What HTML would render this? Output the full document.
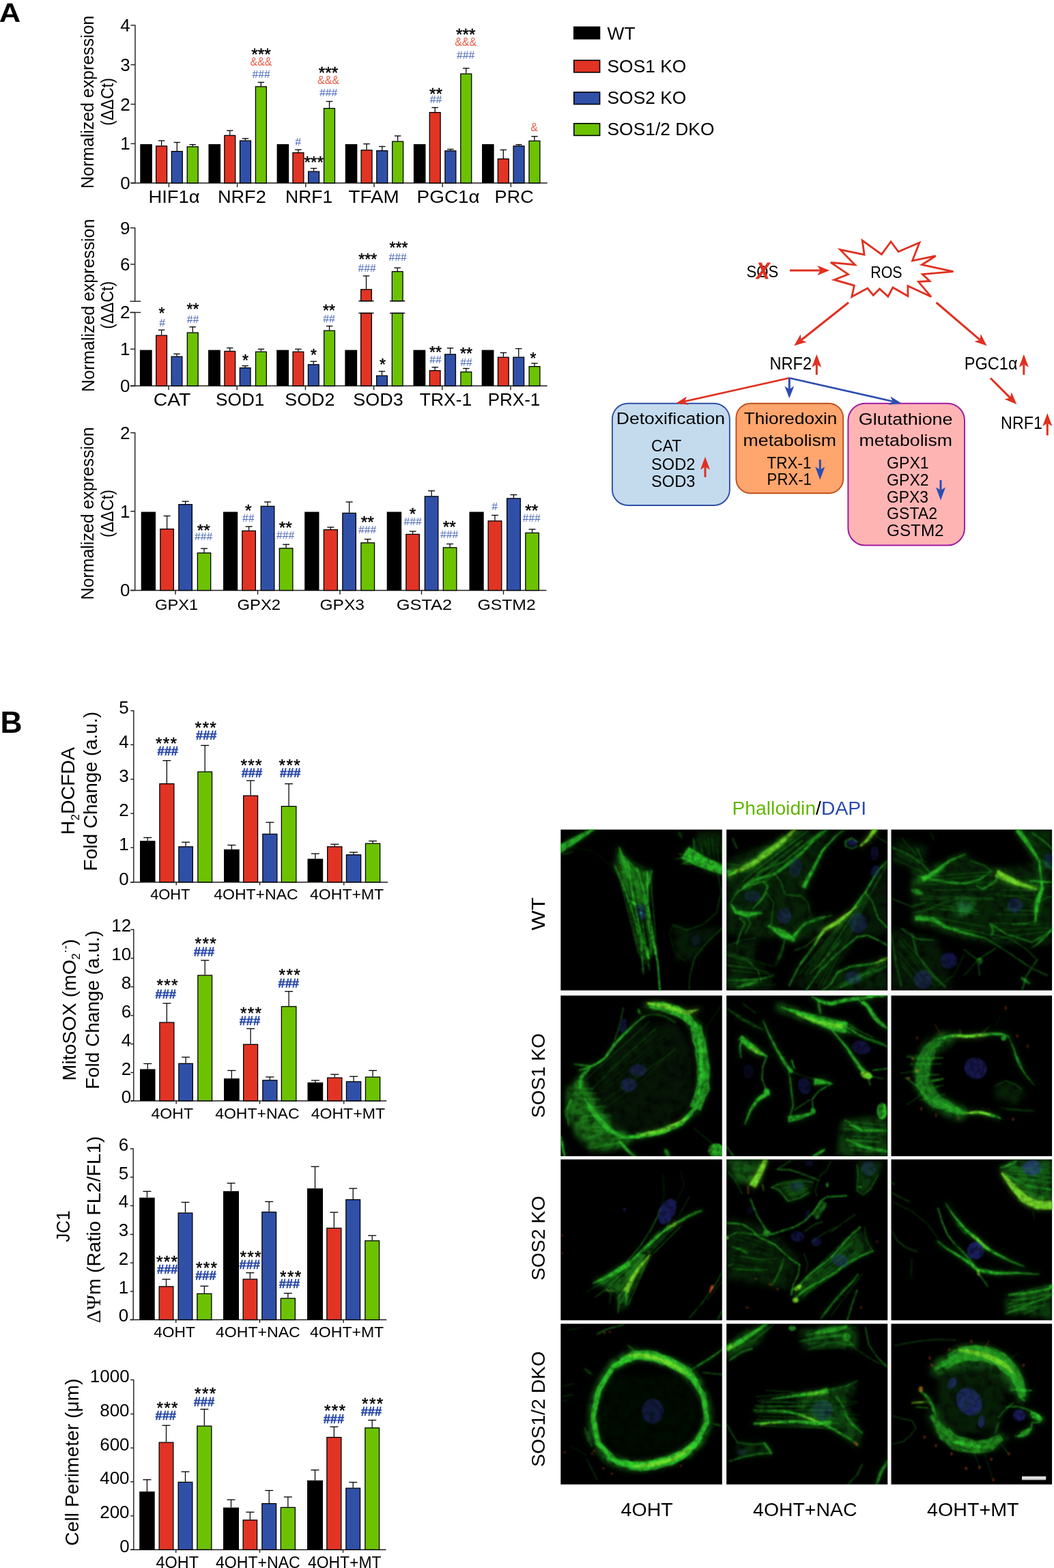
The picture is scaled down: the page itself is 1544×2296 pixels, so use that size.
<!DOCTYPE html>
<html lang="en"><head><meta charset="utf-8"><title>Figure</title>
<style>
html,body{margin:0;padding:0;background:#fff}
svg{display:block;font-family:"Liberation Sans",sans-serif}
</style></head>
<body>
<svg width="1544" height="2296" viewBox="0 0 1544 2296">
<rect width="1544" height="2296" fill="#fff"/>
<text x="-1.2" y="32.4" font-size="38.8" font-weight="bold" textLength="31.5" lengthAdjust="spacingAndGlyphs">A</text>
<text x="0.4" y="1073.2" font-size="44.3" font-weight="bold">B</text>
<line x1="198" y1="36.4" x2="198" y2="268.6" stroke="#1c1c1c" stroke-width="1.4" />
<line x1="191.5" y1="37" x2="198" y2="37" stroke="#1c1c1c" stroke-width="1.4" />
<text x="190.7" y="45.94" font-size="26" text-anchor="end">4</text>
<line x1="191.5" y1="94.8" x2="198" y2="94.8" stroke="#1c1c1c" stroke-width="1.4" />
<text x="190.7" y="103.74" font-size="26" text-anchor="end">3</text>
<line x1="191.5" y1="152.6" x2="198" y2="152.6" stroke="#1c1c1c" stroke-width="1.4" />
<text x="190.7" y="161.54" font-size="26" text-anchor="end">2</text>
<line x1="191.5" y1="210.4" x2="198" y2="210.4" stroke="#1c1c1c" stroke-width="1.4" />
<text x="190.7" y="219.34" font-size="26" text-anchor="end">1</text>
<line x1="191.5" y1="268" x2="198" y2="268" stroke="#1c1c1c" stroke-width="1.4" />
<text x="190.7" y="276.94" font-size="26" text-anchor="end">0</text>
<line x1="191.5" y1="268" x2="801.7" y2="268" stroke="#1c1c1c" stroke-width="1.4" />
<line x1="247.4" y1="268" x2="247.4" y2="274" stroke="#1c1c1c" stroke-width="1.4" />
<line x1="347.6" y1="268" x2="347.6" y2="274" stroke="#1c1c1c" stroke-width="1.4" />
<line x1="447.8" y1="268" x2="447.8" y2="274" stroke="#1c1c1c" stroke-width="1.4" />
<line x1="548" y1="268" x2="548" y2="274" stroke="#1c1c1c" stroke-width="1.4" />
<line x1="648.2" y1="268" x2="648.2" y2="274" stroke="#1c1c1c" stroke-width="1.4" />
<line x1="748.4" y1="268" x2="748.4" y2="274" stroke="#1c1c1c" stroke-width="1.4" />
<rect x="205.3" y="211.1" width="17.6" height="56.9" fill="#000" />
<line x1="236.6" y1="213.2" x2="236.6" y2="206" stroke="#000" stroke-width="1.25" />
<line x1="231.85" y1="206" x2="241.35" y2="206" stroke="#000" stroke-width="1.3" />
<rect x="228.65" y="213.85" width="15.9" height="54.15" fill="#e23424" stroke="#000" stroke-width="1.3" />
<line x1="259.3" y1="221" x2="259.3" y2="208.5" stroke="#000" stroke-width="1.25" />
<line x1="254.55" y1="208.5" x2="264.05" y2="208.5" stroke="#000" stroke-width="1.3" />
<rect x="251.35" y="221.65" width="15.9" height="46.35" fill="#3050a8" stroke="#000" stroke-width="1.3" />
<line x1="282.2" y1="214.2" x2="282.2" y2="211.7" stroke="#000" stroke-width="1.25" />
<line x1="277.45" y1="211.7" x2="286.95" y2="211.7" stroke="#000" stroke-width="1.3" />
<rect x="274.25" y="214.85" width="15.9" height="53.15" fill="#6cc200" stroke="#000" stroke-width="1.3" />
<rect x="305.45" y="211.1" width="17.6" height="56.9" fill="#000" />
<line x1="336.75" y1="197.7" x2="336.75" y2="191.2" stroke="#000" stroke-width="1.25" />
<line x1="332" y1="191.2" x2="341.5" y2="191.2" stroke="#000" stroke-width="1.3" />
<rect x="328.8" y="198.35" width="15.9" height="69.65" fill="#e23424" stroke="#000" stroke-width="1.3" />
<line x1="359.45" y1="205.4" x2="359.45" y2="202.8" stroke="#000" stroke-width="1.25" />
<line x1="354.7" y1="202.8" x2="364.2" y2="202.8" stroke="#000" stroke-width="1.3" />
<rect x="351.5" y="206.05" width="15.9" height="61.95" fill="#3050a8" stroke="#000" stroke-width="1.3" />
<line x1="382.35" y1="126.2" x2="382.35" y2="120.5" stroke="#000" stroke-width="1.25" />
<line x1="377.6" y1="120.5" x2="387.1" y2="120.5" stroke="#000" stroke-width="1.3" />
<rect x="374.4" y="126.85" width="15.9" height="141.15" fill="#6cc200" stroke="#000" stroke-width="1.3" />
<rect x="405.6" y="211.1" width="17.6" height="56.9" fill="#000" />
<line x1="436.9" y1="223" x2="436.9" y2="219.2" stroke="#000" stroke-width="1.25" />
<line x1="432.15" y1="219.2" x2="441.65" y2="219.2" stroke="#000" stroke-width="1.3" />
<rect x="428.95" y="223.65" width="15.9" height="44.35" fill="#e23424" stroke="#000" stroke-width="1.3" />
<line x1="459.6" y1="250.5" x2="459.6" y2="246.5" stroke="#000" stroke-width="1.25" />
<line x1="454.85" y1="246.5" x2="464.35" y2="246.5" stroke="#000" stroke-width="1.3" />
<rect x="451.65" y="251.15" width="15.9" height="16.85" fill="#3050a8" stroke="#000" stroke-width="1.3" />
<line x1="482.5" y1="158" x2="482.5" y2="148.5" stroke="#000" stroke-width="1.25" />
<line x1="477.75" y1="148.5" x2="487.25" y2="148.5" stroke="#000" stroke-width="1.3" />
<rect x="474.55" y="158.65" width="15.9" height="109.35" fill="#6cc200" stroke="#000" stroke-width="1.3" />
<rect x="505.75" y="211.1" width="17.6" height="56.9" fill="#000" />
<line x1="537.05" y1="219.2" x2="537.05" y2="210.7" stroke="#000" stroke-width="1.25" />
<line x1="532.3" y1="210.7" x2="541.8" y2="210.7" stroke="#000" stroke-width="1.3" />
<rect x="529.1" y="219.85" width="15.9" height="48.15" fill="#e23424" stroke="#000" stroke-width="1.3" />
<line x1="559.75" y1="220" x2="559.75" y2="214.5" stroke="#000" stroke-width="1.25" />
<line x1="555" y1="214.5" x2="564.5" y2="214.5" stroke="#000" stroke-width="1.3" />
<rect x="551.8" y="220.65" width="15.9" height="47.35" fill="#3050a8" stroke="#000" stroke-width="1.3" />
<line x1="582.65" y1="206.5" x2="582.65" y2="199" stroke="#000" stroke-width="1.25" />
<line x1="577.9" y1="199" x2="587.4" y2="199" stroke="#000" stroke-width="1.3" />
<rect x="574.7" y="207.15" width="15.9" height="60.85" fill="#6cc200" stroke="#000" stroke-width="1.3" />
<rect x="605.9" y="211.1" width="17.6" height="56.9" fill="#000" />
<line x1="637.2" y1="164" x2="637.2" y2="157.5" stroke="#000" stroke-width="1.25" />
<line x1="632.45" y1="157.5" x2="641.95" y2="157.5" stroke="#000" stroke-width="1.3" />
<rect x="629.25" y="164.65" width="15.9" height="103.35" fill="#e23424" stroke="#000" stroke-width="1.3" />
<line x1="659.9" y1="220.2" x2="659.9" y2="218.5" stroke="#000" stroke-width="1.25" />
<line x1="655.15" y1="218.5" x2="664.65" y2="218.5" stroke="#000" stroke-width="1.3" />
<rect x="651.95" y="220.85" width="15.9" height="47.15" fill="#3050a8" stroke="#000" stroke-width="1.3" />
<line x1="682.8" y1="107.5" x2="682.8" y2="100" stroke="#000" stroke-width="1.25" />
<line x1="678.05" y1="100" x2="687.55" y2="100" stroke="#000" stroke-width="1.3" />
<rect x="674.85" y="108.15" width="15.9" height="159.85" fill="#6cc200" stroke="#000" stroke-width="1.3" />
<rect x="706.05" y="211.1" width="17.6" height="56.9" fill="#000" />
<line x1="737.35" y1="232" x2="737.35" y2="219.5" stroke="#000" stroke-width="1.25" />
<line x1="732.6" y1="219.5" x2="742.1" y2="219.5" stroke="#000" stroke-width="1.3" />
<rect x="729.4" y="232.65" width="15.9" height="35.35" fill="#e23424" stroke="#000" stroke-width="1.3" />
<line x1="760.05" y1="213.2" x2="760.05" y2="211.7" stroke="#000" stroke-width="1.25" />
<line x1="755.3" y1="211.7" x2="764.8" y2="211.7" stroke="#000" stroke-width="1.3" />
<rect x="752.1" y="213.85" width="15.9" height="54.15" fill="#3050a8" stroke="#000" stroke-width="1.3" />
<line x1="782.95" y1="205.7" x2="782.95" y2="199.7" stroke="#000" stroke-width="1.25" />
<line x1="778.2" y1="199.7" x2="787.7" y2="199.7" stroke="#000" stroke-width="1.3" />
<rect x="775" y="206.35" width="15.9" height="61.65" fill="#6cc200" stroke="#000" stroke-width="1.3" />
<text x="217.4" y="296.6" font-size="26" textLength="75.3" lengthAdjust="spacingAndGlyphs">HIF1α</text>
<text x="318.9" y="296.6" font-size="26" textLength="70.9" lengthAdjust="spacingAndGlyphs">NRF2</text>
<text x="418.1" y="296.6" font-size="26" textLength="69.1" lengthAdjust="spacingAndGlyphs">NRF1</text>
<text x="510.6" y="296.6" font-size="26" textLength="74.1" lengthAdjust="spacingAndGlyphs">TFAM</text>
<text x="610.6" y="296.6" font-size="26" textLength="92.1" lengthAdjust="spacingAndGlyphs">PGC1α</text>
<text x="724.6" y="296.6" font-size="26" textLength="57.1" lengthAdjust="spacingAndGlyphs">PRC</text>
<text x="137" y="149.4" font-size="25" text-anchor="middle" textLength="253" lengthAdjust="spacingAndGlyphs" transform="rotate(-90 137 149.4)">Normalized expression</text>
<text x="166" y="149" font-size="25" text-anchor="middle" textLength="70" lengthAdjust="spacingAndGlyphs" transform="rotate(-90 166 149)">(ΔΔCt)</text>
<text x="382.5" y="87.72" font-size="24.5" text-anchor="middle" stroke="#000" stroke-width="0.45">***</text>
<text x="382.5" y="96.14" font-size="16" text-anchor="middle" fill="#e8604c">&amp;&amp;&amp;</text>
<text x="382.5" y="113.69" font-size="17.5" font-family='"Liberation Serif", serif' text-anchor="middle" fill="#4a68b8">###</text>
<text x="436.7" y="213.19" font-size="17.5" font-family='"Liberation Serif", serif' text-anchor="middle" fill="#4a68b8">#</text>
<text x="459.7" y="246.32" font-size="24.5" text-anchor="middle" stroke="#000" stroke-width="0.45">***</text>
<text x="481" y="114.62" font-size="24.5" text-anchor="middle" stroke="#000" stroke-width="0.45">***</text>
<text x="481" y="122.94" font-size="16" text-anchor="middle" fill="#e8604c">&amp;&amp;&amp;</text>
<text x="481" y="140.69" font-size="17.5" font-family='"Liberation Serif", serif' text-anchor="middle" fill="#4a68b8">###</text>
<text x="638.5" y="146.32" font-size="24.5" text-anchor="middle" stroke="#000" stroke-width="0.45">**</text>
<text x="638.5" y="150.69" font-size="17.5" font-family='"Liberation Serif", serif' text-anchor="middle" fill="#4a68b8">##</text>
<text x="682.2" y="59.32" font-size="24.5" text-anchor="middle" stroke="#000" stroke-width="0.45">***</text>
<text x="682.2" y="66.64" font-size="16" text-anchor="middle" fill="#e8604c">&amp;&amp;&amp;</text>
<text x="682.2" y="85.69" font-size="17.5" font-family='"Liberation Serif", serif' text-anchor="middle" fill="#4a68b8">###</text>
<text x="782.5" y="191.64" font-size="16" text-anchor="middle" fill="#e8604c">&amp;</text>
<rect x="840" y="38.7" width="39.3" height="19" fill="#000" />
<text x="889.5" y="57.5" font-size="26.4">WT</text>
<rect x="840.8" y="88.3" width="37.8" height="17.6" fill="#e23424" stroke="#000" stroke-width="1.6" />
<text x="889.5" y="105.5" font-size="26.4">SOS1 KO</text>
<rect x="840.8" y="135" width="37.8" height="17.6" fill="#3050a8" stroke="#000" stroke-width="1.6" />
<text x="889.5" y="152" font-size="26.4">SOS2 KO</text>
<rect x="840.8" y="180.8" width="37.8" height="17.6" fill="#6cc200" stroke="#000" stroke-width="1.6" />
<text x="889.5" y="198" font-size="26.4">SOS1/2 DKO</text>
<line x1="197.7" y1="333.2" x2="197.7" y2="441.2" stroke="#1c1c1c" stroke-width="1.4" />
<line x1="197.7" y1="457.5" x2="197.7" y2="565.6" stroke="#1c1c1c" stroke-width="1.4" />
<line x1="191" y1="333.7" x2="197.7" y2="333.7" stroke="#1c1c1c" stroke-width="1.4" />
<text x="190.4" y="342.64" font-size="26" text-anchor="end">9</text>
<line x1="191" y1="387" x2="197.7" y2="387" stroke="#1c1c1c" stroke-width="1.4" />
<text x="190.4" y="395.94" font-size="26" text-anchor="end">6</text>
<line x1="191" y1="457.5" x2="197.7" y2="457.5" stroke="#1c1c1c" stroke-width="1.4" />
<text x="190.4" y="466.44" font-size="26" text-anchor="end">2</text>
<line x1="191" y1="511.2" x2="197.7" y2="511.2" stroke="#1c1c1c" stroke-width="1.4" />
<text x="190.4" y="520.14" font-size="26" text-anchor="end">1</text>
<line x1="191" y1="565" x2="197.7" y2="565" stroke="#1c1c1c" stroke-width="1.4" />
<text x="190.4" y="573.94" font-size="26" text-anchor="end">0</text>
<line x1="190.5" y1="441.2" x2="206.2" y2="441.2" stroke="#1c1c1c" stroke-width="1.4" />
<line x1="190.5" y1="457.5" x2="206.2" y2="457.5" stroke="#1c1c1c" stroke-width="1.4" />
<line x1="191" y1="565" x2="801.7" y2="565" stroke="#1c1c1c" stroke-width="1.4" />
<line x1="247" y1="565" x2="247" y2="571" stroke="#1c1c1c" stroke-width="1.4" />
<line x1="347.2" y1="565" x2="347.2" y2="571" stroke="#1c1c1c" stroke-width="1.4" />
<line x1="447.4" y1="565" x2="447.4" y2="571" stroke="#1c1c1c" stroke-width="1.4" />
<line x1="547.6" y1="565" x2="547.6" y2="571" stroke="#1c1c1c" stroke-width="1.4" />
<line x1="647.8" y1="565" x2="647.8" y2="571" stroke="#1c1c1c" stroke-width="1.4" />
<line x1="748" y1="565" x2="748" y2="571" stroke="#1c1c1c" stroke-width="1.4" />
<rect x="204.9" y="512.5" width="17.8" height="52.5" fill="#000" />
<line x1="236.6" y1="490.5" x2="236.6" y2="483.2" stroke="#000" stroke-width="1.25" />
<line x1="231.85" y1="483.2" x2="241.35" y2="483.2" stroke="#000" stroke-width="1.3" />
<rect x="228.75" y="491.15" width="15.7" height="73.85" fill="#e23424" stroke="#000" stroke-width="1.3" />
<line x1="259" y1="521.5" x2="259" y2="518.2" stroke="#000" stroke-width="1.25" />
<line x1="254.25" y1="518.2" x2="263.75" y2="518.2" stroke="#000" stroke-width="1.3" />
<rect x="251.15" y="522.15" width="15.7" height="42.85" fill="#3050a8" stroke="#000" stroke-width="1.3" />
<line x1="282.25" y1="486.5" x2="282.25" y2="478.7" stroke="#000" stroke-width="1.25" />
<line x1="277.5" y1="478.7" x2="287" y2="478.7" stroke="#000" stroke-width="1.3" />
<rect x="274.35" y="487.15" width="15.8" height="77.85" fill="#6cc200" stroke="#000" stroke-width="1.3" />
<rect x="305.05" y="512.5" width="17.8" height="52.5" fill="#000" />
<line x1="336.75" y1="513.7" x2="336.75" y2="509.5" stroke="#000" stroke-width="1.25" />
<line x1="332" y1="509.5" x2="341.5" y2="509.5" stroke="#000" stroke-width="1.3" />
<rect x="328.9" y="514.35" width="15.7" height="50.65" fill="#e23424" stroke="#000" stroke-width="1.3" />
<line x1="359.15" y1="538" x2="359.15" y2="535.7" stroke="#000" stroke-width="1.25" />
<line x1="354.4" y1="535.7" x2="363.9" y2="535.7" stroke="#000" stroke-width="1.3" />
<rect x="351.3" y="538.65" width="15.7" height="26.35" fill="#3050a8" stroke="#000" stroke-width="1.3" />
<line x1="382.4" y1="514.5" x2="382.4" y2="511.2" stroke="#000" stroke-width="1.25" />
<line x1="377.65" y1="511.2" x2="387.15" y2="511.2" stroke="#000" stroke-width="1.3" />
<rect x="374.5" y="515.15" width="15.8" height="49.85" fill="#6cc200" stroke="#000" stroke-width="1.3" />
<rect x="405.2" y="512.5" width="17.8" height="52.5" fill="#000" />
<line x1="436.9" y1="514.5" x2="436.9" y2="511.2" stroke="#000" stroke-width="1.25" />
<line x1="432.15" y1="511.2" x2="441.65" y2="511.2" stroke="#000" stroke-width="1.3" />
<rect x="429.05" y="515.15" width="15.7" height="49.85" fill="#e23424" stroke="#000" stroke-width="1.3" />
<line x1="459.3" y1="533.2" x2="459.3" y2="529.2" stroke="#000" stroke-width="1.25" />
<line x1="454.55" y1="529.2" x2="464.05" y2="529.2" stroke="#000" stroke-width="1.3" />
<rect x="451.45" y="533.85" width="15.7" height="31.15" fill="#3050a8" stroke="#000" stroke-width="1.3" />
<line x1="482.55" y1="483.5" x2="482.55" y2="477.5" stroke="#000" stroke-width="1.25" />
<line x1="477.8" y1="477.5" x2="487.3" y2="477.5" stroke="#000" stroke-width="1.3" />
<rect x="474.65" y="484.15" width="15.8" height="80.85" fill="#6cc200" stroke="#000" stroke-width="1.3" />
<rect x="505.35" y="512.5" width="17.8" height="52.5" fill="#000" />
<line x1="559.45" y1="549.5" x2="559.45" y2="543.7" stroke="#000" stroke-width="1.25" />
<line x1="554.7" y1="543.7" x2="564.2" y2="543.7" stroke="#000" stroke-width="1.3" />
<rect x="551.6" y="550.15" width="15.7" height="14.85" fill="#3050a8" stroke="#000" stroke-width="1.3" />
<rect x="605.5" y="512.5" width="17.8" height="52.5" fill="#000" />
<line x1="637.2" y1="542" x2="637.2" y2="537.7" stroke="#000" stroke-width="1.25" />
<line x1="632.45" y1="537.7" x2="641.95" y2="537.7" stroke="#000" stroke-width="1.3" />
<rect x="629.35" y="542.65" width="15.7" height="22.35" fill="#e23424" stroke="#000" stroke-width="1.3" />
<line x1="659.6" y1="518.2" x2="659.6" y2="509.7" stroke="#000" stroke-width="1.25" />
<line x1="654.85" y1="509.7" x2="664.35" y2="509.7" stroke="#000" stroke-width="1.3" />
<rect x="651.75" y="518.85" width="15.7" height="46.15" fill="#3050a8" stroke="#000" stroke-width="1.3" />
<line x1="682.85" y1="544" x2="682.85" y2="539.5" stroke="#000" stroke-width="1.25" />
<line x1="678.1" y1="539.5" x2="687.6" y2="539.5" stroke="#000" stroke-width="1.3" />
<rect x="674.95" y="544.65" width="15.8" height="20.35" fill="#6cc200" stroke="#000" stroke-width="1.3" />
<rect x="705.65" y="512.5" width="17.8" height="52.5" fill="#000" />
<line x1="737.35" y1="522.5" x2="737.35" y2="516.5" stroke="#000" stroke-width="1.25" />
<line x1="732.6" y1="516.5" x2="742.1" y2="516.5" stroke="#000" stroke-width="1.3" />
<rect x="729.5" y="523.15" width="15.7" height="41.85" fill="#e23424" stroke="#000" stroke-width="1.3" />
<line x1="759.75" y1="522.5" x2="759.75" y2="510.5" stroke="#000" stroke-width="1.25" />
<line x1="755" y1="510.5" x2="764.5" y2="510.5" stroke="#000" stroke-width="1.3" />
<rect x="751.9" y="523.15" width="15.7" height="41.85" fill="#3050a8" stroke="#000" stroke-width="1.3" />
<line x1="783" y1="536" x2="783" y2="532" stroke="#000" stroke-width="1.25" />
<line x1="778.25" y1="532" x2="787.75" y2="532" stroke="#000" stroke-width="1.3" />
<rect x="775.1" y="536.65" width="15.8" height="28.35" fill="#6cc200" stroke="#000" stroke-width="1.3" />
<line x1="536.5" y1="423.2" x2="536.5" y2="404" stroke="#000" stroke-width="1.25" />
<line x1="531.8" y1="404" x2="541.2" y2="404" stroke="#000" stroke-width="1.3" />
<rect x="528.65" y="458.5" width="15.7" height="106.5" fill="#e23424" stroke="#000" stroke-width="1.3" />
<rect x="528.65" y="423.85" width="15.7" height="16.85" fill="#e23424" stroke="#000" stroke-width="1.3" />
<line x1="525.4" y1="458.5" x2="547.6" y2="458.5" stroke="#000" stroke-width="1.4" />
<line x1="525.4" y1="440.7" x2="547.6" y2="440.7" stroke="#000" stroke-width="1.4" />
<line x1="582.2" y1="397" x2="582.2" y2="392.2" stroke="#000" stroke-width="1.25" />
<line x1="577.5" y1="392.2" x2="586.9" y2="392.2" stroke="#000" stroke-width="1.3" />
<rect x="574.35" y="458.5" width="15.7" height="106.5" fill="#6cc200" stroke="#000" stroke-width="1.3" />
<rect x="574.35" y="397.65" width="15.7" height="43.05" fill="#6cc200" stroke="#000" stroke-width="1.3" />
<line x1="571.1" y1="458.5" x2="593.3" y2="458.5" stroke="#000" stroke-width="1.4" />
<line x1="571.1" y1="440.7" x2="593.3" y2="440.7" stroke="#000" stroke-width="1.4" />
<text x="224.8" y="593.7" font-size="26" textLength="54.5" lengthAdjust="spacingAndGlyphs">CAT</text>
<text x="316.1" y="593.7" font-size="26" textLength="71.3" lengthAdjust="spacingAndGlyphs">SOD1</text>
<text x="417.3" y="593.7" font-size="26" textLength="73.1" lengthAdjust="spacingAndGlyphs">SOD2</text>
<text x="517.3" y="593.7" font-size="26" textLength="73.4" lengthAdjust="spacingAndGlyphs">SOD3</text>
<text x="614.8" y="593.7" font-size="26" textLength="76.4" lengthAdjust="spacingAndGlyphs">TRX-1</text>
<text x="714.8" y="593.7" font-size="26" textLength="76.4" lengthAdjust="spacingAndGlyphs">PRX-1</text>
<text x="138.2" y="447.2" font-size="25" text-anchor="middle" textLength="253" lengthAdjust="spacingAndGlyphs" transform="rotate(-90 138.2 447.2)">Normalized expression</text>
<text x="166" y="446.7" font-size="25" text-anchor="middle" textLength="70" lengthAdjust="spacingAndGlyphs" transform="rotate(-90 166 446.7)">(ΔΔCt)</text>
<text x="237" y="467.35" font-size="23" text-anchor="middle" stroke="#000" stroke-width="0.45">*</text>
<text x="237.5" y="477.69" font-size="17.5" font-family='"Liberation Serif", serif' text-anchor="middle" fill="#4a68b8">#</text>
<text x="282.5" y="460.85" font-size="23" text-anchor="middle" stroke="#000" stroke-width="0.45">**</text>
<text x="282.5" y="473.19" font-size="17.5" font-family='"Liberation Serif", serif' text-anchor="middle" fill="#4a68b8">##</text>
<text x="359.5" y="536.35" font-size="23" text-anchor="middle" stroke="#000" stroke-width="0.45">*</text>
<text x="459.5" y="527.85" font-size="23" text-anchor="middle" stroke="#000" stroke-width="0.45">*</text>
<text x="482" y="462.85" font-size="23" text-anchor="middle" stroke="#000" stroke-width="0.45">**</text>
<text x="482" y="472.19" font-size="17.5" font-family='"Liberation Serif", serif' text-anchor="middle" fill="#4a68b8">##</text>
<text x="538.7" y="387.85" font-size="23" text-anchor="middle" stroke="#000" stroke-width="0.45">***</text>
<text x="537.5" y="398.19" font-size="17.5" font-family='"Liberation Serif", serif' text-anchor="middle" fill="#4a68b8">###</text>
<text x="584" y="371.35" font-size="23" text-anchor="middle" stroke="#000" stroke-width="0.45">***</text>
<text x="582.5" y="381.69" font-size="17.5" font-family='"Liberation Serif", serif' text-anchor="middle" fill="#4a68b8">###</text>
<text x="560.5" y="542.35" font-size="23" text-anchor="middle" stroke="#000" stroke-width="0.45">*</text>
<text x="638" y="523.85" font-size="23" text-anchor="middle" stroke="#000" stroke-width="0.45">**</text>
<text x="638" y="531.69" font-size="17.5" font-family='"Liberation Serif", serif' text-anchor="middle" fill="#4a68b8">##</text>
<text x="683" y="525.55" font-size="23" text-anchor="middle" stroke="#000" stroke-width="0.45">**</text>
<text x="683" y="536.19" font-size="17.5" font-family='"Liberation Serif", serif' text-anchor="middle" fill="#4a68b8">##</text>
<text x="781" y="532.55" font-size="23" text-anchor="middle" stroke="#000" stroke-width="0.45">*</text>
<line x1="197.7" y1="633.1" x2="197.7" y2="865.1" stroke="#1c1c1c" stroke-width="1.4" />
<line x1="191.2" y1="633.7" x2="197.7" y2="633.7" stroke="#1c1c1c" stroke-width="1.4" />
<text x="190.4" y="642.64" font-size="26" text-anchor="end">2</text>
<line x1="191.2" y1="748.7" x2="197.7" y2="748.7" stroke="#1c1c1c" stroke-width="1.4" />
<text x="190.4" y="757.64" font-size="26" text-anchor="end">1</text>
<line x1="191.2" y1="864.5" x2="197.7" y2="864.5" stroke="#1c1c1c" stroke-width="1.4" />
<text x="190.4" y="873.44" font-size="26" text-anchor="end">0</text>
<line x1="191" y1="864.5" x2="800.5" y2="864.5" stroke="#1c1c1c" stroke-width="1.4" />
<line x1="257" y1="864.5" x2="257" y2="870.5" stroke="#1c1c1c" stroke-width="1.4" />
<line x1="377.5" y1="864.5" x2="377.5" y2="870.5" stroke="#1c1c1c" stroke-width="1.4" />
<line x1="498" y1="864.5" x2="498" y2="870.5" stroke="#1c1c1c" stroke-width="1.4" />
<line x1="617.5" y1="864.5" x2="617.5" y2="870.5" stroke="#1c1c1c" stroke-width="1.4" />
<line x1="737.5" y1="864.5" x2="737.5" y2="870.5" stroke="#1c1c1c" stroke-width="1.4" />
<rect x="206.7" y="749.5" width="21.3" height="115" fill="#000" />
<line x1="244.6" y1="774" x2="244.6" y2="755.5" stroke="#000" stroke-width="1.25" />
<line x1="239.6" y1="755.5" x2="249.6" y2="755.5" stroke="#000" stroke-width="1.3" />
<rect x="234.85" y="774.65" width="19.5" height="89.85" fill="#e23424" stroke="#000" stroke-width="1.3" />
<line x1="271.6" y1="738" x2="271.6" y2="734.2" stroke="#000" stroke-width="1.25" />
<line x1="266.6" y1="734.2" x2="276.6" y2="734.2" stroke="#000" stroke-width="1.3" />
<rect x="261.85" y="738.65" width="19.5" height="125.85" fill="#3050a8" stroke="#000" stroke-width="1.3" />
<line x1="299" y1="809" x2="299" y2="803.2" stroke="#000" stroke-width="1.25" />
<line x1="294" y1="803.2" x2="304" y2="803.2" stroke="#000" stroke-width="1.3" />
<rect x="289.35" y="809.65" width="19.3" height="54.85" fill="#6cc200" stroke="#000" stroke-width="1.3" />
<rect x="327" y="749.5" width="21.2" height="115" fill="#000" />
<line x1="364.6" y1="776.7" x2="364.6" y2="771" stroke="#000" stroke-width="1.25" />
<line x1="359.6" y1="771" x2="369.6" y2="771" stroke="#000" stroke-width="1.3" />
<rect x="354.85" y="777.35" width="19.5" height="87.15" fill="#e23424" stroke="#000" stroke-width="1.3" />
<line x1="392.05" y1="740.7" x2="392.05" y2="735" stroke="#000" stroke-width="1.25" />
<line x1="387.05" y1="735" x2="397.05" y2="735" stroke="#000" stroke-width="1.3" />
<rect x="382.25" y="741.35" width="19.6" height="123.15" fill="#3050a8" stroke="#000" stroke-width="1.3" />
<line x1="419.1" y1="802.2" x2="419.1" y2="797.2" stroke="#000" stroke-width="1.25" />
<line x1="414.1" y1="797.2" x2="424.1" y2="797.2" stroke="#000" stroke-width="1.3" />
<rect x="409.35" y="802.85" width="19.5" height="61.65" fill="#6cc200" stroke="#000" stroke-width="1.3" />
<rect x="446.2" y="749.5" width="21.3" height="115" fill="#000" />
<line x1="484.35" y1="775" x2="484.35" y2="772" stroke="#000" stroke-width="1.25" />
<line x1="479.35" y1="772" x2="489.35" y2="772" stroke="#000" stroke-width="1.3" />
<rect x="474.35" y="775.65" width="20" height="88.85" fill="#e23424" stroke="#000" stroke-width="1.3" />
<line x1="511.6" y1="750.7" x2="511.6" y2="735" stroke="#000" stroke-width="1.25" />
<line x1="506.6" y1="735" x2="516.6" y2="735" stroke="#000" stroke-width="1.3" />
<rect x="501.85" y="751.35" width="19.5" height="113.15" fill="#3050a8" stroke="#000" stroke-width="1.3" />
<line x1="538.7" y1="794.2" x2="538.7" y2="789.5" stroke="#000" stroke-width="1.25" />
<line x1="533.7" y1="789.5" x2="543.7" y2="789.5" stroke="#000" stroke-width="1.3" />
<rect x="528.85" y="794.85" width="19.7" height="69.65" fill="#6cc200" stroke="#000" stroke-width="1.3" />
<rect x="566.7" y="749.5" width="21.5" height="115" fill="#000" />
<line x1="604.6" y1="781.7" x2="604.6" y2="778" stroke="#000" stroke-width="1.25" />
<line x1="599.6" y1="778" x2="609.6" y2="778" stroke="#000" stroke-width="1.3" />
<rect x="594.85" y="782.35" width="19.5" height="82.15" fill="#e23424" stroke="#000" stroke-width="1.3" />
<line x1="632.1" y1="726.2" x2="632.1" y2="718.7" stroke="#000" stroke-width="1.25" />
<line x1="627.1" y1="718.7" x2="637.1" y2="718.7" stroke="#000" stroke-width="1.3" />
<rect x="622.35" y="726.85" width="19.5" height="137.65" fill="#3050a8" stroke="#000" stroke-width="1.3" />
<line x1="659.1" y1="801.2" x2="659.1" y2="796.5" stroke="#000" stroke-width="1.25" />
<line x1="654.1" y1="796.5" x2="664.1" y2="796.5" stroke="#000" stroke-width="1.3" />
<rect x="649.35" y="801.85" width="19.5" height="62.65" fill="#6cc200" stroke="#000" stroke-width="1.3" />
<rect x="687.5" y="749.5" width="21.2" height="115" fill="#000" />
<line x1="725" y1="762.2" x2="725" y2="754.5" stroke="#000" stroke-width="1.25" />
<line x1="720" y1="754.5" x2="730" y2="754.5" stroke="#000" stroke-width="1.3" />
<rect x="715.15" y="762.85" width="19.7" height="101.65" fill="#e23424" stroke="#000" stroke-width="1.3" />
<line x1="752.5" y1="729.2" x2="752.5" y2="724.5" stroke="#000" stroke-width="1.25" />
<line x1="747.5" y1="724.5" x2="757.5" y2="724.5" stroke="#000" stroke-width="1.3" />
<rect x="742.65" y="729.85" width="19.7" height="134.65" fill="#3050a8" stroke="#000" stroke-width="1.3" />
<line x1="779.6" y1="779.7" x2="779.6" y2="775" stroke="#000" stroke-width="1.25" />
<line x1="774.6" y1="775" x2="784.6" y2="775" stroke="#000" stroke-width="1.3" />
<rect x="769.85" y="780.35" width="19.5" height="84.15" fill="#6cc200" stroke="#000" stroke-width="1.3" />
<text x="227" y="892.5" font-size="22.5" textLength="63.2" lengthAdjust="spacingAndGlyphs">GPX1</text>
<text x="347.5" y="892.5" font-size="22.5" textLength="63.5" lengthAdjust="spacingAndGlyphs">GPX2</text>
<text x="468.5" y="892.5" font-size="22.5" textLength="65.5" lengthAdjust="spacingAndGlyphs">GPX3</text>
<text x="580.7" y="892.5" font-size="22.5" textLength="81.5" lengthAdjust="spacingAndGlyphs">GSTA2</text>
<text x="699.5" y="892.5" font-size="22.5" textLength="85.2" lengthAdjust="spacingAndGlyphs">GSTM2</text>
<text x="137.5" y="751.8" font-size="25" text-anchor="middle" textLength="253" lengthAdjust="spacingAndGlyphs" transform="rotate(-90 137.5 751.8)">Normalized expression</text>
<text x="166" y="752" font-size="25" text-anchor="middle" textLength="70" lengthAdjust="spacingAndGlyphs" transform="rotate(-90 166 752)">(ΔΔCt)</text>
<text x="298.2" y="784.62" font-size="24.5" text-anchor="middle" stroke="#000" stroke-width="0.45">**</text>
<text x="298.2" y="791.39" font-size="17.5" font-family='"Liberation Serif", serif' text-anchor="middle" fill="#4a68b8">###</text>
<text x="363.7" y="755.82" font-size="24.5" text-anchor="middle" stroke="#000" stroke-width="0.45">*</text>
<text x="363.7" y="763.69" font-size="17.5" font-family='"Liberation Serif", serif' text-anchor="middle" fill="#4a68b8">##</text>
<text x="418.2" y="780.62" font-size="24.5" text-anchor="middle" stroke="#000" stroke-width="0.45">**</text>
<text x="418.2" y="788.69" font-size="17.5" font-family='"Liberation Serif", serif' text-anchor="middle" fill="#4a68b8">###</text>
<text x="538.2" y="772.62" font-size="24.5" text-anchor="middle" stroke="#000" stroke-width="0.45">**</text>
<text x="538.2" y="780.69" font-size="17.5" font-family='"Liberation Serif", serif' text-anchor="middle" fill="#4a68b8">###</text>
<text x="604.5" y="761.32" font-size="24.5" text-anchor="middle" stroke="#000" stroke-width="0.45">*</text>
<text x="604.5" y="768.69" font-size="17.5" font-family='"Liberation Serif", serif' text-anchor="middle" fill="#4a68b8">###</text>
<text x="658.2" y="780.12" font-size="24.5" text-anchor="middle" stroke="#000" stroke-width="0.45">**</text>
<text x="658.2" y="787.69" font-size="17.5" font-family='"Liberation Serif", serif' text-anchor="middle" fill="#4a68b8">###</text>
<text x="724.5" y="746.89" font-size="17.5" font-family='"Liberation Serif", serif' text-anchor="middle" fill="#4a68b8">#</text>
<text x="778.7" y="755.62" font-size="24.5" text-anchor="middle" stroke="#000" stroke-width="0.45">**</text>
<text x="778.7" y="764.39" font-size="17.5" font-family='"Liberation Serif", serif' text-anchor="middle" fill="#4a68b8">###</text>
<line x1="195.8" y1="1040.1" x2="195.8" y2="1292.3" stroke="#1c1c1c" stroke-width="1.4" />
<line x1="191.3" y1="1040.7" x2="195.8" y2="1040.7" stroke="#1c1c1c" stroke-width="1.4" />
<text x="188.8" y="1044.84" font-size="26" text-anchor="end">5</text>
<line x1="191.3" y1="1090.5" x2="195.8" y2="1090.5" stroke="#1c1c1c" stroke-width="1.4" />
<text x="188.8" y="1094.64" font-size="26" text-anchor="end">4</text>
<line x1="191.3" y1="1141" x2="195.8" y2="1141" stroke="#1c1c1c" stroke-width="1.4" />
<text x="188.8" y="1145.14" font-size="26" text-anchor="end">3</text>
<line x1="191.3" y1="1191.2" x2="195.8" y2="1191.2" stroke="#1c1c1c" stroke-width="1.4" />
<text x="188.8" y="1195.34" font-size="26" text-anchor="end">2</text>
<line x1="191.3" y1="1241.2" x2="195.8" y2="1241.2" stroke="#1c1c1c" stroke-width="1.4" />
<text x="188.8" y="1245.34" font-size="26" text-anchor="end">1</text>
<line x1="191.3" y1="1291.7" x2="195.8" y2="1291.7" stroke="#1c1c1c" stroke-width="1.4" />
<text x="188.8" y="1295.84" font-size="26" text-anchor="end">0</text>
<line x1="191.3" y1="1291.7" x2="568" y2="1291.7" stroke="#1c1c1c" stroke-width="1.4" />
<line x1="258.2" y1="1291.7" x2="258.2" y2="1296.2" stroke="#1c1c1c" stroke-width="1.4" />
<line x1="380.5" y1="1291.7" x2="380.5" y2="1296.2" stroke="#1c1c1c" stroke-width="1.4" />
<line x1="503.7" y1="1291.7" x2="503.7" y2="1296.2" stroke="#1c1c1c" stroke-width="1.4" />
<line x1="216.25" y1="1231.2" x2="216.25" y2="1226.5" stroke="#000" stroke-width="1.25" />
<line x1="210.25" y1="1226.5" x2="222.25" y2="1226.5" stroke="#000" stroke-width="1.3" />
<rect x="205" y="1231.2" width="22.5" height="60.5" fill="#000" />
<line x1="244.35" y1="1147" x2="244.35" y2="1113.7" stroke="#000" stroke-width="1.25" />
<line x1="238.35" y1="1113.7" x2="250.35" y2="1113.7" stroke="#000" stroke-width="1.3" />
<rect x="233.85" y="1147.65" width="21" height="144.05" fill="#e23424" stroke="#000" stroke-width="1.3" />
<line x1="272.1" y1="1239.2" x2="272.1" y2="1233.2" stroke="#000" stroke-width="1.25" />
<line x1="266.1" y1="1233.2" x2="278.1" y2="1233.2" stroke="#000" stroke-width="1.3" />
<rect x="261.85" y="1239.85" width="20.5" height="51.85" fill="#3050a8" stroke="#000" stroke-width="1.3" />
<line x1="300.2" y1="1129.5" x2="300.2" y2="1091.5" stroke="#000" stroke-width="1.25" />
<line x1="294.2" y1="1091.5" x2="306.2" y2="1091.5" stroke="#000" stroke-width="1.3" />
<rect x="289.85" y="1130.15" width="20.7" height="161.55" fill="#6cc200" stroke="#000" stroke-width="1.3" />
<line x1="339.35" y1="1243.7" x2="339.35" y2="1237.5" stroke="#000" stroke-width="1.25" />
<line x1="333.35" y1="1237.5" x2="345.35" y2="1237.5" stroke="#000" stroke-width="1.3" />
<rect x="328" y="1243.7" width="22.7" height="48" fill="#000" />
<line x1="367.1" y1="1164.5" x2="367.1" y2="1143" stroke="#000" stroke-width="1.25" />
<line x1="361.1" y1="1143" x2="373.1" y2="1143" stroke="#000" stroke-width="1.3" />
<rect x="356.65" y="1165.15" width="20.9" height="126.55" fill="#e23424" stroke="#000" stroke-width="1.3" />
<line x1="395.35" y1="1220.7" x2="395.35" y2="1204.2" stroke="#000" stroke-width="1.25" />
<line x1="389.35" y1="1204.2" x2="401.35" y2="1204.2" stroke="#000" stroke-width="1.3" />
<rect x="384.85" y="1221.35" width="21" height="70.35" fill="#3050a8" stroke="#000" stroke-width="1.3" />
<line x1="423.1" y1="1180" x2="423.1" y2="1147.7" stroke="#000" stroke-width="1.25" />
<line x1="417.1" y1="1147.7" x2="429.1" y2="1147.7" stroke="#000" stroke-width="1.3" />
<rect x="412.35" y="1180.65" width="21.5" height="111.05" fill="#6cc200" stroke="#000" stroke-width="1.3" />
<line x1="461.85" y1="1257.5" x2="461.85" y2="1250" stroke="#000" stroke-width="1.25" />
<line x1="455.85" y1="1250" x2="467.85" y2="1250" stroke="#000" stroke-width="1.3" />
<rect x="450.5" y="1257.5" width="22.7" height="34.2" fill="#000" />
<line x1="490.25" y1="1239.2" x2="490.25" y2="1236.2" stroke="#000" stroke-width="1.25" />
<line x1="484.25" y1="1236.2" x2="496.25" y2="1236.2" stroke="#000" stroke-width="1.3" />
<rect x="479.65" y="1239.85" width="21.2" height="51.85" fill="#e23424" stroke="#000" stroke-width="1.3" />
<line x1="518.05" y1="1251" x2="518.05" y2="1248" stroke="#000" stroke-width="1.25" />
<line x1="512.05" y1="1248" x2="524.05" y2="1248" stroke="#000" stroke-width="1.3" />
<rect x="507.45" y="1251.65" width="21.2" height="40.05" fill="#3050a8" stroke="#000" stroke-width="1.3" />
<line x1="546.05" y1="1234.5" x2="546.05" y2="1231.5" stroke="#000" stroke-width="1.25" />
<line x1="540.05" y1="1231.5" x2="552.05" y2="1231.5" stroke="#000" stroke-width="1.3" />
<rect x="535.45" y="1235.15" width="21.2" height="56.55" fill="#6cc200" stroke="#000" stroke-width="1.3" />
<text x="220.2" y="1317" font-size="22" textLength="58.3" lengthAdjust="spacingAndGlyphs">4OHT</text>
<text x="313.2" y="1317" font-size="22" textLength="123.5" lengthAdjust="spacingAndGlyphs">4OHT+NAC</text>
<text x="454" y="1317" font-size="22" textLength="108.2" lengthAdjust="spacingAndGlyphs">4OHT+MT</text>
<text x="244.15" y="1097.12" font-size="24.5" text-anchor="middle" stroke="#000" stroke-width="0.45" letter-spacing="1.3">***</text>
<text x="245.5" y="1106.45" font-size="17.5" text-anchor="middle" fill="#2848a8" font-weight="bold" font-style="italic" textLength="30.6" lengthAdjust="spacingAndGlyphs" stroke="#2848a8" stroke-width="0.5">###</text>
<text x="301.85" y="1074.32" font-size="24.5" text-anchor="middle" stroke="#000" stroke-width="0.45" letter-spacing="1.3">***</text>
<text x="302" y="1083.45" font-size="17.5" text-anchor="middle" fill="#2848a8" font-weight="bold" font-style="italic" textLength="30.6" lengthAdjust="spacingAndGlyphs" stroke="#2848a8" stroke-width="0.5">###</text>
<text x="368.65" y="1128.82" font-size="24.5" text-anchor="middle" stroke="#000" stroke-width="0.45" letter-spacing="1.3">***</text>
<text x="368.7" y="1137.95" font-size="17.5" text-anchor="middle" fill="#2848a8" font-weight="bold" font-style="italic" textLength="30.6" lengthAdjust="spacingAndGlyphs" stroke="#2848a8" stroke-width="0.5">###</text>
<text x="424.85" y="1128.82" font-size="24.5" text-anchor="middle" stroke="#000" stroke-width="0.45" letter-spacing="1.3">***</text>
<text x="425" y="1137.95" font-size="17.5" text-anchor="middle" fill="#2848a8" font-weight="bold" font-style="italic" textLength="30.6" lengthAdjust="spacingAndGlyphs" stroke="#2848a8" stroke-width="0.5">###</text>
<text x="108.6" y="1158" font-size="28.5" text-anchor="middle" transform="rotate(-90 108.6 1158)">H<tspan font-size="17" dy="7">2</tspan><tspan dy="-7">DCFDA</tspan></text>
<text x="142.4" y="1158.7" font-size="28" text-anchor="middle" textLength="233.5" lengthAdjust="spacingAndGlyphs" transform="rotate(-90 142.4 1158.7)">Fold Change (a.u.)</text>
<line x1="195.8" y1="1360.6" x2="195.8" y2="1612.6" stroke="#1c1c1c" stroke-width="1.4" />
<line x1="191.3" y1="1361.2" x2="195.8" y2="1361.2" stroke="#1c1c1c" stroke-width="1.4" />
<text x="192.2" y="1364.34" font-size="26" text-anchor="end">12</text>
<line x1="191.3" y1="1403.2" x2="195.8" y2="1403.2" stroke="#1c1c1c" stroke-width="1.4" />
<text x="192.2" y="1406.34" font-size="26" text-anchor="end">10</text>
<line x1="191.3" y1="1445" x2="195.8" y2="1445" stroke="#1c1c1c" stroke-width="1.4" />
<text x="192.2" y="1448.14" font-size="26" text-anchor="end">8</text>
<line x1="191.3" y1="1487" x2="195.8" y2="1487" stroke="#1c1c1c" stroke-width="1.4" />
<text x="192.2" y="1490.14" font-size="26" text-anchor="end">6</text>
<line x1="191.3" y1="1528.7" x2="195.8" y2="1528.7" stroke="#1c1c1c" stroke-width="1.4" />
<text x="192.2" y="1531.84" font-size="26" text-anchor="end">4</text>
<line x1="191.3" y1="1570.5" x2="195.8" y2="1570.5" stroke="#1c1c1c" stroke-width="1.4" />
<text x="192.2" y="1573.64" font-size="26" text-anchor="end">2</text>
<line x1="191.3" y1="1612" x2="195.8" y2="1612" stroke="#1c1c1c" stroke-width="1.4" />
<text x="192.2" y="1615.14" font-size="26" text-anchor="end">0</text>
<line x1="191.3" y1="1612" x2="566.2" y2="1612" stroke="#1c1c1c" stroke-width="1.4" />
<line x1="258.2" y1="1612" x2="258.2" y2="1616.5" stroke="#1c1c1c" stroke-width="1.4" />
<line x1="380.5" y1="1612" x2="380.5" y2="1616.5" stroke="#1c1c1c" stroke-width="1.4" />
<line x1="503.7" y1="1612" x2="503.7" y2="1616.5" stroke="#1c1c1c" stroke-width="1.4" />
<line x1="216.25" y1="1565.5" x2="216.25" y2="1557.5" stroke="#000" stroke-width="1.25" />
<line x1="210.25" y1="1557.5" x2="222.25" y2="1557.5" stroke="#000" stroke-width="1.3" />
<rect x="205" y="1565.5" width="22.5" height="46.5" fill="#000" />
<line x1="244.35" y1="1496.5" x2="244.35" y2="1469.2" stroke="#000" stroke-width="1.25" />
<line x1="238.35" y1="1469.2" x2="250.35" y2="1469.2" stroke="#000" stroke-width="1.3" />
<rect x="233.85" y="1497.15" width="21" height="114.85" fill="#e23424" stroke="#000" stroke-width="1.3" />
<line x1="272.1" y1="1556.7" x2="272.1" y2="1548" stroke="#000" stroke-width="1.25" />
<line x1="266.1" y1="1548" x2="278.1" y2="1548" stroke="#000" stroke-width="1.3" />
<rect x="261.85" y="1557.35" width="20.5" height="54.65" fill="#3050a8" stroke="#000" stroke-width="1.3" />
<line x1="300.2" y1="1427.5" x2="300.2" y2="1406.2" stroke="#000" stroke-width="1.25" />
<line x1="294.2" y1="1406.2" x2="306.2" y2="1406.2" stroke="#000" stroke-width="1.3" />
<rect x="289.85" y="1428.15" width="20.7" height="183.85" fill="#6cc200" stroke="#000" stroke-width="1.3" />
<line x1="339.35" y1="1579.2" x2="339.35" y2="1567.5" stroke="#000" stroke-width="1.25" />
<line x1="333.35" y1="1567.5" x2="345.35" y2="1567.5" stroke="#000" stroke-width="1.3" />
<rect x="328" y="1579.2" width="22.7" height="32.8" fill="#000" />
<line x1="367.1" y1="1528.7" x2="367.1" y2="1506.2" stroke="#000" stroke-width="1.25" />
<line x1="361.1" y1="1506.2" x2="373.1" y2="1506.2" stroke="#000" stroke-width="1.3" />
<rect x="356.65" y="1529.35" width="20.9" height="82.65" fill="#e23424" stroke="#000" stroke-width="1.3" />
<line x1="395.35" y1="1581.2" x2="395.35" y2="1577" stroke="#000" stroke-width="1.25" />
<line x1="389.35" y1="1577" x2="401.35" y2="1577" stroke="#000" stroke-width="1.3" />
<rect x="384.85" y="1581.85" width="21" height="30.15" fill="#3050a8" stroke="#000" stroke-width="1.3" />
<line x1="423.1" y1="1473.2" x2="423.1" y2="1451.7" stroke="#000" stroke-width="1.25" />
<line x1="417.1" y1="1451.7" x2="429.1" y2="1451.7" stroke="#000" stroke-width="1.3" />
<rect x="412.35" y="1473.85" width="21.5" height="138.15" fill="#6cc200" stroke="#000" stroke-width="1.3" />
<line x1="461.85" y1="1585" x2="461.85" y2="1582" stroke="#000" stroke-width="1.25" />
<line x1="455.85" y1="1582" x2="467.85" y2="1582" stroke="#000" stroke-width="1.3" />
<rect x="450.5" y="1585" width="22.7" height="27" fill="#000" />
<line x1="490.25" y1="1577.5" x2="490.25" y2="1573.2" stroke="#000" stroke-width="1.25" />
<line x1="484.25" y1="1573.2" x2="496.25" y2="1573.2" stroke="#000" stroke-width="1.3" />
<rect x="479.65" y="1578.15" width="21.2" height="33.85" fill="#e23424" stroke="#000" stroke-width="1.3" />
<line x1="518.05" y1="1583.2" x2="518.05" y2="1576.2" stroke="#000" stroke-width="1.25" />
<line x1="512.05" y1="1576.2" x2="524.05" y2="1576.2" stroke="#000" stroke-width="1.3" />
<rect x="507.45" y="1583.85" width="21.2" height="28.15" fill="#3050a8" stroke="#000" stroke-width="1.3" />
<line x1="546.05" y1="1576.5" x2="546.05" y2="1567.5" stroke="#000" stroke-width="1.25" />
<line x1="540.05" y1="1567.5" x2="552.05" y2="1567.5" stroke="#000" stroke-width="1.3" />
<rect x="535.45" y="1577.15" width="21.2" height="34.85" fill="#6cc200" stroke="#000" stroke-width="1.3" />
<text x="221.5" y="1637.5" font-size="22.5" textLength="61.5" lengthAdjust="spacingAndGlyphs">4OHT</text>
<text x="315.2" y="1637.5" font-size="22.5" textLength="123.3" lengthAdjust="spacingAndGlyphs">4OHT+NAC</text>
<text x="455.7" y="1637.5" font-size="22.5" textLength="108.3" lengthAdjust="spacingAndGlyphs">4OHT+MT</text>
<text x="245.65" y="1450.62" font-size="24.5" text-anchor="middle" stroke="#000" stroke-width="0.45" letter-spacing="1.3">***</text>
<text x="242.5" y="1462.15" font-size="17.5" text-anchor="middle" fill="#2848a8" font-weight="bold" font-style="italic" textLength="30.6" lengthAdjust="spacingAndGlyphs" stroke="#2848a8" stroke-width="0.5">###</text>
<text x="301.85" y="1390.12" font-size="24.5" text-anchor="middle" stroke="#000" stroke-width="0.45" letter-spacing="1.3">***</text>
<text x="298.7" y="1400.45" font-size="17.5" text-anchor="middle" fill="#2848a8" font-weight="bold" font-style="italic" textLength="30.6" lengthAdjust="spacingAndGlyphs" stroke="#2848a8" stroke-width="0.5">###</text>
<text x="368.15" y="1491.82" font-size="24.5" text-anchor="middle" stroke="#000" stroke-width="0.45" letter-spacing="1.3">***</text>
<text x="365.7" y="1501.45" font-size="17.5" text-anchor="middle" fill="#2848a8" font-weight="bold" font-style="italic" textLength="30.6" lengthAdjust="spacingAndGlyphs" stroke="#2848a8" stroke-width="0.5">###</text>
<text x="424.85" y="1436.32" font-size="24.5" text-anchor="middle" stroke="#000" stroke-width="0.45" letter-spacing="1.3">***</text>
<text x="422.5" y="1445.95" font-size="17.5" text-anchor="middle" fill="#2848a8" font-weight="bold" font-style="italic" textLength="30.6" lengthAdjust="spacingAndGlyphs" stroke="#2848a8" stroke-width="0.5">###</text>
<text x="111.2" y="1478.7" font-size="28.5" text-anchor="middle" transform="rotate(-90 111.2 1478.7)">MitoSOX (mO<tspan font-size="17" dy="6">2</tspan><tspan font-size="17" dy="-16">·-</tspan><tspan dy="10">)</tspan></text>
<text x="145" y="1478.7" font-size="28" text-anchor="middle" textLength="232.5" lengthAdjust="spacingAndGlyphs" transform="rotate(-90 145 1478.7)">Fold Change (a.u.)</text>
<line x1="195.2" y1="1681.4" x2="195.2" y2="1933.1" stroke="#1c1c1c" stroke-width="1.4" />
<line x1="190.7" y1="1682" x2="195.2" y2="1682" stroke="#1c1c1c" stroke-width="1.4" />
<text x="188.2" y="1684.94" font-size="26" text-anchor="end">6</text>
<line x1="190.7" y1="1723.7" x2="195.2" y2="1723.7" stroke="#1c1c1c" stroke-width="1.4" />
<text x="188.2" y="1726.64" font-size="26" text-anchor="end">5</text>
<line x1="190.7" y1="1765.5" x2="195.2" y2="1765.5" stroke="#1c1c1c" stroke-width="1.4" />
<text x="188.2" y="1768.44" font-size="26" text-anchor="end">4</text>
<line x1="190.7" y1="1807.5" x2="195.2" y2="1807.5" stroke="#1c1c1c" stroke-width="1.4" />
<text x="188.2" y="1810.44" font-size="26" text-anchor="end">3</text>
<line x1="190.7" y1="1849.2" x2="195.2" y2="1849.2" stroke="#1c1c1c" stroke-width="1.4" />
<text x="188.2" y="1852.14" font-size="26" text-anchor="end">2</text>
<line x1="190.7" y1="1891" x2="195.2" y2="1891" stroke="#1c1c1c" stroke-width="1.4" />
<text x="188.2" y="1893.94" font-size="26" text-anchor="end">1</text>
<line x1="190.7" y1="1932.5" x2="195.2" y2="1932.5" stroke="#1c1c1c" stroke-width="1.4" />
<text x="188.2" y="1935.44" font-size="26" text-anchor="end">0</text>
<line x1="190.7" y1="1932.5" x2="566.2" y2="1932.5" stroke="#1c1c1c" stroke-width="1.4" />
<line x1="257.7" y1="1932.5" x2="257.7" y2="1937" stroke="#1c1c1c" stroke-width="1.4" />
<line x1="380.5" y1="1932.5" x2="380.5" y2="1937" stroke="#1c1c1c" stroke-width="1.4" />
<line x1="503" y1="1932.5" x2="503" y2="1937" stroke="#1c1c1c" stroke-width="1.4" />
<line x1="215.45" y1="1753.7" x2="215.45" y2="1744.5" stroke="#000" stroke-width="1.25" />
<line x1="209.45" y1="1744.5" x2="221.45" y2="1744.5" stroke="#000" stroke-width="1.3" />
<rect x="204.2" y="1753.7" width="22.5" height="178.8" fill="#000" />
<line x1="243.5" y1="1883.2" x2="243.5" y2="1873.2" stroke="#000" stroke-width="1.25" />
<line x1="237.5" y1="1873.2" x2="249.5" y2="1873.2" stroke="#000" stroke-width="1.3" />
<rect x="233.15" y="1883.85" width="20.7" height="48.65" fill="#e23424" stroke="#000" stroke-width="1.3" />
<line x1="271.5" y1="1775.5" x2="271.5" y2="1760.5" stroke="#000" stroke-width="1.25" />
<line x1="265.5" y1="1760.5" x2="277.5" y2="1760.5" stroke="#000" stroke-width="1.3" />
<rect x="261.15" y="1776.15" width="20.7" height="156.35" fill="#3050a8" stroke="#000" stroke-width="1.3" />
<line x1="299.35" y1="1893.7" x2="299.35" y2="1883.2" stroke="#000" stroke-width="1.25" />
<line x1="293.35" y1="1883.2" x2="305.35" y2="1883.2" stroke="#000" stroke-width="1.3" />
<rect x="288.85" y="1894.35" width="21" height="38.15" fill="#6cc200" stroke="#000" stroke-width="1.3" />
<line x1="338.5" y1="1744.2" x2="338.5" y2="1732.5" stroke="#000" stroke-width="1.25" />
<line x1="332.5" y1="1732.5" x2="344.5" y2="1732.5" stroke="#000" stroke-width="1.3" />
<rect x="327" y="1744.2" width="23" height="188.3" fill="#000" />
<line x1="366.35" y1="1872.5" x2="366.35" y2="1863.7" stroke="#000" stroke-width="1.25" />
<line x1="360.35" y1="1863.7" x2="372.35" y2="1863.7" stroke="#000" stroke-width="1.3" />
<rect x="356.15" y="1873.15" width="20.4" height="59.35" fill="#e23424" stroke="#000" stroke-width="1.3" />
<line x1="394.2" y1="1774.2" x2="394.2" y2="1759.5" stroke="#000" stroke-width="1.25" />
<line x1="388.2" y1="1759.5" x2="400.2" y2="1759.5" stroke="#000" stroke-width="1.3" />
<rect x="383.85" y="1774.85" width="20.7" height="157.65" fill="#3050a8" stroke="#000" stroke-width="1.3" />
<line x1="421.85" y1="1900.5" x2="421.85" y2="1893.7" stroke="#000" stroke-width="1.25" />
<line x1="415.85" y1="1893.7" x2="427.85" y2="1893.7" stroke="#000" stroke-width="1.3" />
<rect x="411.35" y="1901.15" width="21" height="31.35" fill="#6cc200" stroke="#000" stroke-width="1.3" />
<line x1="461.5" y1="1740.2" x2="461.5" y2="1708.2" stroke="#000" stroke-width="1.25" />
<line x1="455.5" y1="1708.2" x2="467.5" y2="1708.2" stroke="#000" stroke-width="1.3" />
<rect x="450" y="1740.2" width="23" height="192.3" fill="#000" />
<line x1="489.35" y1="1797.7" x2="489.35" y2="1775.2" stroke="#000" stroke-width="1.25" />
<line x1="483.35" y1="1775.2" x2="495.35" y2="1775.2" stroke="#000" stroke-width="1.3" />
<rect x="478.85" y="1798.35" width="21" height="134.15" fill="#e23424" stroke="#000" stroke-width="1.3" />
<line x1="517.2" y1="1756" x2="517.2" y2="1740.2" stroke="#000" stroke-width="1.25" />
<line x1="511.2" y1="1740.2" x2="523.2" y2="1740.2" stroke="#000" stroke-width="1.3" />
<rect x="506.85" y="1756.65" width="20.7" height="175.85" fill="#3050a8" stroke="#000" stroke-width="1.3" />
<line x1="545.2" y1="1816.2" x2="545.2" y2="1809.2" stroke="#000" stroke-width="1.25" />
<line x1="539.2" y1="1809.2" x2="551.2" y2="1809.2" stroke="#000" stroke-width="1.3" />
<rect x="534.85" y="1816.85" width="20.7" height="115.65" fill="#6cc200" stroke="#000" stroke-width="1.3" />
<text x="225.2" y="1958" font-size="22.5" textLength="60.8" lengthAdjust="spacingAndGlyphs">4OHT</text>
<text x="316" y="1958" font-size="22.5" textLength="123.7" lengthAdjust="spacingAndGlyphs">4OHT+NAC</text>
<text x="454" y="1958" font-size="22.5" textLength="108.2" lengthAdjust="spacingAndGlyphs">4OHT+MT</text>
<text x="245.15" y="1856.32" font-size="24.5" text-anchor="middle" stroke="#000" stroke-width="0.45" letter-spacing="1.3">***</text>
<text x="245" y="1865.45" font-size="17.5" text-anchor="middle" fill="#2848a8" font-weight="bold" font-style="italic" textLength="30.6" lengthAdjust="spacingAndGlyphs" stroke="#2848a8" stroke-width="0.5">###</text>
<text x="303.15" y="1864.62" font-size="24.5" text-anchor="middle" stroke="#000" stroke-width="0.45" letter-spacing="1.3">***</text>
<text x="301.2" y="1874.15" font-size="17.5" text-anchor="middle" fill="#2848a8" font-weight="bold" font-style="italic" textLength="30.6" lengthAdjust="spacingAndGlyphs" stroke="#2848a8" stroke-width="0.5">###</text>
<text x="367.65" y="1848.82" font-size="24.5" text-anchor="middle" stroke="#000" stroke-width="0.45" letter-spacing="1.3">***</text>
<text x="365.5" y="1857.95" font-size="17.5" text-anchor="middle" fill="#2848a8" font-weight="bold" font-style="italic" textLength="30.6" lengthAdjust="spacingAndGlyphs" stroke="#2848a8" stroke-width="0.5">###</text>
<text x="426.35" y="1877.62" font-size="24.5" text-anchor="middle" stroke="#000" stroke-width="0.45" letter-spacing="1.3">***</text>
<text x="423.7" y="1886.45" font-size="17.5" text-anchor="middle" fill="#2848a8" font-weight="bold" font-style="italic" textLength="30.6" lengthAdjust="spacingAndGlyphs" stroke="#2848a8" stroke-width="0.5">###</text>
<text x="102.5" y="1795.6" font-size="28.5" text-anchor="middle" textLength="46.2" lengthAdjust="spacingAndGlyphs" transform="rotate(-90 102.5 1795.6)">JC1</text>
<text x="147.5" y="1800.6" font-size="28.5" text-anchor="middle" textLength="273.8" lengthAdjust="spacingAndGlyphs" transform="rotate(-90 147.5 1800.6)"><tspan font-family="Liberation Serif, serif" font-size="30">ΔΨ</tspan>m (Ratio FL2/FL1)</text>
<line x1="195.8" y1="2019.9" x2="195.8" y2="2269.8" stroke="#1c1c1c" stroke-width="1.4" />
<line x1="191.3" y1="2020.5" x2="195.8" y2="2020.5" stroke="#1c1c1c" stroke-width="1.4" />
<text x="189.6" y="2024.24" font-size="26" text-anchor="end">1000</text>
<line x1="191.3" y1="2070.5" x2="195.8" y2="2070.5" stroke="#1c1c1c" stroke-width="1.4" />
<text x="189.6" y="2074.24" font-size="26" text-anchor="end">800</text>
<line x1="191.3" y1="2120.2" x2="195.8" y2="2120.2" stroke="#1c1c1c" stroke-width="1.4" />
<text x="189.6" y="2123.94" font-size="26" text-anchor="end">600</text>
<line x1="191.3" y1="2169.7" x2="195.8" y2="2169.7" stroke="#1c1c1c" stroke-width="1.4" />
<text x="189.6" y="2173.44" font-size="26" text-anchor="end">400</text>
<line x1="191.3" y1="2219.7" x2="195.8" y2="2219.7" stroke="#1c1c1c" stroke-width="1.4" />
<text x="189.6" y="2223.44" font-size="26" text-anchor="end">200</text>
<line x1="191.3" y1="2269.2" x2="195.8" y2="2269.2" stroke="#1c1c1c" stroke-width="1.4" />
<text x="189.6" y="2272.94" font-size="26" text-anchor="end">0</text>
<line x1="191.3" y1="2269.2" x2="565.5" y2="2269.2" stroke="#1c1c1c" stroke-width="1.4" />
<line x1="257.7" y1="2269.2" x2="257.7" y2="2273.7" stroke="#1c1c1c" stroke-width="1.4" />
<line x1="380.5" y1="2269.2" x2="380.5" y2="2273.7" stroke="#1c1c1c" stroke-width="1.4" />
<line x1="502.5" y1="2269.2" x2="502.5" y2="2273.7" stroke="#1c1c1c" stroke-width="1.4" />
<line x1="215.45" y1="2184" x2="215.45" y2="2166.7" stroke="#000" stroke-width="1.25" />
<line x1="209.45" y1="2166.7" x2="221.45" y2="2166.7" stroke="#000" stroke-width="1.3" />
<rect x="204.2" y="2184" width="22.5" height="85.2" fill="#000" />
<line x1="243.5" y1="2111.5" x2="243.5" y2="2087.2" stroke="#000" stroke-width="1.25" />
<line x1="237.5" y1="2087.2" x2="249.5" y2="2087.2" stroke="#000" stroke-width="1.3" />
<rect x="233.15" y="2112.15" width="20.7" height="157.05" fill="#e23424" stroke="#000" stroke-width="1.3" />
<line x1="271.5" y1="2169.7" x2="271.5" y2="2155" stroke="#000" stroke-width="1.25" />
<line x1="265.5" y1="2155" x2="277.5" y2="2155" stroke="#000" stroke-width="1.3" />
<rect x="261.15" y="2170.35" width="20.7" height="98.85" fill="#3050a8" stroke="#000" stroke-width="1.3" />
<line x1="299.35" y1="2087.5" x2="299.35" y2="2063.5" stroke="#000" stroke-width="1.25" />
<line x1="293.35" y1="2063.5" x2="305.35" y2="2063.5" stroke="#000" stroke-width="1.3" />
<rect x="288.85" y="2088.15" width="21" height="181.05" fill="#6cc200" stroke="#000" stroke-width="1.3" />
<line x1="338.5" y1="2207.5" x2="338.5" y2="2196" stroke="#000" stroke-width="1.25" />
<line x1="332.5" y1="2196" x2="344.5" y2="2196" stroke="#000" stroke-width="1.3" />
<rect x="327" y="2207.5" width="23" height="61.7" fill="#000" />
<line x1="366.35" y1="2225.2" x2="366.35" y2="2214.2" stroke="#000" stroke-width="1.25" />
<line x1="360.35" y1="2214.2" x2="372.35" y2="2214.2" stroke="#000" stroke-width="1.3" />
<rect x="356.15" y="2225.85" width="20.4" height="43.35" fill="#e23424" stroke="#000" stroke-width="1.3" />
<line x1="394.2" y1="2201" x2="394.2" y2="2182.5" stroke="#000" stroke-width="1.25" />
<line x1="388.2" y1="2182.5" x2="400.2" y2="2182.5" stroke="#000" stroke-width="1.3" />
<rect x="383.85" y="2201.65" width="20.7" height="67.55" fill="#3050a8" stroke="#000" stroke-width="1.3" />
<line x1="421.85" y1="2206.7" x2="421.85" y2="2192" stroke="#000" stroke-width="1.25" />
<line x1="415.85" y1="2192" x2="427.85" y2="2192" stroke="#000" stroke-width="1.3" />
<rect x="411.35" y="2207.35" width="21" height="61.85" fill="#6cc200" stroke="#000" stroke-width="1.3" />
<line x1="461.5" y1="2167.7" x2="461.5" y2="2152.5" stroke="#000" stroke-width="1.25" />
<line x1="455.5" y1="2152.5" x2="467.5" y2="2152.5" stroke="#000" stroke-width="1.3" />
<rect x="450" y="2167.7" width="23" height="101.5" fill="#000" />
<line x1="489.35" y1="2104" x2="489.35" y2="2089.2" stroke="#000" stroke-width="1.25" />
<line x1="483.35" y1="2089.2" x2="495.35" y2="2089.2" stroke="#000" stroke-width="1.3" />
<rect x="478.85" y="2104.65" width="21" height="164.55" fill="#e23424" stroke="#000" stroke-width="1.3" />
<line x1="517.2" y1="2178.5" x2="517.2" y2="2170.5" stroke="#000" stroke-width="1.25" />
<line x1="511.2" y1="2170.5" x2="523.2" y2="2170.5" stroke="#000" stroke-width="1.3" />
<rect x="506.85" y="2179.15" width="20.7" height="90.05" fill="#3050a8" stroke="#000" stroke-width="1.3" />
<line x1="545.2" y1="2090.2" x2="545.2" y2="2079.5" stroke="#000" stroke-width="1.25" />
<line x1="539.2" y1="2079.5" x2="551.2" y2="2079.5" stroke="#000" stroke-width="1.3" />
<rect x="534.85" y="2090.85" width="20.7" height="178.35" fill="#6cc200" stroke="#000" stroke-width="1.3" />
<text x="228.5" y="2295.6" font-size="23" textLength="62.5" lengthAdjust="spacingAndGlyphs">4OHT</text>
<text x="316" y="2295.6" font-size="23" textLength="123.7" lengthAdjust="spacingAndGlyphs">4OHT+NAC</text>
<text x="451" y="2295.6" font-size="23" textLength="107.5" lengthAdjust="spacingAndGlyphs">4OHT+MT</text>
<text x="245.65" y="2069.82" font-size="24.5" text-anchor="middle" stroke="#000" stroke-width="0.45" letter-spacing="1.3">***</text>
<text x="242.5" y="2078.95" font-size="17.5" text-anchor="middle" fill="#2848a8" font-weight="bold" font-style="italic" textLength="30.6" lengthAdjust="spacingAndGlyphs" stroke="#2848a8" stroke-width="0.5">###</text>
<text x="301.35" y="2049.32" font-size="24.5" text-anchor="middle" stroke="#000" stroke-width="0.45" letter-spacing="1.3">***</text>
<text x="298.7" y="2058.65" font-size="17.5" text-anchor="middle" fill="#2848a8" font-weight="bold" font-style="italic" textLength="30.6" lengthAdjust="spacingAndGlyphs" stroke="#2848a8" stroke-width="0.5">###</text>
<text x="491.15" y="2074.32" font-size="24.5" text-anchor="middle" stroke="#000" stroke-width="0.45" letter-spacing="1.3">***</text>
<text x="488.7" y="2083.95" font-size="17.5" text-anchor="middle" fill="#2848a8" font-weight="bold" font-style="italic" textLength="30.6" lengthAdjust="spacingAndGlyphs" stroke="#2848a8" stroke-width="0.5">###</text>
<text x="546.35" y="2063.62" font-size="24.5" text-anchor="middle" stroke="#000" stroke-width="0.45" letter-spacing="1.3">***</text>
<text x="543.7" y="2073.15" font-size="17.5" text-anchor="middle" fill="#2848a8" font-weight="bold" font-style="italic" textLength="30.6" lengthAdjust="spacingAndGlyphs" stroke="#2848a8" stroke-width="0.5">###</text>
<text x="115" y="2141" font-size="28.5" text-anchor="middle" textLength="245" lengthAdjust="spacingAndGlyphs" transform="rotate(-90 115 2141)">Cell Perimeter (μm)</text>
<rect x="896.9" y="590.7" width="172" height="149.3" rx="23" ry="23" fill="#c4dbee" stroke="#2f4fa6" stroke-width="1.9"/>
<rect x="1078.4" y="590.7" width="156.8" height="131.6" rx="21" ry="21" fill="#ffa56e" stroke="#bf4f1c" stroke-width="1.9"/>
<rect x="1242.4" y="590.7" width="170.6" height="207.8" rx="25" ry="25" fill="#ffb4b4" stroke="#a01ca0" stroke-width="2"/>
<polygon points="1216.97,384.39 1252.43,387.7 1230.85,365.67 1266.08,372.94 1263.22,352.02 1291.41,372.5 1305.06,353.78 1316.07,368.54 1346.9,355.32 1336.55,381.75 1370.68,374.7 1350.43,387.7 1396.45,397.61 1351.31,401.57 1361.88,411.48 1345.36,412.58 1364.08,434.6 1329.94,418.75 1329.94,433.5 1307.92,420.95 1300.88,434.16 1288.54,422.93 1279.3,432.4 1270.93,422.05 1247.8,434.6 1251.33,418.09 1222.04,409.72 1242.52,401.57" fill="#fff" stroke="#e03020" stroke-width="2.8" stroke-linejoin="miter"/>
<text x="1275.2" y="406.8" font-size="24.8" textLength="46.5" lengthAdjust="spacingAndGlyphs">ROS</text>
<text x="1093.6" y="405.6" font-size="24.8" textLength="46.8" lengthAdjust="spacingAndGlyphs">SOS</text>
<text x="1117.7" y="408" font-size="33.5" text-anchor="middle" fill="#e03020" font-weight="bold" font-style="italic" textLength="18.5" lengthAdjust="spacingAndGlyphs" stroke="#e03020" stroke-width="0.9">X</text>
<line x1="1157" y1="396.1" x2="1201.88" y2="396.1" stroke="#e03020" stroke-width="3" />
<polygon points="1215.2,396.1 1197.2,403.35 1201.88,396.1 1197.2,388.85" fill="#e03020"/>
<line x1="1243" y1="443" x2="1173.64" y2="498.02" stroke="#e03020" stroke-width="3" />
<polygon points="1163.2,506.3 1172.8,489.43 1173.64,498.02 1181.81,500.79" fill="#e03020"/>
<line x1="1371.6" y1="443" x2="1435.48" y2="497.64" stroke="#e03020" stroke-width="3" />
<polygon points="1445.6,506.3 1427.21,500.11 1435.48,497.64 1436.63,489.09" fill="#e03020"/>
<line x1="1451" y1="553.7" x2="1479.88" y2="582.58" stroke="#e03020" stroke-width="3" />
<polygon points="1489.3,592 1471.45,584.4 1479.88,582.58 1481.7,574.15" fill="#e03020"/>
<text x="1127.4" y="541.3" font-size="25" textLength="61.7" lengthAdjust="spacingAndGlyphs">NRF2</text>
<text x="1412.8" y="541.2" font-size="25" textLength="77.8" lengthAdjust="spacingAndGlyphs">PGC1α</text>
<text x="1466.1" y="627.5" font-size="25" textLength="60.8" lengthAdjust="spacingAndGlyphs">NRF1</text>
<line x1="1196.3" y1="548.8" x2="1196.3" y2="533.52" stroke="#e03020" stroke-width="3" />
<polygon points="1196.3,518.7 1203.3,537.7 1196.3,533.52 1189.3,537.7" fill="#e03020"/>
<line x1="1499.8" y1="548.8" x2="1499.8" y2="533.52" stroke="#e03020" stroke-width="3" />
<polygon points="1499.8,518.7 1506.8,537.7 1499.8,533.52 1492.8,537.7" fill="#e03020"/>
<line x1="1534.3" y1="637.5" x2="1534.3" y2="619.82" stroke="#e03020" stroke-width="3" />
<polygon points="1534.3,605 1541.3,624 1534.3,619.82 1527.3,624" fill="#e03020"/>
<line x1="1033" y1="698.7" x2="1033" y2="683.52" stroke="#e03020" stroke-width="3" />
<polygon points="1033,668.7 1040,687.7 1033,683.52 1026,687.7" fill="#e03020"/>
<line x1="1201.3" y1="673" x2="1201.3" y2="687.78" stroke="#2c4cb0" stroke-width="3" />
<polygon points="1201.3,702.6 1194.3,683.6 1201.3,687.78 1208.3,683.6" fill="#2c4cb0"/>
<line x1="1378" y1="703" x2="1378" y2="717.78" stroke="#2c4cb0" stroke-width="3" />
<polygon points="1378,732.6 1371,713.6 1378,717.78 1385,713.6" fill="#2c4cb0"/>
<line x1="1156.3" y1="553.6" x2="1003" y2="587.71" stroke="#e03020" stroke-width="2.6" />
<polygon points="990,590.6 1006.21,580.59 1003,587.71 1008.93,592.79" fill="#e03020"/>
<line x1="1156.3" y1="553.6" x2="1307.61" y2="587.67" stroke="#2c4cb0" stroke-width="2.6" />
<polygon points="1320.6,590.6 1301.67,592.74 1307.61,587.67 1304.41,580.55" fill="#2c4cb0"/>
<line x1="1156.3" y1="553.6" x2="1156.3" y2="569.98" stroke="#2c4cb0" stroke-width="3" />
<polygon points="1156.3,583.3 1149.3,565.3 1156.3,569.98 1163.3,565.3" fill="#2c4cb0"/>
<text x="902.8" y="621.2" font-size="24.3" textLength="159.2" lengthAdjust="spacingAndGlyphs">Detoxification</text>
<text x="954.1" y="660.5" font-size="24.3" textLength="44.3" lengthAdjust="spacingAndGlyphs">CAT</text>
<text x="954.1" y="688.2" font-size="24.3" textLength="64.3" lengthAdjust="spacingAndGlyphs">SOD2</text>
<text x="954.1" y="713" font-size="24.3" textLength="64.3" lengthAdjust="spacingAndGlyphs">SOD3</text>
<text x="1089.8" y="621.2" font-size="24.3" textLength="136.6" lengthAdjust="spacingAndGlyphs">Thioredoxin</text>
<text x="1088.6" y="652.5" font-size="24.3" textLength="136.5" lengthAdjust="spacingAndGlyphs">metabolism</text>
<text x="1123.6" y="685.5" font-size="24.3" textLength="64.8" lengthAdjust="spacingAndGlyphs">TRX-1</text>
<text x="1123.6" y="710" font-size="24.3" textLength="65.3" lengthAdjust="spacingAndGlyphs">PRX-1</text>
<text x="1257.8" y="621.7" font-size="24.3" textLength="137.8" lengthAdjust="spacingAndGlyphs">Glutathione</text>
<text x="1258.6" y="653.2" font-size="24.3" textLength="136.5" lengthAdjust="spacingAndGlyphs">metabolism</text>
<text x="1299.1" y="686.2" font-size="24.3" textLength="61.5" lengthAdjust="spacingAndGlyphs">GPX1</text>
<text x="1299.1" y="710.5" font-size="24.3" textLength="61.5" lengthAdjust="spacingAndGlyphs">GPX2</text>
<text x="1299.1" y="735.5" font-size="24.3" textLength="60.8" lengthAdjust="spacingAndGlyphs">GPX3</text>
<text x="1299.1" y="760" font-size="24.3" textLength="74" lengthAdjust="spacingAndGlyphs">GSTA2</text>
<text x="1299.1" y="784.5" font-size="24.3" textLength="83.5" lengthAdjust="spacingAndGlyphs">GSTM2</text>
<defs><filter id="b1" filterUnits="userSpaceOnUse" x="-10" y="-10" width="257" height="257"><feGaussianBlur in="SourceGraphic" stdDeviation="0.85" result="b"/><feTurbulence type="fractalNoise" baseFrequency="0.13" numOctaves="2" seed="7" result="n"/><feColorMatrix in="n" type="matrix" values="0 0 0 0 1 0 0 0 0 1 0 0 0 0 1 0 0 0 1.1 0.3" result="na"/><feComposite in="b" in2="na" operator="in"/></filter><filter id="b3" filterUnits="userSpaceOnUse" x="-10" y="-10" width="257" height="257"><feGaussianBlur in="SourceGraphic" stdDeviation="4.5" result="b"/><feTurbulence type="fractalNoise" baseFrequency="0.08" numOctaves="2" seed="11" result="n"/><feColorMatrix in="n" type="matrix" values="0 0 0 0 1 0 0 0 0 1 0 0 0 0 1 0 0 0 1.4 0.15" result="na"/><feComposite in="b" in2="na" operator="in"/></filter><clipPath id="cc"><rect x="0" y="0" width="237" height="237"/></clipPath></defs>
<text x="1072.5" y="1193.1" font-size="28" fill="#62b800" textLength="196.5" lengthAdjust="spacingAndGlyphs">Phalloidin<tspan fill="#000">/</tspan><tspan fill="#2a4ab0">DAPI</tspan></text>
<rect x="820.6" y="1213.8" width="721.4" height="960.8" fill="#f8f8f8" />
<text x="797.7" y="1338.2" font-size="28" text-anchor="middle" textLength="48.5" lengthAdjust="spacingAndGlyphs" transform="rotate(-90 797.7 1338.2)">WT</text>
<text x="797.7" y="1575" font-size="28" text-anchor="middle" textLength="124" lengthAdjust="spacingAndGlyphs" transform="rotate(-90 797.7 1575)">SOS1 KO</text>
<text x="797.7" y="1813" font-size="28" text-anchor="middle" textLength="124" lengthAdjust="spacingAndGlyphs" transform="rotate(-90 797.7 1813)">SOS2 KO</text>
<text x="797.7" y="2063.2" font-size="28" text-anchor="middle" textLength="169.5" lengthAdjust="spacingAndGlyphs" transform="rotate(-90 797.7 2063.2)">SOS1/2 DKO</text>
<text x="909.6" y="2219.7" font-size="27.6" textLength="76.1" lengthAdjust="spacingAndGlyphs">4OHT</text>
<text x="1103.1" y="2219.7" font-size="27.6" textLength="152.3" lengthAdjust="spacingAndGlyphs">4OHT+NAC</text>
<text x="1358.1" y="2219.7" font-size="27.6" textLength="134.4" lengthAdjust="spacingAndGlyphs">4OHT+MT</text>
<g transform="translate(821.2 1214.5) scale(0.9987 0.9958)" clip-path="url(#cc)">
<rect width="237" height="237" fill="#000"/>
<g filter="url(#b3)" fill="none" stroke-linecap="round" stroke-linejoin="round"><path d="M0 35.2L25.2 18.2L50.3 0.4L47.9 -3.5L20.8 11L-6.2 24.6Z" fill="#2fd22c" stroke="#2fd22c" stroke-width="2" opacity="0.3"/><path d="M78.3 53L86 24.6L92.1 38.4L99.8 44.5L116.7 56.8L133.5 60.6L129.7 79.8L128.2 110.5L107.4 110.5L92.1 79.8Z" fill="#2fd22c" stroke="none" opacity="0.5"/><path d="M86 26.1L93.6 50.7L98.2 69.1" stroke="#2fd22c" stroke-width="2.49" opacity="0.32"/><path d="M98.2 46L107.4 107.4L118.2 153.5L127.4 188.8" stroke="#2fd22c" stroke-width="2.76" opacity="0.27"/><path d="M126.6 173.5L129.7 190.3" stroke="#2fd22c" stroke-width="3.59" opacity="0.36"/><path d="M104.4 105.9L110.5 110.5" stroke="#2fd22c" stroke-width="3.59" opacity="0.41"/><path d="M177.7 42.4L200.2 53.9L219.7 61L237.1 66.4L241.8 53.4L225.4 46.5L208.1 38.2L187.6 25.1Z" fill="#2fd22c" stroke="#2fd22c" stroke-width="2" opacity="0.32"/><path d="M199.5 4.6L237 4.6L237 38.4L199.5 30.7Z" fill="#2fd22c" stroke="none" opacity="0.18"/><path d="M173.5 4.6L178.1 12.3" stroke="#2fd22c" stroke-width="4.14" opacity="0.11"/><path d="M165 140.5L199.5 147.4L237 144.3L214.9 165.8L194.9 191.9L168.8 191.9Z" fill="#2fd22c" stroke="none" opacity="0.13"/></g>
<g filter="url(#b1)" fill="none" stroke-linecap="round" stroke-linejoin="round"><path d="M0 35.2L25.2 18.2L50.3 0.4L47.9 -3.5L20.8 11L-6.2 24.6Z" fill="#2fd22c" stroke="none" opacity="0.75"/><path d="M3.1 36.8L18.4 33" stroke="#2fd22c" stroke-width="1.53" opacity="0.4"/><path d="M18.4 26.1L46 30.7L61.4 41.4L72.1 53.7" stroke="#2fd22c" stroke-width="0.77" opacity="0.25"/><path d="M89.2 81.3L114.1 181.5M91.6 73.4L117.5 188.5M95.6 74.4L120.8 191.7M105.3 90.5L125.1 198.5M109.5 75.7L129.1 201.1M112.3 70.3L130.6 206.6M119.5 96.2L132.5 185.1M122 92.9L134.4 185.7M125.1 75.8L134.1 180.3M132 70.4L142.6 201.4" stroke="#2fd22c" stroke-width="1.23" opacity="0.6"/><path d="M85.4 34.6L93.4 63.7M88.3 36.6L97.1 62.8M89 36.3L101.3 61.6M91.9 39.1L104.6 62.1M94.2 39.8L114.2 64.1" stroke="#2fd22c" stroke-width="1.38" opacity="0.7"/><path d="M86.3 26L89.4 34.4L91.9 43L94.5 51.6L96.6 60.3L98.5 69M85.9 26.1L88.6 34.6L91.4 43.1L93.9 51.7L96.1 60.4L98.2 69.1M85.7 26.2L87.9 34.9L90.5 43.4L93.2 51.9L95.6 60.5" stroke="#2fd22c" stroke-width="1.15" opacity="0.7"/><path d="M79.8 53.7L95.2 92.1L107.4 125.9L118.2 165.8L121.3 211.8" stroke="#2fd22c" stroke-width="1.84" opacity="0.75"/><path d="M127.4 61.4L127.7 107.4L135.1 153.5L142.8 199.5L145.8 239.5" stroke="#2fd22c" stroke-width="2.15" opacity="0.95"/><path d="M98.8 46L100.6 57L102.3 68.1L104 79.2L105.7 90.3L107.6 101.4L109.6 112.3L112 123.3L114.7 134.2L117 145.1L119.5 156.1L122.6 166.9M98.1 46.1L99.7 57.2L101.6 68.2L103.3 79.3L104.8 90.5L106.7 101.5L108.7 112.5L111.2 123.5L113.9 134.4L116.2 145.3L118.9 156.2L121.8 167.1L124.6 177.9L127.3 188.8M99.3 57.2L101 68.3L102.4 79.5L104.2 90.5L105.9 101.6L107.7 112.7L110.4 123.6L113 134.6L115.5 145.5L118.1 156.4L121 167.3L123.9 178.1L127.1 188.9" stroke="#2fd22c" stroke-width="1.28" opacity="0.6"/><path d="M112.1 56.8L122.8 92.1L128.9 138.1L138.9 184.2" stroke="#2fd22c" stroke-width="2.15" opacity="0.7"/><path d="M133.5 60.6L128.9 79.8" stroke="#2fd22c" stroke-width="1.84" opacity="0.8"/><path d="M127.3 173.3L128.5 177.5L129.4 181.7L130.3 185.9L130.4 190.2M126.7 173.4L127.7 177.6L128.6 181.8L129.4 186L130 190.3M126.5 173.5L127.2 177.7L127.8 182L128.4 186.2L129.4 190.4M126.5 177.8L126.8 182.1L127.9 186.3" stroke="#2fd22c" stroke-width="1.25" opacity="0.8"/><path d="M104.8 105.3L106.5 106.3L108.2 107.3L109.6 108.6L111 109.8M104.6 105.6L106.2 106.6L107.8 107.7L109.1 109.2L110.7 110.2M104.4 105.9L105.7 107.4L107.1 108.7L108.8 109.6L110.4 110.6M104.1 106.3L105.3 107.9L106.6 109.3L108.3 110.3L110 111.2" stroke="#2fd22c" stroke-width="1.25" opacity="0.9"/><ellipse cx="118.19" cy="121.26" rx="5.37" ry="12.28" fill="#3236b4" stroke="none" opacity="0.37" transform="rotate(-15 118.19 121.26)"/><ellipse cx="118.19" cy="122.8" rx="1.84" ry="2.15" fill="#30b0c0" stroke="none" opacity="0.6"/><path d="M177.7 42.4L200.2 53.9L219.7 61L237.1 66.4L241.8 53.4L225.4 46.5L208.1 38.2L187.6 25.1Z" fill="#2fd22c" stroke="none" opacity="0.8"/><path d="M174.1 36.3L202.6 41M176.5 40.7L202.6 43.4M178.3 44.7L202.5 45.1M179.2 48L204.1 47.3M180.1 51L202.1 50.7" stroke="#2fd22c" stroke-width="1.23" opacity="0.6"/><path d="M197.8 16L204.1 45.7M200.9 12.9L210 43.6M205.9 20.2L209.9 47.4M211.4 14.2L219.6 49.8M215.8 11.3L220.7 50M222.1 12.1L226.4 48.1M228.8 21.5L231.7 46M236.6 20.7L236.9 50.5" stroke="#2fd22c" stroke-width="1.07" opacity="0.3"/><path d="M168.8 43.7L184.2 40.7" stroke="#2fd22c" stroke-width="1.23" opacity="0.5"/><path d="M176.5 50.7L191.9 46" stroke="#2fd22c" stroke-width="1.23" opacity="0.5"/><path d="M194.9 13.8L196.5 35.3" stroke="#2fd22c" stroke-width="1.53" opacity="0.7"/><path d="M174 4.3L176.1 5.6L177.3 7.5L178.1 9.7M174 4.3L175.4 6.1L176.6 7.9L177.3 10.1L178.5 12M173.4 4.7L174.6 6.5L175.7 8.5L176.7 10.5L177.9 12.4M172.9 4.9L173.8 7L175.1 8.8L176.3 10.7L177.6 12.5M172.9 5L173.4 7.2L174.3 9.3L175.8 11L177.2 12.8" stroke="#2fd22c" stroke-width="1.15" opacity="0.25"/><path d="M230.2 61.4L235.6 92.1L228.7 122.8L208.8 139.7L185.7 148.1L165 140.5" stroke="#2fd22c" stroke-width="1.07" opacity="0.45"/><path d="M165 140.5L159.6 153.5L167.3 181.1L184.2 194.9" stroke="#2fd22c" stroke-width="0.92" opacity="0.3"/><path d="M239.5 142.8L214.9 165.8L196.5 188.8L189.6 214.9L188 239.5" stroke="#2fd22c" stroke-width="1.23" opacity="0.5"/><ellipse cx="198.01" cy="162.71" rx="6.91" ry="8.44" fill="#3236b4" stroke="none" opacity="0.15"/></g>
</g>
<g transform="translate(1064.1 1214.5) scale(0.9975 0.9958)" clip-path="url(#cc)">
<rect width="237" height="237" fill="#000"/>
<g filter="url(#b3)" fill="none" stroke-linecap="round" stroke-linejoin="round"><path d="M0 46L107.4 0L153.5 0L122.8 53.7L115.1 92.1L130.5 135.1L153.5 127.4L138.1 153.5L92.1 168.8L76.7 153.5L61.4 161.2L0 153.5Z" fill="#2fd22c" stroke="none" opacity="0.16"/><path d="M0 168.8L46 161.2L38.4 214.9L76.7 237L0 237Z" fill="#2fd22c" stroke="none" opacity="0.15"/><path d="M237 46L207.2 92.1L153.5 145.8L99.8 230.2L138.1 237L191.9 161.2L237 153.5Z" fill="#2fd22c" stroke="none" opacity="0.13"/><path d="M161.2 207.2L237 188.8L237 237L138.1 237Z" fill="#2fd22c" stroke="none" opacity="0.16"/><path d="M3.1 67.5L38.4 50.7L69.1 27.6L86 15.3L101.3 0" stroke="#7be02a" stroke-width="6.91" opacity="0.38"/><path d="M4.6 66L38.4 50.7L69.1 27.6L86 15.3" stroke="#2fd22c" stroke-width="12.28" opacity="0.35"/><path d="M15.3 90.6L46 72.1L73.7 64.5L107.4 38.4L133.5 9.2L147.4 0" stroke="#2fd22c" stroke-width="3.59" opacity="0.27"/><path d="M116.4 87.2L122.2 73.4L129.5 59.4L142.6 31.6L161.8 9.9L173.8 0.5L173.1 -0.5L160.5 8.5L139.9 29.8L125.3 57.2L117.3 70.9L110.8 84.7Z" fill="#2fd22c" stroke="#2fd22c" stroke-width="2" opacity="0.32"/><path d="M237 46L222.6 61.4L204.2 92.1L184.2 119.7L161.2 138.1L141.2 148.9L130.5 168.8L107.4 199.5L92.1 230.2" stroke="#2fd22c" stroke-width="2.49" opacity="0.36"/><path d="M191.5 113.1L160.9 134L142.6 145.6L128.4 168.5L129.4 169.2L146 149.1L164.5 139.2L192.3 114.1Z" fill="#7be02a" stroke="#7be02a" stroke-width="2" opacity="0.36"/><path d="M239.5 190.3L214.9 198L184.2 201.1L162.7 210.3L153.5 227.2L138.1 239.5" stroke="#2fd22c" stroke-width="2.21" opacity="0.32"/><path d="M237 188.8L218 196.5" stroke="#7be02a" stroke-width="3.04" opacity="0.32"/><path d="M197.3 25.5L210.6 15.4L222.6 0.7L216.4 -3.7L206.9 12.2L195.7 23.6Z" fill="#7be02a" stroke="#7be02a" stroke-width="2" opacity="0.34"/><path d="M6.1 107.4L15.3 92.1L38.4 79.8L58.3 76.7L61.4 86L50.7 104.4L38.4 116.7" stroke="#2fd22c" stroke-width="2.21" opacity="0.29"/><path d="M5.5 109.4L12.3 123.6L30.5 129L52.3 123.6L52.1 122L30.9 121.2L15.4 118.9L6.8 108.6Z" fill="#2fd22c" stroke="#2fd22c" stroke-width="2" opacity="0.32"/><path d="M61.4 141.2L76.7 153.5L95.2 159.6L115.1 138.1L138.1 130.5L155 125.9" stroke="#2fd22c" stroke-width="3.59" opacity="0.25"/><path d="M61 141.9L80 158.7L99.3 165.3L108.1 147.8L106.8 146.9L97.2 157L85.7 148.3L61.8 140.6Z" fill="#2fd22c" stroke="#2fd22c" stroke-width="2" opacity="0.26"/><path d="M86 161.2L79.8 184.2L72.1 199.5" stroke="#2fd22c" stroke-width="4.14" opacity="0.14"/><path d="M0 222.6L46 221L69.1 214.9" stroke="#2fd22c" stroke-width="2.49" opacity="0.23"/><path d="M15.3 231.8L46 224.1" stroke="#2fd22c" stroke-width="4.14" opacity="0.25"/><path d="M0 61.4L9.2 64.5" stroke="#2fd22c" stroke-width="5.53" opacity="0.27"/></g>
<g filter="url(#b1)" fill="none" stroke-linecap="round" stroke-linejoin="round"><path d="M21.4 55.7L92.4 5.2M17.5 62.3L98.6 2.9M19.9 64L104.1 3.2M34.2 59.4L111.7 1.8M26.4 71.5L117.1 3M23.8 76.6L121.4 0.5M44.8 64.4L111.4 15.9M43.6 68.1L113.1 16.8M32.4 80.7L107.5 19.9M31.5 88.1L129.4 12.2M52.4 77L144 5.6M54.3 79.5L133.3 13.8" stroke="#2fd22c" stroke-width="1.23" opacity="0.4"/><path d="M106 214.2L169.4 135.3M120.7 200.1L173.4 131.5M115.1 213.7L195.3 103.5M124.4 207.8L200.9 96.4M135.4 202.2L198.3 105.1M136 203.6L205.6 94M128.2 221.1L205.1 96.4M131.5 226.4L209.6 93.8M134.1 232.5L227.5 64.8M141.9 229.5L227.5 67.1" stroke="#2fd22c" stroke-width="1.07" opacity="0.35"/><path d="M0.1 180.6L69.6 201.7M10.6 190.2L56 200.3M7.2 193.9L57 204.6M4.4 206.9L56.8 212.5M7.2 207.7L69.4 213.6M4.6 219.6L66.8 221.2M1.3 227.1L66.6 224.5M3.8 230.8L73.6 228" stroke="#2fd22c" stroke-width="1.07" opacity="0.35"/><path d="M155.7 233.6L225.2 196.8M169.2 228.3L231.5 196.5M165.7 231.5L225.3 200.7M166.9 233.3L223.3 203.9M174.3 230.6L229.4 203.6M179.7 230.6L228.6 206.2" stroke="#2fd22c" stroke-width="1.07" opacity="0.4"/><path d="M11.1 61L20.2 56.9L29 52.2L37.6 47.6L45.5 41.9L53 35.2L61.3 29.7L69.2 23.5L77.5 17.9L85.2 12L92.5 5.4L100.5 -0.9M20.2 56.9L29.2 52.6L38.1 48.5L45.5 42L53.6 36.1L61.5 30L70 24.6L77.9 18.4L85.9 12.7M2.8 66.9L11.8 62.6L20.6 57.8L29.5 53.3L38.2 48.7L46.1 42.7L54.1 36.8L62.1 30.8L70.4 25.1L78.4 19.2L86.7 13.6L93.4 6.2L101.1 -0.2M3 67.4L12 63.1L20.9 58.5L30 54.2L39 50L46.6 43.5L54.9 37.8L62.9 31.8L71 26L78.8 19.7L86.9 13.8L93.7 6.5L101.3 -0.1M3.3 68L12.3 63.6L21.1 58.8L30.3 54.9L39.1 50.1L47.3 44.3L55.5 38.7L63.2 32.2L71.4 26.5L79.2 20.2L87.2 14.2L94.8 7.6L101.2 -0.1M3.3 68L12.4 63.9L21.4 59.6L30.7 55.7L39.6 50.9L47.7 45L55.8 39L64 33.4L71.7 26.9L80 21.3L87.7 14.8L95.2 8.1M22.1 60.9L31.1 56.5L40.4 52.3L48.5 46L56.3 39.7L64.6 34.1L72.6 28.1L80.2 21.5L88.2 15.3M31.4 57.2L40.5 52.4L48.8 46.4L56.8 40.4L65.2 35L72.8 28.4L80.9 22.4" stroke="#7be02a" stroke-width="1.2" opacity="0.85"/><path d="M36.3 76.8L47.4 70.7L59.6 67.3L71.5 64L81.3 56.7L91.1 49.1L101.3 41.8L110.5 33.5L118.6 24L127.1 14.7M25.8 83.7L36.6 77.3L47.6 71.2L59.7 67.9L71.7 64.4L82 57.7L91.9 50.1L101.7 42.2L110.9 33.9L119.3 24.6L127.8 15.4L136.8 6.8L147.2 -0.2M26.4 84.6L37.1 78.1L48 72.1L59.9 68.6L72.1 65.4L82.3 58.1L92.3 50.6L102.2 42.8L111.5 34.5L119.7 25L128 15.6L137.2 7.3L147.4 0.1M37.4 78.6L48.3 72.9L60.2 69.6L72.4 66L82.8 58.8L92.9 51.3L102.7 43.5L112 35L120.3 25.5L128.6 16.2L137.6 7.7L147.7 0.5" stroke="#2fd22c" stroke-width="1.25" opacity="0.6"/><path d="M23 86L50.7 61.4L86 46L116.7 20L138.1 4.6" stroke="#2fd22c" stroke-width="1.84" opacity="0.5"/><path d="M116.4 87.2L122.2 73.4L129.5 59.4L142.6 31.6L161.8 9.9L173.8 0.5L173.1 -0.5L160.5 8.5L139.9 29.8L125.3 57.2L117.3 70.9L110.8 84.7Z" fill="#2fd22c" stroke="none" opacity="0.8"/><path d="M215 75.1L205.7 90.9L194.9 105.8L184.1 120.7L169.7 132.3L154.6 142.5L139.9 152.5L131.3 168.6L120.3 183.3L109.5 198.1M236.9 46L224.4 59.3L214.6 74.8L205.1 90.6L194.5 105.5L183.6 120.2L169.4 131.8L154.2 142L139.5 152.1L130.7 168.2L119.9 183L108.8 197.6L100.2 213.8L92.2 230.3M236.7 45.7L223.9 59L214 74.5L204.6 90.2L193.9 105L183.1 119.7L168.9 131.2L153.8 141.4L138.9 151.6L130.2 167.9L119.4 182.6L108.4 197.3L99.9 213.6L91.7 230" stroke="#2fd22c" stroke-width="1.15" opacity="0.8"/><path d="M191.5 113.1L160.9 134L142.6 145.6L128.4 168.5L129.4 169.2L146 149.1L164.5 139.2L192.3 114.1Z" fill="#7be02a" stroke="none" opacity="0.9"/><path d="M191.9 158.1L161.2 184.2L138.1 207.2L115.1 239.5" stroke="#2fd22c" stroke-width="2.15" opacity="0.6"/><path d="M168.8 162.7L145.8 188.8L122.8 211.8" stroke="#2fd22c" stroke-width="1.53" opacity="0.5"/><path d="M191.9 158.1L207.2 155.8L222.6 162.7L239.5 171.9" stroke="#2fd22c" stroke-width="2.15" opacity="0.7"/><path d="M204.2 92.1L214.9 107.4L222.6 130.5L239.5 147.4" stroke="#2fd22c" stroke-width="1.84" opacity="0.65"/><path d="M230.1 193.7L220.7 196.7L211 198.9L201.2 200.2L191.3 201.1L181.8 203L172.7 206.7L163.9 210.6L158.7 218.6L154.1 227.5M239.4 190.2L230 193.3L220.5 196.1L210.9 198.5L201.1 199.5L191.2 200.5L181.6 202.3L172.5 206L163.3 210L158.2 218.3L153.5 227L146 233.4L138.2 239.6M220.4 195.7L210.8 197.8L201 198.7L191.1 199.7L181.3 201.4L172.2 205.4L163 209.6L157.8 218.1L153.2 226.8L145.6 233L137.9 239.2" stroke="#2fd22c" stroke-width="1.02" opacity="0.7"/><path d="M239.5 199.5L199.5 214.9L168.8 231.8L145.8 239.5" stroke="#2fd22c" stroke-width="1.53" opacity="0.45"/><path d="M232.7 191.8L227.9 193.6L223.1 195.4L218.2 197M237.1 189.1L232.3 190.9L227.6 192.8L222.9 195L218 196.5M237 188.7L232 190.2L227.3 192.2L222.7 194.4L218 196.5M236.9 188.5L231.8 189.6L227 191.5L222.3 193.6" stroke="#7be02a" stroke-width="1.06" opacity="0.7"/><path d="M197.3 25.5L210.6 15.4L222.6 0.7L216.4 -3.7L206.9 12.2L195.7 23.6Z" fill="#7be02a" stroke="none" opacity="0.85"/><path d="M191.9 18.4L184.2 12.3L175 16.9L175 24.6L184.2 28.4L191.9 24.6" stroke="#2fd22c" stroke-width="1.84" opacity="0.7"/><path d="M218 9.2L237 20" stroke="#2fd22c" stroke-width="1.23" opacity="0.4"/><path d="M11.1 98.4L17.3 90.5L26.3 85.4L35.5 80.7L45.3 78L55.8 76.6L61.4 83.7L58 93.2L52.8 102.1L46 109.8L38.7 117M6.2 107.5L11.4 98.7L17.5 90.8L26.6 85.9L35.6 81.2L45.5 78.8L55.6 77.1L60.6 83.8L57.4 92.8L52.2 101.7L45.5 109.3L38.4 116.7M18 91.3L26.9 86.6L35.9 81.8L45.6 79.3L55.3 77.9L60 83.9L56.9 92.6L51.7 101.3L45.3 109.1" stroke="#2fd22c" stroke-width="1.02" opacity="0.65"/><path d="M5.5 109.4L12.3 123.6L30.5 129L52.3 123.6L52.1 122L30.9 121.2L15.4 118.9L6.8 108.6Z" fill="#2fd22c" stroke="none" opacity="0.8"/><path d="M20 130.5L27.6 138.1L20 153.5L15.3 168.8" stroke="#2fd22c" stroke-width="2.15" opacity="0.5"/><path d="M30.7 125.9L35.3 138.1L27.6 153.5" stroke="#2fd22c" stroke-width="1.53" opacity="0.5"/><path d="M58.3 92.1L69.1 107.4L66 138.1L61.4 144.3" stroke="#2fd22c" stroke-width="1.53" opacity="0.4"/><path d="M77.6 152.8L86.9 155.6L95.5 157.9L101.8 150.8L108.5 143.3L116 136.4L125.8 133.2L135.4 130L145.1 127.6M69.4 147.3L77.3 153.3L86.7 156.3L95.8 158.6L102.4 151.3L109.2 144L116.5 137.3L126.2 134.2L135.7 131L145.3 128.1M61.3 141.3L68.9 147.9L76.9 154L86.5 157.2L96 159.3L103 151.9L109.6 144.4L117 138L126.4 134.9L135.8 131.6L145.5 128.8L155.2 126.3M76.5 154.8L86.2 158.1L96.3 160.3L103.7 152.6L110.3 145.1L117.3 138.6L126.6 135.7L136.1 132.5L145.6 129.2L155.1 126.3" stroke="#2fd22c" stroke-width="1.25" opacity="0.55"/><path d="M61 141.9L80 158.7L99.3 165.3L108.1 147.8L106.8 146.9L97.2 157L85.7 148.3L61.8 140.6Z" fill="#2fd22c" stroke="none" opacity="0.65"/><path d="M84.9 171.5L82.1 181.5L78.2 191.1M86.3 161.3L84.2 171.3L81.4 181.2L77.6 190.8L72.4 199.7M86.2 161.2L83.4 171.1L80.9 181L76.8 190.4L72.2 199.6M85.5 161.1L82.4 170.8L79.9 180.7L76.2 190.1L71.7 199.3M85.2 161L82.1 170.8L79.2 180.5L75.1 189.6" stroke="#2fd22c" stroke-width="1.15" opacity="0.3"/><path d="M107.4 95.2L119.7 107.4L122.8 122.8" stroke="#2fd22c" stroke-width="1.53" opacity="0.35"/><path d="M72.1 66L79.8 76.7L86 95.2L107.4 98.2" stroke="#2fd22c" stroke-width="1.84" opacity="0.4"/><path d="M0 184.2L30.7 191.9L46 207.2L50.7 222.6" stroke="#2fd22c" stroke-width="1.53" opacity="0.45"/><path d="M0 199.5L38.4 204.2L61.4 210.3" stroke="#2fd22c" stroke-width="1.53" opacity="0.45"/><path d="M0 171.9L23 162.7L43 159.6" stroke="#2fd22c" stroke-width="1.23" opacity="0.35"/><path d="M10 221.6L19.9 221.2L29.9 220.7L39.9 220.4L49.6 219.2L59.3 216.8M0 222.6L10 222.2L20 221.8L29.9 221.4L39.9 221.1L49.8 220L59.5 217.6L69 214.8M10 222.9L20 222.6L30 222.3L40 222L49.9 220.7L59.6 218L69.1 215.2" stroke="#2fd22c" stroke-width="1.15" opacity="0.5"/><path d="M22.7 228.6L30.3 226.3L37.9 224.3M15.3 231.4L22.9 229.2L30.5 227.3L38.2 225.3L45.9 223.7M15.3 231.6L23 229.7L30.8 228.2L38.4 226.1L46 223.9M15.5 232.4L23.2 230.5L30.9 228.8L38.5 226.6L46.1 224.4M15.5 232.6L23.4 231.4L31.1 229.6L38.7 227.3" stroke="#2fd22c" stroke-width="1.15" opacity="0.55"/><path d="M99.8 178.1L116.7 171.9L138.1 153.5" stroke="#2fd22c" stroke-width="1.53" opacity="0.5"/><path d="M9.2 13.8L15.3 27.6" stroke="#2fd22c" stroke-width="2.15" opacity="0.45"/><path d="M0.3 60.4L3 60L5.3 60.9L7.5 61.8L9.6 63.4M0.3 60.5L2.9 60.5L5 61.6L7.4 62.3M0.1 61.1L2.6 61.4L4.8 62.3L7.2 62.8L9.4 64M-0.1 61.7L2.4 61.9L4.7 62.6L6.9 63.6L9.2 64.6M-0.2 62.1L2 63L4.3 63.8L6.8 64.2L9.1 64.9M-0.1 61.8L1.8 63.7L4 64.8L6.4 65.2L9 65M1.6 64.2L3.8 65.5L6.1 66L8.7 65.9" stroke="#2fd22c" stroke-width="1.1" opacity="0.6"/><path d="M0 50.7L30.7 53.7" stroke="#2fd22c" stroke-width="1.23" opacity="0.4"/><path d="M237 49.1L228.7 64.5" stroke="#2fd22c" stroke-width="1.23" opacity="0.4"/><ellipse cx="101.31" cy="56.79" rx="9.21" ry="14.58" fill="#3236b4" stroke="none" opacity="0.24" transform="rotate(15 101.31 56.79)"/><ellipse cx="38.37" cy="98.24" rx="11.51" ry="8.44" fill="#3236b4" stroke="none" opacity="0.27"/><ellipse cx="85.19" cy="127.4" rx="9.98" ry="11.51" fill="#3236b4" stroke="none" opacity="0.34"/><ellipse cx="193.41" cy="138.15" rx="13.05" ry="14.58" fill="#3236b4" stroke="none" opacity="0.31"/><ellipse cx="185.73" cy="217.97" rx="11.51" ry="9.21" fill="#3236b4" stroke="none" opacity="0.34"/><ellipse cx="184.2" cy="19.95" rx="6.91" ry="5.37" fill="#3236b4" stroke="none" opacity="0.41"/><ellipse cx="217.97" cy="35.3" rx="6.14" ry="10.74" fill="#3236b4" stroke="none" opacity="0.24"/><ellipse cx="217.97" cy="61.4" rx="6.14" ry="9.21" fill="#3236b4" stroke="none" opacity="0.31" transform="rotate(20 217.97 61.4)"/></g>
</g>
<g transform="translate(1305.3 1214.5) scale(0.9954 0.9958)" clip-path="url(#cc)">
<rect width="237" height="237" fill="#000"/>
<g filter="url(#b3)" fill="none" stroke-linecap="round" stroke-linejoin="round"><path d="M30.7 61.4L107.4 35.3L153.5 58.3L237 46L237 168.8L153.5 168.8L107.4 161.2L30.7 138.1Z" fill="#2fd22c" stroke="none" opacity="0.17"/><path d="M0 15.3L53.7 23L46 69.1L0 46Z" fill="#2fd22c" stroke="none" opacity="0.14"/><path d="M0 145.8L69.1 161.2L92.1 237L0 237Z" fill="#2fd22c" stroke="none" opacity="0.12"/><path d="M184.2 0L237 0L237 61.4L214.9 53.7Z" fill="#2fd22c" stroke="none" opacity="0.2"/><path d="M152.7 69.3L182.9 81.5L214.4 89.7L215.4 86.8L185.5 75.1L157.3 59.6Z" fill="#7be02a" stroke="#7be02a" stroke-width="2" opacity="0.36"/><path d="M153.5 64.5L184.2 78.3L214.9 89" stroke="#2fd22c" stroke-width="12.28" opacity="0.3"/><path d="M48 77L70.6 62L86.8 47.5L110.7 36.5L110.3 35.6L85.1 44.6L67.6 57.7L44.1 70.4Z" fill="#2fd22c" stroke="#2fd22c" stroke-width="2" opacity="0.32"/><path d="M35.3 76.7L50.7 72.1L70.6 61.4" stroke="#2fd22c" stroke-width="10.74" opacity="0.3"/><path d="M182.7 2.3L197.1 20.1L216.3 46.7L220.3 73.8L221.8 73.6L219.6 45.4L202 16.7L188.8 -2.3Z" fill="#2fd22c" stroke="#2fd22c" stroke-width="2" opacity="0.32"/><path d="M219.5 73.9L220.2 85.5L211.3 106.7L211.1 138.1L212.6 138.2L218.5 108.2L224.9 86.4L222.6 73.5Z" fill="#2fd22c" stroke="#2fd22c" stroke-width="2" opacity="0.32"/><path d="M204.2 75.2L222.6 76.7L239.5 78.3" stroke="#2fd22c" stroke-width="2.76" opacity="0.32"/><path d="M35.1 134.3L60.6 135L78.8 145L107 153.6L138 160.4L138.3 158.9L107.9 150.4L80.8 140.5L62.2 129L35.5 126.6Z" fill="#2fd22c" stroke="#2fd22c" stroke-width="2" opacity="0.28"/><path d="M30.7 89L46 95.2" stroke="#2fd22c" stroke-width="6.91" opacity="0.25"/><path d="M38.4 69.1L53.7 72.1L76.7 76.7L107.4 79.8L130.5 73.7L147.4 61.4" stroke="#2fd22c" stroke-width="2.76" opacity="0.27"/><path d="M125.9 82.9L135.1 87.5L153.5 76.7L158.1 67.5" stroke="#2fd22c" stroke-width="3.04" opacity="0.25"/><ellipse cx="107.45" cy="113.59" rx="16.88" ry="14.58" fill="#2fd22c" stroke="none" opacity="0.4"/><ellipse cx="107.45" cy="113.59" rx="10.74" ry="9.21" fill="#3236b4" stroke="none" opacity="0.2"/><path d="M191.9 218L204.2 227.2" stroke="#2fd22c" stroke-width="4.14" opacity="0.25"/><path d="M239.5 141.2L228.7 156.6L214.9 168.8L207.2 173.5" stroke="#2fd22c" stroke-width="2.49" opacity="0.27"/><path d="M145.8 138.1L150.4 147.4L147.4 156.6" stroke="#2fd22c" stroke-width="3.32" opacity="0.2"/></g>
<g filter="url(#b1)" fill="none" stroke-linecap="round" stroke-linejoin="round"><path d="M56.2 69.4L144.3 62.2M48.5 75.5L148.6 67.1M48.7 80.8L148.2 77.9M61.1 89.2L150.7 88.1M47.8 98.1L149 100.9M43.2 102.1L152.8 102.8M62.6 109.9L131.1 120.1M59.5 113.5L130.4 124.7M46.2 116.7L127 120.2M41.3 125.5L137.9 142.9M58.8 136L146.6 155.4M59 140.8L137.1 152.1" stroke="#2fd22c" stroke-width="1.07" opacity="0.4"/><path d="M162.4 71.9L206.4 77.4M170 78.9L208.5 79.4M161.7 88.9L222 89.1M164.3 98.9L224.6 95.4M165.7 116.3L215.3 120.3M164.9 118.9L221 120.4M155.6 124.9L219 125.2M152.2 137.6L217.9 140M148.6 149.1L231.6 144.6M149.5 160.4L229.7 150" stroke="#2fd22c" stroke-width="1.07" opacity="0.35"/><path d="M0 25.5L52.8 48.6M7.9 33.2L41.5 47.2M5.1 35L40.5 51.2M2.9 42.6L37.3 58.9M4.7 43.8L45.7 62.8" stroke="#2fd22c" stroke-width="1.07" opacity="0.35"/><path d="M17.7 161.6L72.3 223.4M12.1 163.3L65.9 223.9M12.6 168.2L64.5 230.6M9.1 177.9L49.3 226.2M12 189.1L44 232M7 188.4L37.9 228.3" stroke="#2fd22c" stroke-width="1.07" opacity="0.3"/><path d="M152.7 69.3L182.9 81.5L214.4 89.7L215.4 86.8L185.5 75.1L157.3 59.6Z" fill="#7be02a" stroke="none" opacity="0.9"/><path d="M48 77L70.6 62L86.8 47.5L110.7 36.5L110.3 35.6L85.1 44.6L67.6 57.7L44.1 70.4Z" fill="#2fd22c" stroke="none" opacity="0.8"/><path d="M182.7 2.3L197.1 20.1L216.3 46.7L220.3 73.8L221.8 73.6L219.6 45.4L202 16.7L188.8 -2.3Z" fill="#2fd22c" stroke="none" opacity="0.8"/><path d="M207.2 4.6L222.6 15.3L239.5 30.7" stroke="#2fd22c" stroke-width="2.15" opacity="0.55"/><path d="M191.9 6.1L214.9 38.4L237 58.3" stroke="#2fd22c" stroke-width="1.53" opacity="0.4"/><path d="M219.5 73.9L220.2 85.5L211.3 106.7L211.1 138.1L212.6 138.2L218.5 108.2L224.9 86.4L222.6 73.5Z" fill="#2fd22c" stroke="none" opacity="0.8"/><path d="M204.2 74.7L213 75.3L221.9 75.7L230.7 76.8L239.5 77.9M204.2 75.1L213 76L221.8 76.7L230.6 77.4L239.5 78.1M204.1 75.7L212.9 76.8L221.7 77.7L230.6 78.1" stroke="#2fd22c" stroke-width="1.28" opacity="0.7"/><path d="M214.9 107.4L230.2 99.8L239.5 98.2" stroke="#2fd22c" stroke-width="1.53" opacity="0.4"/><path d="M35.1 134.3L60.6 135L78.8 145L107 153.6L138 160.4L138.3 158.9L107.9 150.4L80.8 140.5L62.2 129L35.5 126.6Z" fill="#2fd22c" stroke="none" opacity="0.7"/><path d="M138.1 159.6L161.2 173.5L184.2 188.8L207.2 204.2L230.2 214.9" stroke="#2fd22c" stroke-width="1.84" opacity="0.5"/><path d="M145.8 138.1L168.8 153.5L207.2 165.8L230.2 153.5L239.5 145.8" stroke="#2fd22c" stroke-width="2.15" opacity="0.55"/><path d="M147.4 153.5L176.5 161.2L199.5 176.5L214.9 191.9" stroke="#2fd22c" stroke-width="1.53" opacity="0.4"/><path d="M35.6 87.8L39.7 88.9L43.3 90.9L46.5 94.1M35.4 88.3L39.3 89.8L42.9 92M31.1 88L34.9 89.7L39 90.6L42.7 92.4L46.5 94.1M30.7 89.1L34.7 90L38.6 91.5L42.5 92.9L46.3 94.6M30.6 89.3L34.4 90.8L38 92.9L42.1 93.8L45.8 95.7M30.4 89.7L34 91.8L37.9 93.3L41.7 94.8L45.7 96M30.3 90.1L33.7 92.7L37.7 93.9L41.5 95.5L45.8 95.8M33.5 93.1L37.1 95.3L41.1 96.4" stroke="#2fd22c" stroke-width="1.2" opacity="0.55"/><path d="M38.5 68.5L48.7 70.4L58.9 72.6L69.2 74.3L79.4 76.2L89.8 77L100.1 78.1L110.3 78.4L120.2 75.5L130.1 72.9L138.7 67.2M38.4 68.9L48.6 71.1L58.9 73L69.1 75.1L79.3 76.9L89.7 78.1L100.1 79L110.4 79.1L120.4 76.3L130.6 73.8L139 67.7L147.4 61.5M58.7 74L68.9 76L79.2 77.7L89.6 79L100 80.1L110.4 79.7L120.6 77L130.8 74.4L139.4 68.1" stroke="#2fd22c" stroke-width="1.28" opacity="0.6"/><path d="M135.2 86.3L143.7 81.1L152.8 76.3L157.5 67.2M125.9 82.8L135.2 87.1L144.1 81.9L153.2 76.7L158.1 67.5M125.7 83.2L135.3 87.9L144.4 82.4L153.6 77L158.3 67.7M125.7 83.3L135.3 88.3L144.9 83.1L154 77.4L158.7 67.8" stroke="#2fd22c" stroke-width="1.06" opacity="0.55"/><path d="M147.4 61.4L138.1 53.7L116.7 46" stroke="#2fd22c" stroke-width="1.84" opacity="0.45"/><path d="M3.1 27.6L23 35.3L46 50.7L58.3 64.5" stroke="#2fd22c" stroke-width="1.84" opacity="0.5"/><path d="M38.4 27.6L46 46" stroke="#2fd22c" stroke-width="1.53" opacity="0.5"/><path d="M15.3 12.3L38.4 38.4" stroke="#2fd22c" stroke-width="1.23" opacity="0.3"/><path d="M58.3 3.1L62.9 15.3" stroke="#2fd22c" stroke-width="0.92" opacity="0.4"/><path d="M0 101.3L30.7 113.6L50.7 107.4" stroke="#2fd22c" stroke-width="1.38" opacity="0.5"/><path d="M30.7 122.8L50.7 119.7L76.7 107.4L92.1 104.4" stroke="#2fd22c" stroke-width="1.23" opacity="0.4"/><path d="M15.3 145.8L38.4 161.2L61.4 162.7" stroke="#2fd22c" stroke-width="2.15" opacity="0.5"/><path d="M30.7 153.5L38.4 184.2L61.4 214.9L79.8 231.8" stroke="#2fd22c" stroke-width="2.15" opacity="0.5"/><path d="M0 153.5L7.7 199.5L15.3 230.2" stroke="#2fd22c" stroke-width="2.15" opacity="0.4"/><path d="M107.4 176.5L127.4 191.9L153.5 175" stroke="#2fd22c" stroke-width="1.53" opacity="0.5"/><path d="M127.4 191.9L130.5 214.9" stroke="#2fd22c" stroke-width="1.53" opacity="0.45"/><path d="M107.4 214.9L127.4 191.9" stroke="#2fd22c" stroke-width="1.23" opacity="0.35"/><ellipse cx="130.47" cy="193.41" rx="4.6" ry="4.6" fill="#2fd22c" stroke="none" opacity="0.6"/><path d="M195.8 219.1L199 221.3L201.9 223.8L204.6 226.6M192.3 217.4L195.2 219.9L198.4 222.1L201.5 224.4L204.5 226.7M191.9 217.9L195 220.1L198 222.6L201.2 224.8L204.3 227M191.6 218.3L194.7 220.7L197.5 223.3L200.5 225.6L203.8 227.6M191.3 218.7L194.1 221.4L197.1 223.8L200.3 225.9L203.7 227.8" stroke="#2fd22c" stroke-width="1.15" opacity="0.55"/><path d="M214.9 191.9L199.5 214.9L191.9 239.5" stroke="#2fd22c" stroke-width="2.15" opacity="0.45"/><path d="M178.1 139.7L199.5 138.1L214.9 133.5" stroke="#2fd22c" stroke-width="1.84" opacity="0.5"/><path d="M234.7 149.1L229.4 156.8L222.4 163L215.5 169.2L207.3 173.6M239.4 141.2L234 148.7L228.8 156.3L221.9 162.4L215.2 168.7L207.2 173.5M233.5 148.3L228.4 155.9L221.5 162L214.7 168.1" stroke="#2fd22c" stroke-width="1.15" opacity="0.6"/><path d="M146.4 137.9L149 142.2L151.4 147L150.1 152.2L147.9 156.7M146.2 138L148.5 142.4L150.6 147.1L149.1 151.9L147.6 156.6M145.7 138.2L147.9 142.7L150 147.1L148.5 151.7L147.2 156.5M145.4 138.3L147 143.2L149.1 147.2L147.8 151.5L146.8 156.4" stroke="#2fd22c" stroke-width="1.15" opacity="0.45"/><path d="M153.5 95.2L184.2 98.2L207.2 104.4" stroke="#2fd22c" stroke-width="1.23" opacity="0.35"/><path d="M69.1 230.2L92.1 214.9L107.4 184.2" stroke="#2fd22c" stroke-width="1.23" opacity="0.3"/><ellipse cx="182.66" cy="112.05" rx="11.51" ry="10.74" fill="#3236b4" stroke="none" opacity="0.34"/><ellipse cx="85.19" cy="192.64" rx="12.28" ry="12.28" fill="#3236b4" stroke="none" opacity="0.37"/><ellipse cx="46.82" cy="221.04" rx="13.05" ry="13.81" fill="#3236b4" stroke="none" opacity="0.34"/><ellipse cx="231.78" cy="46.05" rx="7.67" ry="10.74" fill="#3236b4" stroke="none" opacity="0.27"/></g>
</g>
<g transform="translate(821.2 1457.5) scale(0.9987 0.9941)" clip-path="url(#cc)">
<rect width="237" height="237" fill="#000"/>
<g filter="url(#b3)" fill="none" stroke-linecap="round" stroke-linejoin="round"><path d="M9.2 138.1L30.7 116.7L50.7 153.5L76.7 191.9L107.4 210.3L86 227.2L46 230.2L23 207.2L9.2 168.8Z" fill="#2fd22c" stroke="none" opacity="0.5"/><path d="M46 122.8L107.4 46L168.8 38.4L191.9 76.7L191.9 153.5L153.5 191.9L92.1 199.5L53.7 168.8Z" fill="#2fd22c" stroke="none" opacity="0.1"/><path d="M130.5 15.3L153.5 16.9L181.1 27.6L198 46" stroke="#2fd22c" stroke-width="13.81" opacity="0.36"/><path d="M127.4 12.3L153.5 15.3L184.2 26.1L202.6 21.5" stroke="#7be02a" stroke-width="5.53" opacity="0.38"/><path d="M198 46L205.7 76.7L210.3 107.4L208.8 138.1L198 165.8" stroke="#2fd22c" stroke-width="16.58" opacity="0.32"/><path d="M204.2 53.7L207.2 107.4L202.6 145.8" stroke="#2fd22c" stroke-width="5.53" opacity="0.34"/><path d="M198 165.8L176.5 188.8L145.8 201.1L115.1 207.2L92.1 209.5" stroke="#2fd22c" stroke-width="7.6" opacity="0.41"/><path d="M184.2 181.1L153.5 198L115.1 206.5" stroke="#7be02a" stroke-width="3.59" opacity="0.41"/><path d="M92.1 209.5L69.1 196.5L50.7 176.5L35.3 153.5" stroke="#2fd22c" stroke-width="6.91" opacity="0.32"/><path d="M27.6 138.1L30.7 119.7L43 107.4" stroke="#2fd22c" stroke-width="5.53" opacity="0.27"/><path d="M27.6 110.5L46 104.4L64.5 93.6L73.7 79.8L86 64.5L107.4 43L122.8 30.7" stroke="#2fd22c" stroke-width="3.32" opacity="0.36"/><path d="M20 101.3L46 104.4" stroke="#2fd22c" stroke-width="2.21" opacity="0.27"/><path d="M122.8 30.7L138.1 27.6L153.5 30.7L168.8 39.9" stroke="#2fd22c" stroke-width="2.76" opacity="0.14"/><path d="M113.6 20L116.7 26.9" stroke="#2fd22c" stroke-width="3.59" opacity="0.25"/><path d="M86 214.9L99.8 230.2L112.1 239.5" stroke="#2fd22c" stroke-width="4.14" opacity="0.36"/><path d="M153.5 227.2L159.6 239.5" stroke="#2fd22c" stroke-width="4.97" opacity="0.32"/><path d="M0 207.2L6.1 239.5" stroke="#2fd22c" stroke-width="3.59" opacity="0.36"/><path d="M15.3 153.5L7.7 168.8L12.3 191.9" stroke="#2fd22c" stroke-width="4.14" opacity="0.2"/></g>
<g filter="url(#b1)" fill="none" stroke-linecap="round" stroke-linejoin="round"><path d="M18.7 135.4L47.7 137.9M19 144.1L52.7 144M21.7 151.9L58.5 153.3M30.9 165.3L65.6 163.3M30.1 179.5L72.4 175.2M30.1 186.7L75.4 177.3M42.1 193.8L75.5 193.9M42.6 200L77.9 199M38.6 210.3L75 198.6M40.8 225.4L91.6 216.4" stroke="#2fd22c" stroke-width="1.23" opacity="0.45"/><path d="M61 107.4L141.9 45.9M61 115.7L139.9 49.4M58.7 120.4L140.1 56.7M63.2 122.9L142.1 57.1M59.2 134.8L154.4 57.5M61.3 142.1L159.4 61.1M63.3 154.3L165.6 81.8M62.9 157.2L169 79.4" stroke="#2fd22c" stroke-width="0.92" opacity="0.18"/><path d="M130.7 11.7L140.5 10.9L150.9 10.5L160.9 13.6L170.8 15.8L180.2 20.8L188.7 27.5M140.5 11.1L150.5 12.6L161 13.5L170.4 16.9L180 21.1L188.2 28.1L194.6 36L200.7 43.6M130.7 12.6L140.4 12.9L150.4 13.3L160.7 14.4L169.8 18.6L179.4 22.3L187.1 29.2L193.3 37.2M130.5 14.5L140.4 12.7L150.4 13.6L160.1 16.1L169.5 19.2L178.5 23.8L186.7 29.7L193.6 37L199.3 44.9M130.6 13.6L140.3 14.5L150.2 14.4L159.6 17.6L169.1 20.4L178.4 24L185.5 31L192.7 37.7L199 45.2M130.5 15.4L140.2 16.1L150 15.7L159.4 18.4L168.5 21.8L177.5 25.6L185.2 31.4L191.6 38.7L198.8 45.3M130.5 14.8L140.1 16.9L149.7 17.5L159 19.5L168 23.1L177.2 26.3L184.2 32.5L191.1 39.2L198.1 46M130.4 17L140 17.8L149.6 18.5L158.3 21.6L167.9 23.5L176.3 27.9L184.2 32.5L190.5 39.7L197.8 46.3M130.3 17.3L140 19L149.5 18.6L158.3 21.6L166.9 25.9L176.2 28L183.4 33.4L190.3 40M140 19.2L149.4 19.6L158.1 22.4L166.6 26.6L175 30.3L182.5 34.4L189.2 40.9L197.1 46.9M130.3 17.6L139.9 20.4L149.1 21.3L157.2 25L166.3 27.4L174.4 31.4L182 34.9L188.2 41.8L195.9 48M148.9 22.7L157 25.8L166 28.3L174.1 32L180.7 36.4L187.2 42.8" stroke="#2fd22c" stroke-width="1.6" opacity="0.8"/><path d="M127.6 10.7L137.3 11.6L147 12.6L156.9 13.9L166.1 17.4L175.3 20.6L183.9 23.4L192.7 22M127.5 11.7L137.2 11.9L146.9 13.1L156.7 14.5L166 17.7L175 21.5L183.9 24.2L192.8 22.4L202.5 21M127.5 11.6L137.1 12.8L146.9 13.5L156.5 15.3L165.7 18.6L174.8 22.2L183.8 25L193.1 23.3L202.5 20.9M127.4 12.6L137 13.7L146.7 14.6L156.1 16.6L165.4 19.6L174.7 22.5L183.8 26.1L193.2 24.1L202.5 21.1M127.3 12.9L137 14.1L146.6 15L156.1 16.9L165.2 20.1L174.2 23.8L183.7 26.5L193.3 24.4M136.9 14.7L146.5 16.1L155.8 18.1L164.8 21.3L174.2 24L183.7 27.1L193.5 25.4M146.4 16.7L155.6 18.7L164.6 21.8L173.9 24.7L183.6 28L193.6 25.6" stroke="#7be02a" stroke-width="1.1" opacity="0.85"/><path d="M205.4 44.2L207.3 54.3L211.1 63.9L213.2 74.3L214.8 84.8L215.9 95.1L217.9 105.8L217.9 116.9L216.9 127.2L217.8 138.8L212.1 149.1L208.4 158.8L205.2 168.6M205.4 44.2L207.1 54.3L210 64.2L211.8 74.6L214.2 84.9L216 95.1L216.1 105.9L217 116.8L215.8 127.1L216.4 138.5L211.5 148.9L207.3 158.4L203.6 167.9M202.8 44.9L205.9 54.6L208.4 64.6L211.1 74.7L212.4 85.2L213.3 95.5L215.5 106L214.7 116.7L214 127L213.2 137.9L210.1 148.4L205.5 157.7L202.8 167.6M200.6 45.4L203.6 55.2L205.7 65.3L209.8 75L210.9 85.4L211.8 95.7L213.3 106.1L212.8 116.7L213.5 127L212.8 137.8L209.1 148L205.4 157.6L202.3 167.4M199.6 45.6L203.2 55.3L204.9 65.5L207.1 75.6L210 85.6L211.8 95.7L213.1 106.1L211.6 116.6L210.6 126.8L211.2 137.5L207.9 147.6L203.5 156.9L200.4 166.7M198.5 45.9L201.3 55.8L204 65.7L206.4 75.7L208.6 85.8L208.7 96.1L211.1 106.2L210.2 116.6L209.9 126.8L208.7 137L205.5 146.7L203.2 156.8L198.8 166.1M197.9 46.1L198.8 56.4L202.9 66L204.7 76L206.4 86.1L207.2 96.4L209.2 106.4L208.3 116.5L209 126.8L209 137.1L205.4 146.6L202 156.3L196.9 165.3M195.3 46.7L199.2 56.3L201.8 66.3L203 76.4L206 86.2L206.8 96.4L207.7 106.5L207.3 116.4L206.9 126.7L205.7 136.4L202.4 145.5L200.1 155.6L196.3 165.1M194.6 46.9L196.6 57L200 66.7L202.7 76.5L203 86.6L204.6 96.8L206.4 106.5L207 116.4L206.3 126.6L205.7 136.4L201.3 145.1L197.4 154.5L195.5 164.8M192.4 47.5L196.1 57.1L197 67.4L199.8 77.1L202.8 86.7L204.5 96.8L205.3 106.6L204.5 116.3L205.2 126.6L202.8 135.8L200.3 144.7L196.9 154.3L193.2 163.9M191.1 47.8L195.1 57.3L195.9 67.7L199.3 77.2L199.6 87.2L202.4 97.1L204.1 106.7L203.9 116.3L203.1 126.5L203.2 135.9L199.9 144.6L195.6 153.8L191.7 163.3M191.2 47.8L193.4 57.8L194.3 68.1L198.3 77.4L198.7 87.3L200.5 97.4L201.8 106.8L200.8 116.2L201.8 126.4L200.4 135.4L197.8 143.8L194.5 153.4L190.7 162.9" stroke="#2fd22c" stroke-width="1.92" opacity="0.7"/><path d="M206.3 63.9L207.4 74.1L208.5 84.3L208.7 94.6L209.7 105L208.5 115.4L207.1 125.7L205.5 135.8L203.9 146M206.8 74.2L207.7 84.4L208.3 94.6L209 105L207.8 115.4L206.3 125.6L204.9 135.7M205.5 63.9L205.8 74.2L206.6 84.5L207.2 94.7L207.8 105L206.9 115.3L205.7 125.5L204.6 135.7L203.1 145.9M203.9 53.7L204.6 64L205.2 74.2L205.9 84.5L206.5 94.8L207.4 105L206.3 115.2L205 125.4L204 135.6L202.6 145.8M204.4 64L204.3 74.3L204.9 84.6L205.5 94.8L206 105L205.7 115.2L204.6 125.4L203.1 135.5M203.9 64L203.6 74.3L204 84.6L205.1 94.8L205.2 105L204.9 115.1L203.4 125.2L203 135.5L201.7 145.7M203.2 64.1L203.1 74.4L203.9 84.6L204.1 94.9L205 105L204 115L203.2 125.2" stroke="#2fd22c" stroke-width="1.1" opacity="0.75"/><path d="M193 174.7L186.5 182.2L179.6 190.1L170.2 194.6L161.1 198.9L151.8 202.9L141.9 205.3L132 207.5L122.1 208.7L112.2 210.6M198.6 166.4L192.7 174.4L185.9 181.6L179.2 189.6L169.9 194.1L160.9 198.4L151.5 202L141.8 205L131.9 206.6L122.1 208.5L112.1 209.7L102.1 210.3M199 166.7L192.5 174.2L185.6 181.4L178.4 188.5L169.8 193.7L160.4 197.2L151.3 201.3L141.5 203.6L131.7 205.7L121.9 207.7L112 209.1L102.1 210L92.2 210.5M198 165.8L191.4 173.2L185.1 180.9L178.5 188.6L169.2 192.4L160.1 196.4L150.8 200L141.2 202.7L131.4 204.5L121.7 206.7L111.9 208.3L102.1 209.5M198.3 166L190.9 172.7L184.4 180.2L178 187.9L169 192L159.8 195.6L150.4 198.9L141.1 202.1L131.3 203.9L121.6 206.2L111.9 207.7L102 209L92.1 209.2M197.6 165.4L191.1 172.9L184.1 179.9L177.3 187L168.5 190.8L159.5 194.9L150.1 197.9L140.8 200.9L131.1 203L121.5 205.1L111.7 206.6L101.9 208.1M197.4 165.2L190 171.8L183.2 179.1L176.7 186.2L168.3 190.4L159 193.7L150 197.8L140.7 200.5L131 202.5L121.3 204L111.6 205.6M197.1 165L189.7 171.6L182.9 178.8L176.1 185.4L167.7 189.1L158.7 192.9L149.6 196.5L140.5 199.8L130.8 201.4L121.1 203.4L111.6 205.7L101.8 207.1L91.9 208M167.7 189L158.3 191.9L149.4 196L140.2 198.8L130.6 200.3L121 202.5L111.4 204.2" stroke="#2fd22c" stroke-width="1.17" opacity="0.9"/><path d="M175.5 187.3L166.2 192.4L156.8 197.8L146.5 200.7L136.1 203L125.7 205.1L115.2 206.9M184.3 181.3L175.1 186.7L165.8 191.7L156.4 196.7L146.3 200L136 202.4L125.6 204.7M184 180.8L174.8 186L165.4 191L156 195.9L146.1 199.3L135.8 201.4L125.4 203.9L115.1 206.3M174.5 185.5L165 190.2L155.8 195.3L145.9 198.5L135.6 200.5L125.2 202.9" stroke="#7be02a" stroke-width="1.25" opacity="0.9"/><path d="M82.2 206.4L72.9 201.9L64.3 195.8L57.3 188L50.4 180.4L44.1 172.2L38.9 163.3M82.6 205.7L73.5 201L65 195L57.5 187.9L50.8 180.1L45.1 171.5L39.3 163.1M91.9 209.9L83 205L73.9 200.4L65.4 194.5L58.1 187.3L51.7 179.3L45.9 170.9L40.1 162.5M91.9 209.9L83.1 204.7L74.3 199.6L65.9 194L59.3 186.2L52.3 178.8L46.3 170.6L40.4 162.3L35.3 153.5M92.4 209L83.6 203.9L74.9 198.8L66.5 193.4L60.1 185.5L52.9 178.3L46.7 170.4L41.5 161.6L35.8 153.1M83.7 203.8L75.3 198.2L67.4 192.4L60.7 184.9L53.7 177.6L47.9 169.5L42 161.3L36.1 153M75.7 197.5L67.8 191.9L61.4 184.2L54.3 177.2L48.4 169.2L42 161.2M84.2 202.8L75.9 197.3L68.3 191.4L61.5 184.2L54.8 176.8L49.2 168.6L42.8 160.7" stroke="#2fd22c" stroke-width="1.2" opacity="0.7"/><path d="M26.6 128.8L28.5 119.4L34.8 112.1M27.1 138.1L27.9 129.1L28.9 119.5L35.7 112.9L42.2 106.7M27.5 138.1L28.1 129.1L29.9 120L36 113.3L42.8 107.3M27.9 138.2L29.4 129.3L30.4 120.3L36.4 113.6L42.8 107.3M28.3 138.3L30 129.4L31.4 120.8L37.2 114.4L43.3 107.8M28.7 138.3L30.8 129.5L32.2 121.2L37.8 114.9L43.3 107.8M28.7 138.3L31.1 129.6L32.7 121.4L38.4 115.5" stroke="#2fd22c" stroke-width="1.1" opacity="0.6"/><path d="M37.3 106.1L47.1 102.6L56.2 97.3L64.6 91.6L70.1 82.7L76.4 74.2L83.1 65.8L90.6 58.2L98 50.6M27.5 110.2L37.6 106.8L47.4 103.2L56.5 97.9L65 92L70.8 83.1L77.2 74.7L83.9 66.5L91 58.6L98.6 51.3L106 43.6L114.4 37.2L122.6 30.4M27.7 110.7L37.8 107.6L47.8 104L57 98.6L65.8 92.7L71.4 83.6L78 75.3L84.3 66.9L91.8 59.4L99.3 52L106.7 44.4L114.7 37.6L123 30.9M27.8 110.9L37.9 107.9L48 104.3L57.3 99.2L66.2 93.1L72.2 84.1L78.5 75.7L85.1 67.6L92.3 59.9L99.8 52.4L107 44.7" stroke="#2fd22c" stroke-width="1.15" opacity="0.8"/><path d="M20 100.9L26.5 101.5L33.1 102L39.6 103.1L46.1 103.9M19.9 101.4L26.5 102.2L33 102.9L39.5 103.5L46.1 104.2M19.9 101.6L26.4 102.6L32.9 103.5L39.4 104.3" stroke="#2fd22c" stroke-width="1.02" opacity="0.6"/><path d="M122.7 30.4L132.4 28L142.2 27.6L152.1 29.5L160.8 34.1L169 39.7M122.8 30.8L132.5 28.9L142.1 28.4L151.7 30.5L160.5 34.7L168.8 40M132.5 29.4L142 29.2L151.5 31L160 35.6L168.6 40.3" stroke="#2fd22c" stroke-width="1.28" opacity="0.3"/><path d="M46 138.1L92.1 92.1L138.1 50.7" stroke="#2fd22c" stroke-width="1.53" opacity="0.22"/><path d="M38.4 122.8L92.1 73.7L130.5 38.4" stroke="#2fd22c" stroke-width="1.53" opacity="0.25"/><path d="M61.4 168.8L122.8 122.8L168.8 76.7" stroke="#2fd22c" stroke-width="1.53" opacity="0.12"/><path d="M92.1 18.4L86 46L76.7 73.7" stroke="#2fd22c" stroke-width="1.38" opacity="0.55"/><path d="M115.5 21.2L116.5 22.8L117.1 24.6M113.8 19.9L114.8 21.5L115.6 23.2L116.3 24.9L116.8 26.8M113.2 20.1L113.9 21.9L114.8 23.6L115.6 25.2L116.4 27M113.3 22.2L113.9 24L114.9 25.6" stroke="#2fd22c" stroke-width="1.25" opacity="0.55"/><path d="M239.5 9.2L214.9 46L211.8 73.7" stroke="#2fd22c" stroke-width="0.92" opacity="0.3"/><path d="M196.5 196.5L222.6 218" stroke="#2fd22c" stroke-width="1.23" opacity="0.3"/><ellipse cx="228.71" cy="228.71" rx="12.28" ry="10.74" fill="#2fd22c" stroke="none" opacity="0.8"/><path d="M93.3 220.4L99.1 227.2L105.7 233M86.3 214.5L92.7 221L98.4 227.8L105.2 233.6L112.4 239M86 214.9L91.8 221.8L97.9 228.4L104.7 234.2L112.2 239.3M85.5 215.3L91.6 222L97.3 229L104.2 234.9L111.7 239.9M90.7 222.7L96.8 229.5L104 235.2L111.7 239.9" stroke="#2fd22c" stroke-width="1.15" opacity="0.8"/><path d="M154.6 226.6L157 229.3L158.6 232.3L159.8 235.5M156.3 229.6L157.5 232.8L159 235.9L160.2 239.2M153.8 227L155.6 229.9L156.8 233.2L158.4 236.3L159.6 239.5M153.3 227.3L154.7 230.4L156.5 233.4L157.6 236.7L159.7 239.4M153 227.4L153.8 230.9L155.6 233.8L157.1 236.9L159.2 239.7M153.2 231.2L154.9 234.1L156.3 237.3" stroke="#2fd22c" stroke-width="1.15" opacity="0.7"/><path d="M2.5 215.1L4.2 223.1L5.6 231.2L6.6 239.4M0.4 207.1L1.8 215.2L3.3 223.3L5.2 231.3L6.3 239.4M-0.2 207.3L1 215.4L2.8 223.4L4.4 231.4L5.8 239.5M0.3 215.5L2 223.5L3.3 231.6" stroke="#2fd22c" stroke-width="1.25" opacity="0.8"/><path d="M16 153.8L12 163L9.9 172L12 181.6M15.6 153.6L11.7 162.9L9.1 172L11.3 181.7L12.4 191.8M15.5 153.6L10.9 162.6L8.3 171.9L10.4 181.9L12.4 191.8M14.8 153.2L10.3 162.4L7.6 171.9L9.8 182L11.6 192M9.6 162.1L6.7 171.9L8.7 182.2" stroke="#2fd22c" stroke-width="1.15" opacity="0.45"/><ellipse cx="92.1" cy="44.51" rx="4.91" ry="10.74" fill="#3236b4" stroke="none" opacity="0.34" transform="rotate(12 92.1 44.51)"/><ellipse cx="113.59" cy="110.52" rx="12.28" ry="9.21" fill="#3236b4" stroke="none" opacity="0.34"/><ellipse cx="99.77" cy="132.01" rx="11.51" ry="9.98" fill="#3236b4" stroke="none" opacity="0.37"/></g>
</g>
<g transform="translate(1064.1 1457.5) scale(0.9975 0.9941)" clip-path="url(#cc)">
<rect width="237" height="237" fill="#000"/>
<g filter="url(#b3)" fill="none" stroke-linecap="round" stroke-linejoin="round"><path d="M79.7 17.3L106.4 30.2L128.9 41.3L152 50.2L175.1 55.9L177.9 39.3L155 37.3L132 32.4L108.5 25L80 16.5Z" fill="#2fd22c" stroke="#2fd22c" stroke-width="2" opacity="0.3"/><path d="M99.6 26.5L129.9 39.4L152.9 46.7L171.4 49.9L172.4 42.2L154.1 40.8L131.1 35.8L99.9 25.7Z" fill="#7be02a" stroke="#7be02a" stroke-width="2" opacity="0.36"/><path d="M76.7 16.9L115.1 30.7L153.5 43L184.2 50.7" stroke="#2fd22c" stroke-width="13.81" opacity="0.3"/><path d="M153 49.5L175.2 77.7L192.9 105.9L204.9 120.2L209.5 116.2L197 102.9L177.8 75.8L154 48.7Z" fill="#2fd22c" stroke="#2fd22c" stroke-width="2" opacity="0.32"/><path d="M125.9 1.5L138.1 9.2L153.5 13L168.8 7.7L191.9 4.6L214.9 1.5" stroke="#2fd22c" stroke-width="5.53" opacity="0.36"/><path d="M135.1 9.2L138.1 27.6" stroke="#2fd22c" stroke-width="4.14" opacity="0.23"/><path d="M191.9 4.6L207.2 15.3L216.4 30.7L227.2 43L239.5 49.1" stroke="#2fd22c" stroke-width="5.53" opacity="0.36"/><path d="M205.7 0L239.5 0" stroke="#2fd22c" stroke-width="4.14" opacity="0.36"/><path d="M176.5 46L199.5 61.4L222.6 69.1L239.5 76.7" stroke="#2fd22c" stroke-width="3.45" opacity="0.25"/><path d="M17.4 64.3L30.6 77.5L44 86.1L60.3 91.2L61 89.9L48.1 79.7L36.9 69.8L22.5 58.5Z" fill="#2fd22c" stroke="#2fd22c" stroke-width="2" opacity="0.32"/><path d="M35.3 76.7L50.7 86" stroke="#7be02a" stroke-width="4.14" opacity="0.41"/><path d="M23 61.4L19.2 79.8L21.5 92.1" stroke="#2fd22c" stroke-width="2.76" opacity="0.27"/><path d="M60.9 139.5L44.2 151.5L33.8 168.1L26.4 190.2L27.3 190.5L36.8 169.6L47.9 155.5L65 146Z" fill="#2fd22c" stroke="#2fd22c" stroke-width="2" opacity="0.32"/><path d="M0 18.4L23 35.3L53.7 50.7" stroke="#2fd22c" stroke-width="4.14" opacity="0.14"/><path d="M53.3 37L60.5 55.7L72.3 80.6L84.2 101L94.6 115.2L98.8 112L87.8 98.5L75.1 79L62.3 54.9L54.1 36.7Z" fill="#2fd22c" stroke="#2fd22c" stroke-width="2" opacity="0.32"/><path d="M92.1 110.5L95.2 138.1L98.2 161.2L92.1 181.1" stroke="#2fd22c" stroke-width="2.21" opacity="0.27"/><path d="M128.9 132.8L140.9 130.7L156.4 131.1L156.7 129.9L141.6 124.1L128.9 122Z" fill="#2fd22c" stroke="#2fd22c" stroke-width="2" opacity="0.32"/><path d="M91.4 187.2L108.3 182.8L131 173.4L130 170.5L106.6 176.4L89.7 178.1Z" fill="#2fd22c" stroke="#2fd22c" stroke-width="2" opacity="0.3"/><path d="M168.8 184.2L237 176.5L237 237L161.2 237Z" fill="#2fd22c" stroke="none" opacity="0.28"/><path d="M173.5 184.2L199.5 199.5L239.5 199.5" stroke="#2fd22c" stroke-width="3.87" opacity="0.27"/><path d="M176.5 211.8L199.5 222.6L239.5 230.2" stroke="#2fd22c" stroke-width="4.14" opacity="0.27"/><path d="M127.4 237.9L144.3 227.2" stroke="#2fd22c" stroke-width="4.14" opacity="0.36"/></g>
<g filter="url(#b1)" fill="none" stroke-linecap="round" stroke-linejoin="round"><path d="M79.7 17.3L106.4 30.2L128.9 41.3L152 50.2L175.1 55.9L177.9 39.3L155 37.3L132 32.4L108.5 25L80 16.5Z" fill="#2fd22c" stroke="none" opacity="0.75"/><path d="M99.6 26.5L129.9 39.4L152.9 46.7L171.4 49.9L172.4 42.2L154.1 40.8L131.1 35.8L99.9 25.7Z" fill="#7be02a" stroke="none" opacity="0.9"/><path d="M93.8 20.4L173.8 39.3M92.5 20.5L176.3 42.6M93.2 21L177.5 45.7M98.3 23.1L180 50M95.7 22.7L181.4 54.4M94.9 22.5L183.1 56.2" stroke="#2fd22c" stroke-width="1.07" opacity="0.6"/><path d="M153 49.5L175.2 77.7L192.9 105.9L204.9 120.2L209.5 116.2L197 102.9L177.8 75.8L154 48.7Z" fill="#2fd22c" stroke="none" opacity="0.8"/><ellipse cx="205.69" cy="117.43" rx="9.21" ry="5.37" fill="#7be02a" stroke="none" opacity="0.9" transform="rotate(20 205.69 117.43)"/><path d="M207.2 118.2L211.1 132" stroke="#2fd22c" stroke-width="1.84" opacity="0.7"/><path d="M135.3 5.7L144.7 8.8L154 10.1L163.3 7.4L173.5 4.9L183.9 3.5L194.1 1.9M126.1 1.1L135.2 6L144.5 9.5L154 11.1L163.5 7.9L173.6 5.6L184 4.3L194.2 3.1L204.5 1.5M134.8 6.7L144.3 10.1L154.1 11.8L163.7 8.7L173.8 6.2L184.1 5.2L194.3 3.2L204.5 2L214.9 1.5M126 1.4L134.6 7L144.2 10.5L154.2 12.7L163.8 9.1L173.9 7.2L184.1 5.3L194.5 4.6L204.7 3.2L214.9 1.7M134.3 7.7L143.9 11.6L154.2 13.6L164.1 9.9L174.1 7.9L184.2 6.3L194.5 5.1L204.7 3.5L215 2.3M125.4 2.3L134.1 8.2L143.8 11.8L154.2 14.1L164.5 11.3L174.2 8.4L184.3 6.9L194.6 5.5L204.8 4.2M134 8.4L143.5 12.8L154.3 14.9L164.6 11.8L174.4 9.6L184.4 7.7L194.7 6.4L204.9 4.7L215.1 3" stroke="#2fd22c" stroke-width="1.1" opacity="0.8"/><path d="M137.5 13.5L138 18.2L139.1 22.7L139.1 27.5M135.4 9.2L136.6 13.7L137.6 18.3L138.2 22.9L138.5 27.6M135.1 9.2L136 13.8L136.5 18.4L137.5 23L138.3 27.6M134.8 9.3L135.1 13.9L135.7 18.6L136.5 23.2L137.6 27.7M134.3 9.3L134.4 14.1L134.9 18.7L135.8 23.3L137.6 27.7" stroke="#2fd22c" stroke-width="1.15" opacity="0.5"/><path d="M201 8.2L208.9 14.2L214.2 22.6L219.4 30.3L225.3 37.3L232.1 43.1M200.5 8.9L208.8 14.4L213.8 22.9L218.4 31L224.6 38L231.6 43.8M200 9.6L208.1 15L213 23.3L218.2 31.2L224.3 38.3L231.1 44.6L239.6 48.9M192 4.5L199.6 10.2L207.6 15.4L212.5 23.7L217.6 31.6L223.5 39.1L231 44.7L239.5 49.1M191.6 4.9L199.2 10.8L206.9 16.1L211.7 24.1L217 32.1L223.3 39.3L230.7 45.2L239.4 49.3M198.7 11.4L206.4 16.5L210.7 24.8L216.3 32.6L222.6 40.1L230.2 46L239 50M198.4 11.8L205.9 17L210.2 25.1L215.4 33.3L221.9 40.8L230 46.3" stroke="#2fd22c" stroke-width="1.1" opacity="0.8"/><path d="M205.7 -0.7L214.1 -1.3L222.6 -1.7L231 -1.3L239.5 -0.7M205.7 -0.7L214.1 -0.9L222.6 -0.7L231 -1L239.5 -0.4M205.7 0.2L214.1 -0.2L222.6 -0.2L231 0.2L239.5 -0.1M205.7 0.4L214.1 0.5L222.6 0.7L231 0.6L239.5 0.5M205.7 0.7L214.1 1.8L222.6 1.9L231 1.7" stroke="#2fd22c" stroke-width="1.15" opacity="0.8"/><path d="M185.4 51L193.9 56.3L202.5 60.9L211.9 64.3L221.4 67.6L230.8 71.5M176.6 46L185.1 51.4L193.6 56.7L202.2 61.7L211.7 64.9L221.1 68.4L230.5 72.2L239.6 76.5M176.4 46.2L184.7 52L193 57.7L201.7 62.8L211.4 65.6L221 68.7L230.1 73.1L239.3 77.1M184.3 52.5L192.7 58.2L201.5 63.2L211.1 66.5L220.7 69.6L229.9 73.5" stroke="#2fd22c" stroke-width="1.2" opacity="0.55"/><path d="M173.5 38.4L191.9 50.7L214.9 61.4" stroke="#2fd22c" stroke-width="1.53" opacity="0.5"/><path d="M214.9 110.5L239.5 107.4" stroke="#2fd22c" stroke-width="2.15" opacity="0.6"/><path d="M207.2 118.2L230.2 122.8" stroke="#2fd22c" stroke-width="1.53" opacity="0.5"/><path d="M17.4 64.3L30.6 77.5L44 86.1L60.3 91.2L61 89.9L48.1 79.7L36.9 69.8L22.5 58.5Z" fill="#2fd22c" stroke="none" opacity="0.8"/><path d="M35.6 76.3L39.9 77.7L43.8 80L47.6 82.4M35.5 76.4L39.5 78.5L43.5 80.4L47.1 83.2L50.8 85.8M35.3 76.8L39.3 78.8L43 81.3L46.9 83.5L50.6 86M35 77.2L38.8 79.6L42.5 82.1L46.6 84.1L50.4 86.3M38.4 80.3L42.2 82.6L46 85" stroke="#7be02a" stroke-width="1.15" opacity="0.9"/><path d="M23.5 61.5L22.2 69.2L20.6 76.8L20.9 84.3L21.9 92M23 61.4L21.3 69L19.8 76.7L20 84.4L21.4 92.1M20.5 68.9L19.1 76.7L19.3 84.5" stroke="#2fd22c" stroke-width="1.28" opacity="0.6"/><path d="M59.1 89.8L53.7 104.4L52.2 122.8L58.3 138.1" stroke="#2fd22c" stroke-width="2.15" opacity="0.6"/><ellipse cx="59.1" cy="141.22" rx="4.6" ry="4.6" fill="#2fd22c" stroke="none" opacity="0.7"/><path d="M60.9 139.5L44.2 151.5L33.8 168.1L26.4 190.2L27.3 190.5L36.8 169.6L47.9 155.5L65 146Z" fill="#2fd22c" stroke="none" opacity="0.8"/><path d="M9.2 23.7L17.9 29.4L26.5 35.1L35.7 39.8L45 44.7M0.2 18.1L8.8 24.2L17.4 30L26 35.9L35.3 40.7L44.7 45.2L54 50M-0.1 18.6L8.5 24.6L17 30.7L25.6 36.7L35 41.2L44.5 45.7L53.8 50.5M-0.2 18.7L8.1 25.1L16.6 31.3L25.1 37.4L34.7 41.9L44 46.7L53.5 51.1M7.8 25.6L16 32.1L24.9 37.8L34.2 42.8L43.8 47.1" stroke="#2fd22c" stroke-width="1.15" opacity="0.3"/><path d="M24.6 12.3L43 26.1" stroke="#2fd22c" stroke-width="1.23" opacity="0.4"/><path d="M53.3 37L60.5 55.7L72.3 80.6L84.2 101L94.6 115.2L98.8 112L87.8 98.5L75.1 79L62.3 54.9L54.1 36.7Z" fill="#2fd22c" stroke="none" opacity="0.8"/><path d="M95.9 95.2L99.8 107.4" stroke="#2fd22c" stroke-width="2.15" opacity="0.7"/><path d="M93.8 120.7L95 130.9L96.1 141.1L97.6 151.2L98.7 161.5L95.7 171.5L92.5 181.3M92 110.5L93.2 120.7L94.3 130.9L95.5 141.1L97 151.3L98.3 161.5L95.1 171.3L92.2 181.2M91.7 110.6L92.7 120.8L93.6 131L94.8 141.2L96.3 151.4L97.6 161.4L94.7 171.2" stroke="#2fd22c" stroke-width="1.02" opacity="0.6"/><path d="M128.9 132.8L140.9 130.7L156.4 131.1L156.7 129.9L141.6 124.1L128.9 122Z" fill="#2fd22c" stroke="none" opacity="0.8"/><path d="M153.5 130.5L135.1 141.2L125.9 153.5L127.4 168.8" stroke="#2fd22c" stroke-width="1.84" opacity="0.65"/><ellipse cx="127.4" cy="169.61" rx="3.38" ry="3.38" fill="#2fd22c" stroke="none" opacity="0.9"/><path d="M91.4 187.2L108.3 182.8L131 173.4L130 170.5L106.6 176.4L89.7 178.1Z" fill="#2fd22c" stroke="none" opacity="0.75"/><path d="M99.8 168.8L122.8 153.5" stroke="#2fd22c" stroke-width="1.53" opacity="0.5"/><path d="M98.2 113.6L116.7 119.7L132 124.3" stroke="#2fd22c" stroke-width="1.23" opacity="0.35"/><path d="M179.8 186L233 191.6M180.3 192.1L228.5 198.6M173.4 196.8L222.5 200.2M184.8 207.5L221.4 209.2M185.3 212.9L223.2 215.5M175.3 214.1L227.1 216.3M180.3 220.7L228.2 228.5M181.6 227.9L224.4 230" stroke="#2fd22c" stroke-width="1.23" opacity="0.4"/><ellipse cx="228.71" cy="170.38" rx="7.67" ry="12.28" fill="#2fd22c" stroke="none" opacity="0.85"/><path d="M173.9 183.5L182.6 188.4L191.5 193.1L199.8 197.8L209.4 197.9L219.4 198L229.4 198.1M173.6 183.9L182.4 188.8L191.2 193.6L199.6 198.5L209.4 198.6L219.4 199L229.4 198.7L239.5 199.3M173.3 184.4L182.2 189.2L190.7 194.5L199.4 199.5L209.4 199.5L219.4 199.5L229.4 199.4L239.5 199.3M181.9 189.7L190.3 195.1L199.2 200L209.4 200.4L219.4 200.3L229.4 200.3M181.4 190.4L190 195.6L199 200.7L209.4 201L219.4 200.8" stroke="#2fd22c" stroke-width="1.07" opacity="0.6"/><path d="M185.6 214.7L194.2 218.5L202.9 221.5L212 223.2L221.2 225.3L230.4 227.2M185.3 215.4L193.9 219.1L202.7 222.2L211.8 224L221.1 225.8L230.3 227.7L239.5 230.1M176.5 211.8L185.1 215.8L193.7 219.6L202.4 223.1L211.6 224.9L220.9 226.6L230.2 228.5L239.4 230.5M184.7 216.6L193.3 220.7L202.1 224.1L211.5 225.9L220.8 227.3L230.1 228.9L239.4 230.7M184.6 216.8L192.9 221.5L201.9 224.9L211.4 226.4L220.6 228.4L230 229.7L239.3 231.2" stroke="#2fd22c" stroke-width="1.15" opacity="0.6"/><path d="M126.9 237.1L130.9 234L134.8 230.9L139.3 228.7M127.1 237.4L131.2 234.5L135.3 231.7L139.6 229.1L144.1 226.8M127.4 237.9L131.7 235.4L135.8 232.5L140 229.7L144.3 227.3M127.6 238.2L131.9 235.6L136.2 233.2L140.6 230.7L144.5 227.5M132.5 236.6L136.6 233.7L140.8 231L144.6 227.7" stroke="#2fd22c" stroke-width="1.15" opacity="0.8"/><path d="M0 222.6L12.3 239.5" stroke="#2fd22c" stroke-width="2.15" opacity="0.5"/><ellipse cx="114.36" cy="133.54" rx="9.21" ry="12.28" fill="#3236b4" stroke="none" opacity="0.31" transform="rotate(-15 114.36 133.54)"/><ellipse cx="198.01" cy="76.75" rx="13.81" ry="9.98" fill="#3236b4" stroke="none" opacity="0.34" transform="rotate(15 198.01 76.75)"/><ellipse cx="32.23" cy="112.05" rx="7.67" ry="10.74" fill="#3236b4" stroke="none" opacity="0.15"/></g>
</g>
<g transform="translate(1305.3 1457.5) scale(0.9954 0.9941)" clip-path="url(#cc)">
<rect width="237" height="237" fill="#000"/>
<g filter="url(#b3)" fill="none" stroke-linecap="round" stroke-linejoin="round"><path d="M79.8 64.5L58.3 76.7L46 99.8L46 130.5L64.5 156.6L99.8 173.5" stroke="#2fd22c" stroke-width="26.09" opacity="0.22"/><path d="M79.8 64.5L58.3 76.7L46 99.8L46 130.5L64.5 156.6L99.8 173.5" stroke="#2fd22c" stroke-width="20.72" opacity="0.18"/><path d="M69.1 64.5L92.1 59.1L115.1 60.6L138.1 57.6L161.2 56.8L173.5 61.4" stroke="#2fd22c" stroke-width="4.7" opacity="0.34"/><path d="M90.6 59.1L115.1 60.6L139.7 57.6" stroke="#7be02a" stroke-width="3.04" opacity="0.43"/><path d="M173.5 61.4L181.1 79.8L187.3 99.8L196.5 115.1L210.3 132" stroke="#2fd22c" stroke-width="2.49" opacity="0.25"/><path d="M182.7 86L191.9 107.4" stroke="#2fd22c" stroke-width="3.32" opacity="0.27"/><path d="M61.4 153.5L84.4 165.8L107.4 173.5" stroke="#2fd22c" stroke-width="8.29" opacity="0.23"/><path d="M107.4 173.5L130.5 171.9L147.4 176.5L161.2 181.1" stroke="#2fd22c" stroke-width="4.7" opacity="0.36"/><path d="M110.5 173.5L130.5 171.6L147.4 175.8" stroke="#7be02a" stroke-width="2.76" opacity="0.43"/><path d="M153.5 130.5L184.2 128.9L199.5 145.8L184.2 161.2L153.5 153.5Z" fill="#2fd22c" stroke="none" opacity="0.15"/><path d="M161.2 165.8L184.2 168.8L210.3 170.4" stroke="#2fd22c" stroke-width="2.76" opacity="0.11"/></g>
<g filter="url(#b1)" fill="none" stroke-linecap="round" stroke-linejoin="round"><path d="M64.5 81.4L61.7 90.7L57.3 99.5L56.8 108.5L56 119.2L56.9 127.5L62.1 134.3L67.4 143.9L73.1 151L82.5 155.1L92.2 162L102.1 168.5M58.7 89L55.5 98.9L54.1 108.3L55.3 119.2L53.7 128.6L60.5 135.4L66.3 144.9L73 151.2L81.7 156.8L91.2 164.2L101 170.9M62.2 79L57.5 88.3L52.9 98.1L53.2 108.2L53.6 119.2L52.7 128.9L57.5 137.6L64.5 146.4L70.9 154.1L81.2 157.9L91.1 164.3L100.9 171.1M71.6 73.8L61.3 78.1L57.6 88.4L51.2 97.5L50.4 108L51.5 119.3L50.5 129.6L56.8 138L62.3 148.2L71.1 153.9L80.6 159.1L90 166.6M71 72.6L60.9 77.7L56.4 87.7L50.8 97.3L50 107.9L48.2 119.3L50.1 129.7L54.3 139.8L61.1 149.2L69 156.9L79.2 162L90.2 166.3L100.2 172.7M80.6 65.9L69.8 70.6L60.3 77L53.8 86.2L48.9 96.7L45.7 107.6L47.8 119.3L46.6 130.9L53.5 140.4L60.5 149.7L69.1 156.6L79.3 161.8L88.9 169L100.3 172.4M79.5 64L69.3 69.7L59.9 76.6L53.9 86.3L47.1 96.1L46 107.6L44.8 119.4L44.8 131.5L53.4 140.5L59.3 150.7L67.7 158.7L77.9 164.7L88.4 170.1L99.7 173.7M79.8 64.4L68.9 69L58.1 74.7L52 85.2L44.9 95.3L43.3 107.4L44 119.4L44 131.8L50.5 142.4L58.3 151.5L67.3 159.3L77.7 165.3L88.7 169.4M68.5 68.3L56.1 72.6L50.3 84.2L44.3 95.1L41.5 107.3L40.9 119.4L41.6 132.6L48.8 143.7L57.1 152.5L65.8 161.4L77.1 166.4L87.8 171.4L98.7 175.7M56 72.6L47.9 82.9L43.3 94.8L39.1 107.1L39.1 119.5L40.6 133L48.1 144.1L55.8 153.7L64.3 163.5L76.3 168L87.5 171.9L98.9 175.2M66.5 64.8L54.5 71L46 81.7L41.7 94.2L37.7 107L38.7 119.5L38.9 133.5L47.3 144.8L54.3 154.9L63.1 165.2M46.6 82.1L39.4 93.4L35.4 106.8L37.2 119.5L37.7 133.9L46 145.6L52 156.9L63.2 165" stroke="#2fd22c" stroke-width="2.4" opacity="0.4"/><path d="M24.6 88.1L69.8 91.8M28.4 99.8L74.4 101.1M28.1 102.3L70.6 101M30.8 113.2L70.4 116.7M33.8 119.1L71.9 117.1M37.5 129.9L76.4 124.8M39.3 139.2L77.2 132.2M39.9 146L72.6 133.4M41.5 154.6L79.7 145.4" stroke="#2fd22c" stroke-width="1.07" opacity="0.45"/><path d="M79 60.5L89.6 58.1L100.3 57.5L110.9 58.4L121.2 57.5L131.7 56.2L142.4 55.8L153.1 55.1L163.9 56L173.7 60.7M68.9 63.6L79.2 61.2L89.6 58.3L100.3 58.3L110.9 59L121.3 58.8L131.8 57L142.4 56.4L153.1 55.9L163.6 57.1L173.6 61.1M69 64.3L79.4 62L89.7 59.4L100.3 59.1L110.9 60.1L121.4 59.6L131.8 57.7L142.4 56.9L153.1 56.9L163.5 57.5L173.5 61.2M69.1 64.5L79.5 62.6L89.8 59.8L100.3 59.9L110.8 60.9L121.4 60.3L132 58.8L142.5 57.9L153.1 57.6L163.4 58.2L173.5 61.4M69.3 65.3L79.6 62.8L89.9 60.6L100.2 60.9L110.8 61.5L121.5 60.7L132 59.4L142.5 58.4L153.1 58.1L163.4 58.3M89.9 61.3L100.2 61.6L110.8 62.4L121.6 62L132.1 60.4L142.6 59.3" stroke="#2fd22c" stroke-width="1.09" opacity="0.75"/><path d="M100.5 58.9L110.3 59.4L120 59L129.8 57.7L139.6 57.1M90.6 58.8L100.4 59.4L110.3 59.9L120.1 59.5L129.9 58.6L139.6 57.3M90.6 59.3L100.4 60.1L110.3 60.8L120.1 60.3L129.9 59L139.7 57.8M90.5 59.5L100.4 60.6L110.3 61.5L120.2 61.1L130 59.8L139.8 58.2" stroke="#7be02a" stroke-width="1.06" opacity="0.95"/><path d="M177.7 70.5L181.8 79.8L184.8 89.4L187.8 99L192.7 107.6L198 116.1L204.3 123.9M173.4 61.4L177.3 70.7L181.1 80L184.2 89.6L187.2 99.2L192.2 107.9L197.6 116.4L204 124.1L210.3 132M176.9 70.9L180.5 80.2L183.3 89.9L186.5 99.5L191.7 108.2L197.1 116.8L203.4 124.6" stroke="#2fd22c" stroke-width="1.15" opacity="0.55"/><path d="M186 90.9L188.3 96.2L190.7 101.6L192.6 107.1M182.9 85.9L185.4 91.2L187.7 96.5L190.1 101.9L191.9 107.4M182.4 86L184.5 91.5L186.8 96.9L189.4 102.2L191.7 107.5M182.2 86.1L183.8 91.8L186.3 97.1L188.6 102.5" stroke="#2fd22c" stroke-width="1.15" opacity="0.6"/><path d="M71.8 155.3L80.7 159.9L89.8 163.3L99.1 166.6M62 152.3L71.4 156.1L80.4 160.5L89.3 164.6L98.9 167.4L108.1 171.5M71.3 156.4L80.1 161.1L89.1 165.2L98.4 168.6L107.6 172.9M61.8 152.7L71.1 156.8L79.9 161.4L88.8 165.8L98.2 169.3L107.7 172.6M61.4 153.5L70.5 157.9L79.5 162.2L88.6 166.4L98.1 169.7L107.4 173.6M61.1 154.1L69.9 159L78.8 163.7L88.3 167.2L97.6 171.1L107.3 174M61.2 154L69.7 159.3L78.8 163.7L87.7 168.8L97.5 171.5L107.2 174.1M60.8 154.7L69.3 160.1L78.5 164.4L87.4 169.4L97.3 171.9L107 174.9M60.8 154.6L69.1 160.4L78.1 165.3L87.4 169.5L97.1 172.7L106.9 175M68.9 160.8L77.6 166.1L86.8 171.1L96.9 173.1L106.8 175.5" stroke="#2fd22c" stroke-width="1.15" opacity="0.5"/><path d="M116.5 171.5L125.8 170.2L135.1 171.3L144.2 173.7L153 176.6M107.4 172.6L116.6 172.1L125.8 171.2L135.1 171.7L143.9 174.6L152.8 177.1L161.3 180.7M107.4 173.2L116.6 172.8L125.8 172L134.9 172.7L143.8 174.9L152.6 177.8L161.3 180.7M107.5 173.8L116.6 173.3L125.8 172.6L134.8 173.4L143.5 176.1L152.3 178.6L161.1 181.4M116.7 173.9L125.8 173.2L134.6 174.2L143.4 176.5L152.2 179M116.7 174.6L125.8 174.1L134.4 175.1L143.2 177.1L152 179.8" stroke="#2fd22c" stroke-width="1.09" opacity="0.8"/><path d="M110.5 173L119.8 172L129.2 171L138.5 172.6L147.4 175.5M110.5 173.6L119.8 172.5L129.2 171.6L138.3 173.6L147.3 175.9M110.6 174L119.9 173.5L129.1 172.5L138.1 174.4L147.3 176.1" stroke="#7be02a" stroke-width="1.28" opacity="0.95"/><path d="M23 90.6L50.7 93.6L76.7 92.1" stroke="#2fd22c" stroke-width="1.53" opacity="0.55"/><path d="M13.8 115.1L38.4 110.5" stroke="#2fd22c" stroke-width="1.23" opacity="0.4"/><path d="M21.5 121.3L43 138.1L58.3 159.6" stroke="#2fd22c" stroke-width="1.84" opacity="0.55"/><path d="M23 161.2L46 145.8" stroke="#2fd22c" stroke-width="1.23" opacity="0.35"/><path d="M58.3 125.9L76.7 122.8" stroke="#2fd22c" stroke-width="2.15" opacity="0.6"/><path d="M64.5 43L73.7 58.3" stroke="#e0501e" stroke-width="1.07" opacity="0.45"/><path d="M144.3 46L135.1 55.3" stroke="#2fd22c" stroke-width="1.07" opacity="0.4"/><path d="M161.2 30.7L153.5 46" stroke="#2fd22c" stroke-width="0.77" opacity="0.25"/><path d="M153.5 133.5L168.8 125.9L184.2 132L191.9 138.1" stroke="#2fd22c" stroke-width="1.84" opacity="0.3"/><path d="M171.1 166.4L180.8 167.5L190.6 168.4L200.5 168.9L210.3 170M161.2 165.6L171 167L180.8 168.3L190.6 169.2L200.4 169.8L210.3 170.4M170.8 167.9L180.7 169.2L190.5 169.9L200.4 170.6" stroke="#2fd22c" stroke-width="1.28" opacity="0.25"/><path d="M101.3 50.7L102.8 58.3" stroke="#2fd22c" stroke-width="1.53" opacity="0.5"/><ellipse cx="165.78" cy="62.93" rx="3.84" ry="3.84" fill="#2fd22c" stroke="none" opacity="0.7"/><ellipse cx="124.33" cy="107.45" rx="16.88" ry="15.35" fill="#3236b4" stroke="none" opacity="0.44" transform="rotate(30 124.33 107.45)"/><ellipse cx="66" cy="176.52" rx="1.38" ry="2.76" fill="#e0501e" stroke="none" opacity="0.5"/><ellipse cx="99.77" cy="181.13" rx="1.38" ry="2.76" fill="#e0501e" stroke="none" opacity="0.5"/><ellipse cx="179.59" cy="182.66" rx="1.38" ry="2.76" fill="#e0501e" stroke="none" opacity="0.5"/><ellipse cx="168.85" cy="18.42" rx="1.38" ry="2.76" fill="#e0501e" stroke="none" opacity="0.5"/><ellipse cx="185.73" cy="59.86" rx="1.38" ry="2.76" fill="#e0501e" stroke="none" opacity="0.5"/><ellipse cx="201.08" cy="75.21" rx="1.38" ry="2.76" fill="#e0501e" stroke="none" opacity="0.5"/><ellipse cx="38.37" cy="62.93" rx="1.38" ry="2.76" fill="#e0501e" stroke="none" opacity="0.5"/><ellipse cx="44.51" cy="167.31" rx="1.38" ry="2.76" fill="#e0501e" stroke="none" opacity="0.5"/><ellipse cx="32.23" cy="93.63" rx="2.46" ry="1.23" fill="#d89020" stroke="none" opacity="0.7"/><ellipse cx="38.37" cy="111.29" rx="2.46" ry="1.23" fill="#d89020" stroke="none" opacity="0.7"/><ellipse cx="26.09" cy="122.03" rx="2.46" ry="1.23" fill="#d89020" stroke="none" opacity="0.7"/></g>
</g>
<g transform="translate(821.2 1697.4) scale(0.9987 0.9962)" clip-path="url(#cc)">
<rect width="237" height="237" fill="#000"/>
<g filter="url(#b3)" fill="none" stroke-linecap="round" stroke-linejoin="round"><path d="M47.6 182.7L95.2 153.5L122.8 141.2L130.5 139.7L119.7 156.6L107.4 173.5L99.8 191.9L98.2 214.9L86 222.6L82.9 199.5L69.1 191.9Z" fill="#2fd22c" stroke="none" opacity="0.3"/><path d="M48 183.6L78 171.1L103.3 156.8L99.3 150.2L75.5 166.6L47.1 181.7Z" fill="#2fd22c" stroke="#2fd22c" stroke-width="2" opacity="0.32"/><path d="M131.4 139.2L113.5 158.5L101.8 175.1L92.4 193.3L99.4 196.5L106.9 177.9L116.7 160.8L132.6 140.2Z" fill="#7be02a" stroke="#7be02a" stroke-width="2" opacity="0.36"/><path d="M96.7 193.4L95.9 214.9" stroke="#2fd22c" stroke-width="2.76" opacity="0.32"/><path d="M98.2 153.5L122.8 132L138.1 116.7L153.5 104.4L168.8 95.2" stroke="#2fd22c" stroke-width="2.49" opacity="0.41"/><path d="M107.4 145.8L130.5 122.8L145.8 105.9" stroke="#2fd22c" stroke-width="4.14" opacity="0.14"/><path d="M161.2 98.2L176.5 90.6L191.9 81.4L207.2 75.2" stroke="#2fd22c" stroke-width="3.59" opacity="0.27"/><path d="M159.6 99.8L173.5 92.1" stroke="#7be02a" stroke-width="3.59" opacity="0.41"/></g>
<g filter="url(#b1)" fill="none" stroke-linecap="round" stroke-linejoin="round"><path d="M56.7 177.1L116.5 140.1M57.5 182L118.7 139.5M60.4 184.5L120 140.2M69.6 186L122.2 140.1M70.8 194.5L123.3 141.3M72.3 198.5L124.6 140.3M80.1 194.6L121.2 148M81.7 197.7L121.8 148.8M82.5 206.1L120.8 150.1M86.8 212.9L126.6 147.8M94.9 210.2L130 145.2M99 213.9L128.1 149.2" stroke="#2fd22c" stroke-width="1.23" opacity="0.55"/><path d="M122.4 135.9L158.2 96.7M126.4 134.5L160.3 96.4M127.3 137.6L167.4 94M131 137.8L171.4 94.2M135.7 139L175.9 98.8" stroke="#2fd22c" stroke-width="1.23" opacity="0.55"/><path d="M48 183.6L78 171.1L103.3 156.8L99.3 150.2L75.5 166.6L47.1 181.7Z" fill="#2fd22c" stroke="none" opacity="0.8"/><path d="M131.4 139.2L113.5 158.5L101.8 175.1L92.4 193.3L99.4 196.5L106.9 177.9L116.7 160.8L132.6 140.2Z" fill="#7be02a" stroke="none" opacity="0.9"/><path d="M97 193.4L97.3 198.8L97.3 204.2L96.9 209.5M96.7 193.4L96.3 198.8L96.4 204.2L96 209.5L95.9 214.9M96.4 193.4L95.6 198.7L95.6 204.1L95.5 209.5L95.6 214.9" stroke="#2fd22c" stroke-width="1.28" opacity="0.7"/><path d="M86 199.5L84.4 225.6" stroke="#2fd22c" stroke-width="2.15" opacity="0.45"/><path d="M50.7 202.6L76.7 184.2" stroke="#2fd22c" stroke-width="1.23" opacity="0.5"/><path d="M38.4 194.9L61.4 181.1" stroke="#2fd22c" stroke-width="1.23" opacity="0.3"/><path d="M73.7 198L72.1 211.8" stroke="#2fd22c" stroke-width="1.53" opacity="0.3"/><path d="M67.5 192.6L78.3 194.2" stroke="#7be02a" stroke-width="1.53" opacity="0.8"/><path d="M105.4 146.2L113.1 139.4L120.8 132.8L128 125.6L135.3 118.4L143.1 111.8L151.1 105.3L159.8 99.9M98.3 153.6L105.9 146.8L113.6 140L121.4 133.4L128.5 126.1L135.8 118.9L143.5 112.3L151.5 105.9L160.1 100.5L168.9 95.2M98.5 153.8L106.3 147.2L114 140.5L121.8 133.9L129.1 126.7L136.4 119.6L144 112.8L151.9 106.4L160.5 101" stroke="#2fd22c" stroke-width="1.15" opacity="0.9"/><path d="M95.2 153.5L116.7 127.4L132 104.4L141.2 86L145.8 73.7" stroke="#2fd22c" stroke-width="1.38" opacity="0.6"/><path d="M106.9 145.3L113.1 138.4L119.4 131.7L126 125.2L132.1 118.4L138.6 111.8L145.2 105.3M107.2 145.6L113.3 138.6L119.9 132.2L126.5 125.7L132.6 118.9L139.2 112.4L145.6 105.7M107.4 145.7L114.1 139.4L120.5 132.8L126.9 126.2L133.2 119.4L139.6 112.7L146 106.1M114.6 140L120.9 133.1L127.7 126.9L133.9 120L140.1 113.2L146 106.1M115 140.4L121.8 134L128 127.2L134.5 120.6L140.7 113.8" stroke="#2fd22c" stroke-width="1.15" opacity="0.3"/><path d="M160.8 97.5L170 92.8L178.8 87.5L187.7 82.3L197.1 77.8L206.9 74.4M161 98L170.2 93.2L179.2 88.2L188.1 82.9L197.4 78.5L207.1 74.9M161.4 98.6L170.5 93.9L179.8 89.3L188.5 83.7L197.8 79.4L207.3 75.4M170.9 94.6L180.2 90L188.9 84.5L198.1 80.1L207.5 75.9" stroke="#2fd22c" stroke-width="1.25" opacity="0.6"/><path d="M162.5 96.8L165.8 94.6L169.5 93L173.2 91.7M159.6 99.6L162.8 97.3L166.3 95.5L169.7 93.5L173.3 91.8M159.8 100L163.2 98L166.7 96.2L170.3 94.6L173.5 92.1M159.9 100.3L163.6 98.8L167.1 96.9L170.6 95.1" stroke="#7be02a" stroke-width="1.25" opacity="0.9"/><path d="M145.8 73.7L152 53.7L150.4 23" stroke="#2fd22c" stroke-width="0.92" opacity="0.3"/><path d="M168.8 64.5L181.1 38.4L176.5 16.9" stroke="#2fd22c" stroke-width="0.92" opacity="0.25"/><path d="M173.5 82.9L188.8 55.3" stroke="#2fd22c" stroke-width="1.23" opacity="0.3"/><ellipse cx="156.57" cy="76.75" rx="11.51" ry="19.95" fill="#3236b4" stroke="none" opacity="0.48" transform="rotate(25 156.57 76.75)"/><ellipse cx="93.63" cy="73.68" rx="2.46" ry="2.46" fill="#3236b4" stroke="none" opacity="0.48"/><path d="M239.5 161.2L227.2 184.2L207.2 211.8L188.8 233.3" stroke="#2fd22c" stroke-width="1.23" opacity="0.5"/><path d="M239.5 176.5L214.9 207.2" stroke="#2fd22c" stroke-width="0.92" opacity="0.4"/><path d="M237 222.6L230.2 237" stroke="#2fd22c" stroke-width="2.15" opacity="0.4"/><ellipse cx="221.04" cy="190.34" rx="1.84" ry="6.14" fill="#e0501e" stroke="none" opacity="0.9" transform="rotate(20 221.04 190.34)"/><ellipse cx="2.3" cy="112.05" rx="2.15" ry="1.23" fill="#e0501e" stroke="none" opacity="0.5"/><ellipse cx="1.84" cy="138.15" rx="1.84" ry="1.23" fill="#e0501e" stroke="none" opacity="0.4"/></g>
</g>
<g transform="translate(1064.1 1697.4) scale(0.9975 0.9962)" clip-path="url(#cc)">
<rect width="237" height="237" fill="#000"/>
<g filter="url(#b3)" fill="none" stroke-linecap="round" stroke-linejoin="round"><path d="M0 84.4L61.4 99.8L107.4 145.8L92.1 191.9L0 176.5Z" fill="#2fd22c" stroke="none" opacity="0.15"/><path d="M0 0L56.8 0L46 38.4L15.3 33.8L0 15.3Z" fill="#2fd22c" stroke="none" opacity="0.4"/><path d="M55.5 -1.3L45.4 18.1L33.6 37.4L43.1 42.5L52.9 21.8L61.1 1.3Z" fill="#7be02a" stroke="#7be02a" stroke-width="2" opacity="0.38"/><path d="M66 41.4L79.8 35.3L107.4 30.7L127.4 33.8L119.7 50.7L107.4 56.8L90.6 61.4L76.7 44.5Z" fill="#2fd22c" stroke="none" opacity="0.3"/><path d="M191.9 7.7L199.5 3.1L230.2 4.6L222.6 23L211.8 43L201.1 52.2L191.9 46L193.4 23Z" fill="#2fd22c" stroke="none" opacity="0.25"/><path d="M193.4 40.7L198 40.7" stroke="#2fd22c" stroke-width="2.21" opacity="0.36"/><path d="M9.2 128.9L23 133.5L30.7 138.1" stroke="#2fd22c" stroke-width="2.49" opacity="0.27"/><path d="M7.7 161.2L46 162.7L61.4 162.7" stroke="#2fd22c" stroke-width="2.21" opacity="0.14"/><path d="M84.4 145.8L79.8 161.2L72.1 176.5L67.5 184.2" stroke="#2fd22c" stroke-width="2.76" opacity="0.18"/><path d="M95.2 199.5L122.8 168.8L153.5 144.3L184.2 110.5L199.5 107.4L214.9 135.1L176.5 153.5L138.1 179.6L107.4 207.2Z" fill="#2fd22c" stroke="none" opacity="0.28"/><path d="M138.1 234.9L153.5 214.9L168.8 196.5L184.2 181.1L193.4 168.8" stroke="#2fd22c" stroke-width="2.21" opacity="0.34"/></g>
<g filter="url(#b1)" fill="none" stroke-linecap="round" stroke-linejoin="round"><path d="M14.3 101.6L63.9 120.8M9.8 108.4L66.3 126.9M9.7 115.6L66.1 133.5M16.5 130L67.5 141.6M8.7 141.2L66.5 150.2M5.9 147.5L68.7 152.8M16.9 155.5L56.2 161.6M15 161L55.8 165.6" stroke="#2fd22c" stroke-width="1.07" opacity="0.25"/><path d="M55.5 -1.3L45.4 18.1L33.6 37.4L43.1 42.5L52.9 21.8L61.1 1.3Z" fill="#7be02a" stroke="none" opacity="0.95"/><path d="M31.5 39.9L32.5 50.7" stroke="#d89020" stroke-width="1.53" opacity="0.7"/><path d="M53 36.8L54.5 46" stroke="#7be02a" stroke-width="1.23" opacity="0.7"/><path d="M3.1 18.4L15.3 35.3L23 50.7" stroke="#2fd22c" stroke-width="1.53" opacity="0.4"/><path d="M73.1 38.2L114 32.6M75.9 44L118.6 37.9M87.2 47.2L121.5 41.5M91.1 51.1L118.1 43.9M89.2 53.2L113.7 47.2M96.5 54.9L115.4 48.5" stroke="#2fd22c" stroke-width="1.07" opacity="0.35"/><path d="M66 41.4L76.7 44.5L90.6 61.4L107.4 56.8L121.3 49.1" stroke="#2fd22c" stroke-width="1.84" opacity="0.6"/><path d="M67.5 40.7L79.8 35.3L107.4 30.7L127.4 33.8" stroke="#2fd22c" stroke-width="1.53" opacity="0.5"/><path d="M75.2 15.3L92.1 15.3L107.4 20L135.1 30.7" stroke="#2fd22c" stroke-width="1.84" opacity="0.6"/><path d="M73.7 15.3L86 7.7L95.2 1.5" stroke="#2fd22c" stroke-width="1.53" opacity="0.5"/><path d="M138.1 23L130.5 46L133.5 55.3" stroke="#2fd22c" stroke-width="1.23" opacity="0.4"/><path d="M153.5 3.1L145.8 18.4L138.1 23" stroke="#2fd22c" stroke-width="1.23" opacity="0.4"/><ellipse cx="148.12" cy="37.61" rx="1.84" ry="3.38" fill="#2fd22c" stroke="none" opacity="0.8"/><path d="M191.9 7.7L193.4 23L191.9 46L201.1 52.2L211.8 43L222.6 23" stroke="#2fd22c" stroke-width="1.53" opacity="0.5"/><path d="M193.4 40.3L194.6 40L195.7 39.9L196.9 39.9L198 40.4M193.4 40.8L194.6 40.8L195.7 40.8L196.9 40.6L198 40.7M194.6 41.2L195.7 41.4L196.9 41.2L198 41.1" stroke="#2fd22c" stroke-width="1.02" opacity="0.8"/><path d="M35.3 58.3L46 84.4L58.3 104.4L66 110.5L79.8 105.9L99.8 99.8L115.1 90.6L127.4 78.3L138.1 61.4L147.4 55.3L176.5 53.7" stroke="#2fd22c" stroke-width="1.84" opacity="0.8"/><path d="M126.8 80.3L139.2 62.5M128.6 83.3L142.2 62.4M130.7 85.8L144.4 63.8M131.3 87.4L146.9 64.2M133.7 88L147.2 67" stroke="#2fd22c" stroke-width="1.38" opacity="0.7"/><path d="M115.1 105.9L130.5 95.2L141.2 92.1" stroke="#2fd22c" stroke-width="1.53" opacity="0.45"/><path d="M0 93.6L23 95.2L38.4 104.4L46 113.6L61.4 121.3L72.1 125.9L82.9 136.6L95.2 147.4L107.4 155" stroke="#2fd22c" stroke-width="1.84" opacity="0.8"/><path d="M0 115.1L15.3 107.4L38.4 110.5L58.3 112.1" stroke="#2fd22c" stroke-width="1.53" opacity="0.6"/><ellipse cx="59.1" cy="108.98" rx="5.37" ry="4.6" fill="#2fd22c" stroke="none" opacity="0.7"/><path d="M9.3 128.5L15 130.2L20.6 132.1L26 134.5L30.9 137.7M9.2 128.9L14.8 130.8L20.4 132.6L25.6 135.2L30.7 138.2M9.1 129.4L14.6 131.4L20.1 133.2L25.3 135.7L30.6 138.4" stroke="#2fd22c" stroke-width="1.15" opacity="0.6"/><ellipse cx="1.23" cy="115.12" rx="2.15" ry="2.76" fill="#7be02a" stroke="none" opacity="0.9"/><path d="M23 142.8L46 147.4L73.7 145.8" stroke="#2fd22c" stroke-width="1.53" opacity="0.35"/><path d="M16.7 160.9L25.6 161.4L34.6 161.5L43.5 161.9L52.4 162.2L61.4 162.4M7.7 161.1L16.6 161.5L25.6 161.8L34.5 162.3L43.5 162.6L52.4 162.7L61.4 162.6M7.7 161.4L16.6 162.2L25.6 162.6L34.5 162.9L43.5 163.2L52.4 163.2" stroke="#2fd22c" stroke-width="1.02" opacity="0.3"/><path d="M3.1 156.6L10.7 153.5" stroke="#2fd22c" stroke-width="2.15" opacity="0.35"/><path d="M82.2 156.2L78.5 166.1L73.6 175.5L67.8 184.3M84.3 145.8L81.6 156L77.5 165.7L73 175.2L67.6 184.2M83.9 145.7L80.6 155.6L76.7 165.3L72.3 174.8L67.2 184" stroke="#2fd22c" stroke-width="1.28" opacity="0.4"/><path d="M107.4 155L105.9 168.8L98.2 184.2L95.2 199.5" stroke="#2fd22c" stroke-width="2.15" opacity="0.6"/><path d="M100.1 190.6L186.9 106.2M106.6 187.5L192.3 109.2M116.1 180.4L186.6 119M99.9 197.5L192.4 116.1M107.3 193.9L176.1 139.2M101.2 201.5L191.8 135M110.8 197.7L194.3 137.9M115 197.5L193.5 140.4M112.7 201.8L211.8 132.7" stroke="#2fd22c" stroke-width="1.07" opacity="0.4"/><path d="M95.2 193.4L107.4 184.2L122.8 168.8L138.1 156.6L153.5 144.3L168.8 127.4L184.2 110.5L196.5 99.8" stroke="#2fd22c" stroke-width="2.15" opacity="0.8"/><path d="M98.2 207.2L115.1 191.9L138.1 179.6L161.2 165.8L176.5 153.5L199.5 141.2L214.9 135.1" stroke="#2fd22c" stroke-width="2.15" opacity="0.8"/><ellipse cx="105.15" cy="188.8" rx="6.14" ry="3.38" fill="#7be02a" stroke="none" opacity="0.95" transform="rotate(-35 105.15 188.8)"/><ellipse cx="101.31" cy="207.22" rx="4.6" ry="3.38" fill="#7be02a" stroke="none" opacity="0.9"/><path d="M153.5 107.4L168.8 95.2L188.8 81.4" stroke="#2fd22c" stroke-width="1.53" opacity="0.35"/><path d="M125.9 121.3L145.8 107.4L161.2 99.8" stroke="#2fd22c" stroke-width="1.23" opacity="0.35"/><path d="M113.6 138.1L119.7 153.5L116.7 165.8" stroke="#2fd22c" stroke-width="1.23" opacity="0.35"/><path d="M202.6 99.8L205.7 119.7L214.9 135.1" stroke="#2fd22c" stroke-width="1.53" opacity="0.35"/><path d="M143.5 226.9L149.4 219.4L155.3 211.8L161.3 204.3L167.5 197L174.2 190L181 183.4M138.2 234.9L143.9 227.2L149.7 219.6L155.9 212.2L161.8 204.7L168 197.4L174.8 190.7L181.5 183.8L187.6 176.5L193.3 168.8M144.3 227.5L150.2 220L156.3 212.6L162.4 205.2L168.6 197.9L175.1 191L182.1 184.3L188.2 176.9L193.8 169.1" stroke="#2fd22c" stroke-width="1.02" opacity="0.75"/><path d="M176.5 239.5L184.2 214.9L191.9 191.9" stroke="#2fd22c" stroke-width="1.84" opacity="0.65"/><path d="M153.5 230.2L176.5 199.5L199.5 168.8" stroke="#2fd22c" stroke-width="1.23" opacity="0.35"/><ellipse cx="102.84" cy="39.91" rx="10.74" ry="6.91" fill="#3236b4" stroke="none" opacity="0.27"/><ellipse cx="104.38" cy="113.59" rx="9.98" ry="7.67" fill="#3236b4" stroke="none" opacity="0.31"/><ellipse cx="132.01" cy="121.26" rx="7.67" ry="6.91" fill="#3236b4" stroke="none" opacity="0.31"/><ellipse cx="167.31" cy="148.89" rx="12.28" ry="8.44" fill="#3236b4" stroke="none" opacity="0.34" transform="rotate(15 167.31 148.89)"/><ellipse cx="208.76" cy="13.81" rx="10.74" ry="10.74" fill="#3236b4" stroke="none" opacity="0.27"/><ellipse cx="35.3" cy="75.21" rx="5.37" ry="6.14" fill="#3236b4" stroke="none" opacity="0.15"/><ellipse cx="118.96" cy="81.35" rx="2.76" ry="7.67" fill="#3236b4" stroke="none" opacity="0.27" transform="rotate(15 118.96 81.35)"/><ellipse cx="121.26" cy="6.14" rx="6.14" ry="4.6" fill="#3236b4" stroke="none" opacity="0.2"/><ellipse cx="64.47" cy="184.2" rx="1.84" ry="1.38" fill="#e0501e" stroke="none" opacity="0.6"/><ellipse cx="75.21" cy="191.1" rx="1.84" ry="1.38" fill="#e0501e" stroke="none" opacity="0.6"/><ellipse cx="42.98" cy="175.75" rx="1.84" ry="1.38" fill="#e0501e" stroke="none" opacity="0.6"/><ellipse cx="30.7" cy="217.97" rx="1.84" ry="1.38" fill="#e0501e" stroke="none" opacity="0.6"/><ellipse cx="198.01" cy="217.97" rx="1.84" ry="1.38" fill="#e0501e" stroke="none" opacity="0.6"/><ellipse cx="221.04" cy="121.26" rx="1.84" ry="1.38" fill="#e0501e" stroke="none" opacity="0.6"/></g>
</g>
<g transform="translate(1305.3 1697.4) scale(0.9954 0.9962)" clip-path="url(#cc)">
<rect width="237" height="237" fill="#000"/>
<g filter="url(#b3)" fill="none" stroke-linecap="round" stroke-linejoin="round"><path d="M161.2 12.3L179.6 3.1L237 0L237 73.7L199.5 69.1L181.1 50.7L168.8 30.7Z" fill="#2fd22c" stroke="none" opacity="0.4"/><path d="M161.5 20.9L177.9 45.9L192.9 63.3L213.6 73.5L239.5 73.7L239.5 61.4L216.2 61.5L200.1 53.4L184.4 40.1L163.9 19Z" fill="#7be02a" stroke="#7be02a" stroke-width="2" opacity="0.36"/><path d="M161.2 12.3L176.5 7.7L184.2 1.5" stroke="#2fd22c" stroke-width="3.45" opacity="0.32"/><path d="M79.4 64.7L91.2 83.5L109.2 105.7L124.3 118.5L136.7 130.8L152.6 139.7L173 149.9L196.3 158.5L196.6 157.7L173.9 147.8L154.4 136.6L139.6 127.1L127.5 114.8L111.8 103L93 82.2L80.2 64.2Z" fill="#2fd22c" stroke="#2fd22c" stroke-width="2" opacity="0.34"/><path d="M119.7 112.1L132 122.8L142.8 132" stroke="#7be02a" stroke-width="2.76" opacity="0.41"/><path d="M67.2 120.2L82.2 132.9L97.4 142.6L115.4 155.2L126.5 165.1L153.3 169.6L184.2 168.7L217.9 169.3L218 168.4L184.2 165.9L153.7 165.1L128.3 160.3L117.9 151.8L99.1 139.9L83.5 131.1L67.9 119.2Z" fill="#2fd22c" stroke="#2fd22c" stroke-width="2" opacity="0.34"/><path d="M92.1 122.8L107.4 138.1L122.8 156.6" stroke="#2fd22c" stroke-width="2.76" opacity="0.25"/><path d="M95.2 92.1L110.5 110.5" stroke="#2fd22c" stroke-width="3.32" opacity="0.14"/><path d="M30.7 145.8L29.2 176.5" stroke="#2fd22c" stroke-width="2.21" opacity="0.08"/><path d="M168.8 199.5L237 184.2L237 237L214.9 230.2L168.8 227.2Z" fill="#2fd22c" stroke="none" opacity="0.3"/><path d="M230.2 191.9L237 184.2" stroke="#2fd22c" stroke-width="4.14" opacity="0.32"/></g>
<g filter="url(#b1)" fill="none" stroke-linecap="round" stroke-linejoin="round"><path d="M176.4 12.2L231.3 15.1M173.5 16.8L234 19.6M175 21.2L233.9 26.7M184.8 29.3L235.4 34.2M180.1 36.2L234.6 43.1M179.1 39.6L236.6 45.1M190.3 46.1L225.5 54.9M189.9 49.2L225.4 58.3M185.7 52.6L224.3 56.9M186.3 60L230 71.8" stroke="#2fd22c" stroke-width="1.23" opacity="0.45"/><path d="M161.5 20.9L177.9 45.9L192.9 63.3L213.6 73.5L239.5 73.7L239.5 61.4L216.2 61.5L200.1 53.4L184.4 40.1L163.9 19Z" fill="#7be02a" stroke="none" opacity="0.9"/><path d="M167.1 9.5L173 7.3L178.6 4.8M161.1 12.1L167.2 9.9L173.4 8.2L178.9 5.3L184.2 1.5M161.3 12.7L167.5 10.9L173.7 8.8L179.3 5.8L184.3 1.7M161.3 12.7L167.7 11.6L174 9.6L179.9 6.7L184.7 2.2" stroke="#2fd22c" stroke-width="1.2" opacity="0.7"/><path d="M168.8 23L199.5 38.4L239.5 46" stroke="#2fd22c" stroke-width="1.84" opacity="0.6"/><path d="M191.9 27.6L214.9 30.7L237 26.1" stroke="#2fd22c" stroke-width="1.53" opacity="0.4"/><path d="M208.8 76.7L211.1 89" stroke="#2fd22c" stroke-width="1.23" opacity="0.3"/><ellipse cx="207.22" cy="12.28" rx="13.81" ry="11.51" fill="#3236b4" stroke="none" opacity="0.51"/><path d="M79.4 64.7L91.2 83.5L109.2 105.7L124.3 118.5L136.7 130.8L152.6 139.7L173 149.9L196.3 158.5L196.6 157.7L173.9 147.8L154.4 136.6L139.6 127.1L127.5 114.8L111.8 103L93 82.2L80.2 64.2Z" fill="#2fd22c" stroke="none" opacity="0.85"/><path d="M126 116.5L131.7 121.5L137.4 126.5M119.7 112.1L125.5 117L131.2 122.1L137 127L142.6 132.1M119.4 112.4L124.9 117.7L130.7 122.6L136.5 127.5" stroke="#7be02a" stroke-width="1.28" opacity="0.9"/><path d="M69.1 72.1L75.2 92.1L82.9 110.5L92.1 122.8" stroke="#2fd22c" stroke-width="1.84" opacity="0.8"/><path d="M67.2 120.2L82.2 132.9L97.4 142.6L115.4 155.2L126.5 165.1L153.3 169.6L184.2 168.7L217.9 169.3L218 168.4L184.2 165.9L153.7 165.1L128.3 160.3L117.9 151.8L99.1 139.9L83.5 131.1L67.9 119.2Z" fill="#2fd22c" stroke="none" opacity="0.85"/><path d="M125.9 161.2L130.5 170.4L142.8 187.3" stroke="#2fd22c" stroke-width="1.53" opacity="0.7"/><ellipse cx="128.63" cy="166.54" rx="1.84" ry="4.6" fill="#7be02a" stroke="none" opacity="0.9"/><path d="M99.2 128.7L105.7 135.1L111.7 142L117.5 149.1L123.3 156.2M92.2 122.7L98.5 129.3L104.9 135.8L111.2 142.4L116.9 149.5L122.8 156.5M98.1 129.8L104.5 136.2L110.4 143.2L116.5 149.9" stroke="#2fd22c" stroke-width="1.28" opacity="0.55"/><path d="M95.7 91.6L99.8 96.1L103.8 100.5L107.6 105.1L111 110.1M95.5 91.8L99.3 96.5L103.3 101L106.9 105.7L110.8 110.3M95.1 92.2L98.8 96.9L102.5 101.6L106.3 106.2L110.3 110.7M98.2 97.4L102 102L105.8 106.6L110 110.9" stroke="#2fd22c" stroke-width="1.15" opacity="0.3"/><ellipse cx="124.33" cy="134.31" rx="12.28" ry="13.05" fill="#3236b4" stroke="none" opacity="0.51"/><path d="M0 49.1L15.3 56.8L27.6 62.9" stroke="#2fd22c" stroke-width="1.53" opacity="0.4"/><path d="M0 61.4L30.7 76.7L53.7 95.2L69.1 116.7" stroke="#2fd22c" stroke-width="1.23" opacity="0.3"/><path d="M0 104.4L9.2 119.7L23 130.5L38.4 135.8" stroke="#2fd22c" stroke-width="2.15" opacity="0.3"/><path d="M31.1 145.8L30.9 153.5L30.8 161.2L30.1 168.9L29.5 176.5M30.8 145.8L30.2 153.5L29.9 161.2L29.6 168.9L29.3 176.5M30.3 145.8L29.7 153.5L29.1 161.1L29.1 168.8" stroke="#2fd22c" stroke-width="1.02" opacity="0.18"/><path d="M0 33.8L4.6 36.8" stroke="#2fd22c" stroke-width="1.53" opacity="0.5"/><path d="M175.6 198.6L233.9 185.1M181.2 200.7L222.6 193.7M182.2 202.4L236.3 190.2M182.8 206L233 193.5M170.8 213.4L228.2 198.6M174.3 217.5L236.3 203.1M172.4 219L227.3 205.3M173.7 223.5L222.4 214.8M178.2 224.9L225.8 214.4" stroke="#2fd22c" stroke-width="1.07" opacity="0.45"/><path d="M173.5 199.5L199.5 196.5L239.5 188.8" stroke="#2fd22c" stroke-width="2.15" opacity="0.8"/><path d="M176.5 207.2L207.2 204.2L239.5 196.5" stroke="#2fd22c" stroke-width="1.53" opacity="0.6"/><path d="M168.8 227.2L199.5 214.9L239.5 198" stroke="#2fd22c" stroke-width="1.84" opacity="0.6"/><path d="M196.5 227.2L218 218" stroke="#2fd22c" stroke-width="1.53" opacity="0.5"/><path d="M229.7 191.4L230.7 188.8L232.4 187L234.2 185.2M229.9 191.6L231.2 189.3L233.1 187.5L234.9 185.8L236.6 183.9M230 191.7L231.9 189.9L233.4 187.9L235.2 186L237.1 184.3M230.4 192L232.3 190.3L234.4 188.7L235.7 186.5L237.2 184.4M232.9 190.8L234.7 189L236.4 187.1L237.4 184.6" stroke="#2fd22c" stroke-width="1.15" opacity="0.7"/></g>
</g>
<g transform="translate(821.2 1938.2) scale(0.9987 0.9941)" clip-path="url(#cc)">
<rect width="237" height="237" fill="#000"/>
<g filter="url(#b3)" fill="none" stroke-linecap="round" stroke-linejoin="round"><path d="M112.1 46L138.1 49.1L161.2 58.3L184.2 69.1L199.5 86L210.3 107.4L216.4 130.5L213.4 153.5L202.6 173.5L184.2 190.3L161.2 201.1L138.1 207.2L115.1 210.3L92.1 207.2L72.1 199.5L58.3 184.2L49.1 161.2L47.6 138.1L49.1 115.1L56.8 95.2L66 76.7L78.3 61.4L93.6 50.7L112.1 46" stroke="#2fd22c" stroke-width="13.81" opacity="0.3"/><path d="M112.1 46L138.1 49.1L161.2 58.3L184.2 69.1L199.5 86L210.3 107.4L216.4 130.5L213.4 153.5L202.6 173.5L184.2 190.3L161.2 201.1L138.1 207.2L115.1 210.3L92.1 207.2L72.1 199.5L58.3 184.2L49.1 161.2L47.6 138.1L49.1 115.1L56.8 95.2L66 76.7L78.3 61.4L93.6 50.7L112.1 46" stroke="#2fd22c" stroke-width="6.91" opacity="0.38"/><path d="M79.8 59.9L112.1 45.3L138.1 48.4L161.2 57.6L184.2 69.1L199.5 86" stroke="#2fd22c" stroke-width="13.12" opacity="0.41"/><path d="M99.8 47.6L122.8 46.8L145.8 52.2L168.8 62.9L188.8 75.2" stroke="#7be02a" stroke-width="5.53" opacity="0.41"/><path d="M207.2 167.3L184.2 190.3L161.2 201.1L138.1 207.2L115.1 210.3L92.1 207.2L69.1 198" stroke="#2fd22c" stroke-width="12.43" opacity="0.41"/><path d="M191.9 182.7L168.8 198L138.1 207.2L107.4 209.5" stroke="#7be02a" stroke-width="4.97" opacity="0.41"/><path d="M61.4 76.7L184.2 76.7L204.2 138.1L176.5 184.2L92.1 196.5L58.3 153.5Z" fill="#2fd22c" stroke="none" opacity="0.06"/><path d="M239.5 36.8L214.9 53.7L191.9 67.5" stroke="#2fd22c" stroke-width="2.76" opacity="0.27"/><path d="M35.3 66L46 75.2" stroke="#2fd22c" stroke-width="2.76" opacity="0.16"/><path d="M35.3 153.5L46 181.1" stroke="#2fd22c" stroke-width="5.53" opacity="0.14"/><path d="M224.1 147.4L234.9 150.4" stroke="#2fd22c" stroke-width="2.76" opacity="0.16"/><path d="M98.2 30.7L107.4 39.9" stroke="#2fd22c" stroke-width="2.76" opacity="0.14"/></g>
<g filter="url(#b1)" fill="none" stroke-linecap="round" stroke-linejoin="round"><path d="M112.6 43.3L152.4 51.2L189.4 69.9L212.6 104.5L217.5 145.6L198.3 182.1L163.1 204L122.4 212.5L81.4 206.4L52.1 178L44.6 137.1L52.7 96.7L74.7 61.5L110.5 42.9M112.5 43.9L152.2 52L188.5 70.8L211.8 104.8L216.8 145.5L197.7 181.6L162.7 203L122.4 211.2L82 205.3L53.4 177.3L44.9 137.1L54 97.3L75.3 62.1L111.2 44.3M112.3 44.7L151.7 53.5L188 71.4L210.5 105.3L216.1 145.3L196.7 180.6L162.2 201.9L122.3 210.4L82.3 204.6L53.8 177.1L46.6 137.1L54.2 97.3L75.8 62.8L111.5 44.9M112.1 45.6L151.3 54.4L187.8 71.7L210.1 105.5L214.5 145.1L195.9 179.8L162 201.5L122.3 210L82.6 204L54.5 176.7L47 137.1L54.9 97.6L76.4 63.4L111.7 45.3M111.9 46.7L151.1 55.1L187 72.6L208.9 105.9L213.8 144.9L195.5 179.4L161.7 200.8L122.3 208.8L82.9 203.4L55.7 176.1L48 137.1L56.5 98.2L76.7 63.7L112.4 46.7M111.9 47L151 55.4L186 73.7L208.4 106.1L213.5 144.9L194.9 178.9L161.2 199.5L122.2 208L83.2 202.8L56 175.9L49 137.1L56.7 98.3L77.6 64.6L112.8 47.5M111.6 48.2L150.5 56.8L185.4 74.4L207.4 106.5L212.5 144.7L193.9 177.9L161.1 199.1L122.2 207.2L83.7 201.7L56.9 175.5L50.1 137.1L57.8 98.8L77.9 65L113 48M111.5 48.7L150.3 57.3L185.3 74.5L206.4 106.9L211.7 144.5L193.7 177.8L160.4 197.6L122.2 206.3L84.1 201L58 174.9L51 137.1L58.8 99.1L78.9 66.1L113.3 48.7" stroke="#2fd22c" stroke-width="1.2" opacity="0.85"/><path d="M96.6 46.6L106.7 41.6L118.2 40.2L129.4 40.2L140.4 42.2L150.6 46.9L160.9 49.8L169.9 55.6L179.3 60.6L189 66.4L196 75.1M87.7 52.2L96.8 47L106.8 41.7L118.2 40.8L129 42.8L140 43.8L150.3 47.8L159.8 52.3L170 55.5L178.9 61.4L188.6 66.9M88 52.7L97.7 48.9L107.4 43.9L118.2 42.8L129.1 42.5L139.9 44.3L149.7 49.1L160 51.9L169.4 56.7L178.8 61.5L187.3 68.4L195.1 76L201.2 84.5M79.2 58.6L88.6 54.2L97.7 48.9L107.4 44.2L118.2 42.4L128.9 43.7L139.7 45.2L149.7 49.3L159.1 53.8L168.8 58L177.6 63.8L187.3 68.5L193.6 77.3L201.2 84.5M88.9 54.7L98.1 49.9L107.8 45.6L118.2 44.8L128.8 44.9L139.2 47L149 51L158.5 55.2L168.4 58.7L177.6 63.8L187 68.8L193.3 77.6M79.9 60.1L89.2 55.5L98.2 50.1L108.1 46.5L118.2 44.7L128.6 46.3L138.8 48.5L148.9 51.3L158.2 55.9L168 59.5L177.3 64.3L185.4 70.8L193.4 77.5L200.2 85.4M79.7 59.7L89.2 55.3L98.9 51.7L108.1 46.8L118.2 46.1L128.5 47.3L138.5 49.6L148.4 52.4L157.8 57L167.4 60.8L176.1 66.6L184.7 71.6L191.7 79.1L198.8 86.6M89.9 56.9L99.1 52.1L108.7 48.9L118.2 48.3L128.4 48.1L138.5 49.8L147.6 54.5L157.2 58.3L166.7 62.3L176.3 66.1L184.9 71.4L192 78.8M99.6 53.3L109 49.8L118.1 49L128.1 50.2L138 51.7L147.1 55.7L156.6 59.6L166.6 62.6L175.9 66.9L183.6 73L190.5 80.2L198.6 86.8M90.4 58.1L99.8 53.7L109 50.1L118.1 49.5L128 51.3L137.9 52L146.7 56.6L156.1 60.7L165.9 64L174.9 68.6L183.3 73.3M109.4 51.6L118.1 51.3L128 51.5L137.2 54.4L146.2 58L155.9 61.3L165.5 64.7L174.4 69.6L183.4 73.3M100.9 56.2L109.6 52.1L118.1 51.3L127.6 54L137.2 54.4L146 58.5L155.9 61.3L164.8 66.2L173.8 70.8L182 75L189.4 81.1" stroke="#2fd22c" stroke-width="1.52" opacity="0.9"/><path d="M99.7 46.2L110.3 45.2L121.2 44.5L131.9 46.4L142.4 49L152.6 52.6L162.2 57.4L171.7 62.3M110.4 46.4L121.1 45.4L131.7 47.3L142.1 49.8L152.1 53.7L161.8 58.1L171.3 63.1L180.5 68.4M99.8 47.3L110.4 46.9L121.1 46L131.6 47.9L142 50.4L152 54.1L161.7 58.4L171.1 63.4L180 69.2M99.8 47.7L110.4 47.4L121 46.6L131.4 48.5L141.8 51L151.6 55L161.1 59.7L170.8 64L179.8 69.5L188.8 75.3M99.8 47.8L110.4 47.9L120.9 47.6L131.2 49.5L141.5 51.9L151.4 55.4L160.8 60.3L170.4 64.6L179.4 70.3L188.6 75.6M120.9 48L131.1 50.3L141.3 52.4L150.9 56.6L160.6 60.6L169.9 65.7L179.2 70.5M110.5 49.3L120.8 49.1L130.8 51.4L141 53.4L150.8 56.9L160.3 61.3L169.8 65.7L178.7 71.4" stroke="#7be02a" stroke-width="1.1" opacity="0.9"/><path d="M184.4 195.7L173.7 202.3L162.5 207.6L150.4 209.9L138.9 214.1L126.6 215L114.1 215.8L101.8 213.7M192.8 186.4L184.3 195.5L173.1 201L162.2 206.6L150.4 209.7L138.5 212.3L126.4 213.5L114.1 215.3L101.8 213.6M192.7 186.3L183.9 194.9L172.8 200.3L161.7 205.2L149.8 207.5L138.1 210.4L126.4 213.4L114.2 213.1L102.1 211.3L90.2 209.3M207.8 167.9L200.7 177.4L192.6 186.2L183.1 193.7L172.1 198.7L161.5 204.6L149.4 206.3L138 209.7L126.2 211.5L114.2 212.8L102.1 211.7L90.4 208.5M199.4 176.1L191.7 185.1L182.1 192.1L171.8 198.1L161 203.3L149.5 206.4L137.9 209.2L126.2 211.2L114.2 212.3L102.3 210.1L90.6 208L79.6 203.4L68.5 199.3M206.9 167L199.6 176.3L190.7 184.1L181.9 191.8L171.2 196.8L160.2 201.1L149.2 205.3L137.6 207.5L125.9 209.4L114.2 210.9L102.4 209.3L90.7 207.7L79.6 203.4L69.2 197.6M206.7 166.8L199 175.7L190.1 183.4L181.4 191L170.6 195.6L160.2 200.9L148.6 203.1L137.4 206.4L125.8 208.4L114.2 210.3L102.5 208.5L90.9 206.9L80.2 202L69.4 197.3M198.1 174.9L189.9 183.2L180.6 189.8L170.3 194.8L159.7 199.5L148.5 202.7L137.1 205.2L125.7 207.1L114.2 209L102.7 207.4L91.2 205.8L80.3 201.6M188.9 182.2L180.4 189.5L170 194.1L159.6 199.4L148.2 201.7L137 204.5L125.6 206.4L114.2 207.6L103 205.4L91.7 203.9L80.5 201.2M188.1 181.3L179.6 188.2L169.7 193.6L159.2 198.3L147.9 200.4L136.7 203L125.5 205.8L114.2 207.3L103.1 204.5L92 203.1M196.6 173.4L187.4 180.6L179.7 188.5L169 192.1L158.8 197.2L147.6 199.3L136.7 203.2L125.2 203.8L114.2 206.1L103.2 204.3M205.5 165.6L196 172.8L187.2 180.4L178.6 186.7L168.5 191.1L158.3 195.7L147.2 197.9L136.4 201.5L125.2 203.5L114.3 204.1L103.3 203.5L92.4 201.3" stroke="#2fd22c" stroke-width="1.44" opacity="0.9"/><path d="M184.5 189.7L176 195.1L167.3 200.6L157.4 203.4L147.8 206.6L137.9 209.2L127.7 210.2L117.6 210.6L107.5 210.8M184 189L175.7 194.7L167 200L157.2 203L147.6 206L137.8 208.7L127.6 209.2L117.5 209.5L107.5 210.4M192 182.8L183.7 188.6L175.4 194.2L166.6 199.2L157 202.2L147.3 205L137.6 207.9L127.5 208.3L117.5 208.8L107.4 209.5M191.7 182.3L183.3 188L174.9 193.5L166.3 198.3L156.6 201L147.1 204.1L137.5 206.9L127.5 207.9L117.5 208.8L107.4 209.5M191.5 182.1L183.1 187.7L174.6 193L166 197.7L156.4 200.2L146.9 203.4L137.3 206L127.4 207.1L117.4 207.9M191.3 181.8L182.5 186.8L174.1 192.2L165.8 197.1L156.3 199.8L146.6 202.6L137.1 205.1L127.4 206.3" stroke="#7be02a" stroke-width="1.15" opacity="0.9"/><path d="M232 42.7L224.4 48.2L216.5 53.5L208.5 58.6L200.4 63.4M239.4 36.7L231.6 42.1L223.9 47.5L216.1 52.9L208 57.8L200 62.8L191.9 67.6M239.1 36.4L231.4 41.7L223.5 47L215.7 52.2L207.6 57.1L199.6 62.1" stroke="#2fd22c" stroke-width="1.28" opacity="0.6"/><path d="M208.8 72.1L239.5 75.2" stroke="#2fd22c" stroke-width="2.15" opacity="0.4"/><path d="M53.7 15.3L69.1 7.7L92.1 1.5" stroke="#2fd22c" stroke-width="2.15" opacity="0.45"/><path d="M12.3 9.2L30.7 6.1" stroke="#2fd22c" stroke-width="1.23" opacity="0.25"/><path d="M3.1 107.4L18.4 104.4" stroke="#2fd22c" stroke-width="1.23" opacity="0.35"/><path d="M3.1 92.1L20 88.3" stroke="#2fd22c" stroke-width="1.23" opacity="0.3"/><path d="M0 113.6L9.2 113.6" stroke="#2fd22c" stroke-width="1.23" opacity="0.3"/><path d="M38.5 67.8L41.2 70L44 72.2M35.4 65.9L38.1 68.2L40.6 70.7L43.2 73L46 75.3M35.1 66.3L37.5 68.8L40 71.3L42.8 73.6" stroke="#2fd22c" stroke-width="1.28" opacity="0.35"/><path d="M38.4 199.5L53.7 230.2" stroke="#2fd22c" stroke-width="1.53" opacity="0.3"/><path d="M40.4 159.5L43.1 166.4L45.4 173.4M35.9 153.3L39.2 159.9L41.9 166.8L44.6 173.7M35.9 153.3L38.7 160.1L41.1 167.1L44 174L46.6 180.9M35.6 153.4L37.8 160.5L40.8 167.3L43.4 174.2L45.7 181.3M35 153.6L37.4 160.6L40 167.6L42.7 174.5L45.9 181.2M34.8 153.7L36.3 161.1L38.8 168L42.1 174.7L45.4 181.4M35.9 161.2L38.2 168.3L41.1 175.1" stroke="#2fd22c" stroke-width="1.1" opacity="0.3"/><path d="M224.2 147.1L227 147.5L229.7 148.2L232.3 149L235 150.1M224.1 147.4L226.8 148L229.5 148.7L232.2 149.7L234.8 150.5M226.6 148.8L229.3 149.5L231.9 150.5" stroke="#2fd22c" stroke-width="1.28" opacity="0.35"/><path d="M101.1 32.5L103.6 34.6L105.7 37L107.7 39.6M98.2 30.8L100.5 33L102.8 35.3L105.2 37.5L107.4 40M97.8 31.1L99.9 33.6L102.1 36L104.7 38.1L107 40.3" stroke="#2fd22c" stroke-width="1.28" opacity="0.3"/><path d="M15.3 181.1L38.4 193.4" stroke="#2fd22c" stroke-width="1.23" opacity="0.2"/><ellipse cx="135.08" cy="128.94" rx="16.12" ry="18.42" fill="#3236b4" stroke="none" opacity="0.34"/><ellipse cx="49.12" cy="187.27" rx="1.38" ry="1.38" fill="#e0501e" stroke="none" opacity="0.6"/><ellipse cx="62.93" cy="213.36" rx="1.38" ry="1.38" fill="#e0501e" stroke="none" opacity="0.6"/><ellipse cx="46.05" cy="191.87" rx="1.38" ry="1.38" fill="#e0501e" stroke="none" opacity="0.6"/><ellipse cx="75.21" cy="221.04" rx="1.38" ry="1.38" fill="#e0501e" stroke="none" opacity="0.6"/><ellipse cx="64.47" cy="13.81" rx="1.38" ry="1.38" fill="#e0501e" stroke="none" opacity="0.6"/><ellipse cx="72.14" cy="12.28" rx="1.38" ry="1.38" fill="#e0501e" stroke="none" opacity="0.6"/><ellipse cx="176.52" cy="209.52" rx="1.38" ry="1.38" fill="#e0501e" stroke="none" opacity="0.6"/><ellipse cx="6.14" cy="189.57" rx="1.38" ry="1.38" fill="#e0501e" stroke="none" opacity="0.6"/></g>
</g>
<g transform="translate(1064.1 1938.2) scale(0.9975 0.9941)" clip-path="url(#cc)">
<rect width="237" height="237" fill="#000"/>
<g filter="url(#b3)" fill="none" stroke-linecap="round" stroke-linejoin="round"><path d="M0 30.7L30.7 9.2L64.5 0L46 30.7L0 53.7Z" fill="#2fd22c" stroke="none" opacity="0.3"/><path d="M2.1 41L17.2 32.5L32.4 22.5L47.3 11.1L60.7 1.3L59 -1.3L44.8 7.3L29 17.4L13.5 25.8L-2.1 32.7Z" fill="#2fd22c" stroke="#2fd22c" stroke-width="2" opacity="0.32"/><path d="M0 37.6L13.8 30.7" stroke="#7be02a" stroke-width="2.76" opacity="0.41"/><path d="M107.4 9.2L153.5 3.1L191.9 6.1L191.9 38.4L153.5 30.7L115.1 38.4Z" fill="#2fd22c" stroke="none" opacity="0.3"/><path d="M130.5 13.8L153.5 9.2L178.1 4.6" stroke="#2fd22c" stroke-width="6.91" opacity="0.27"/><path d="M107.4 104.4L147.4 98.2L191.9 86L176.5 122.8L199.5 161.2L193.4 179.6L153.5 153.5L107.4 133.5Z" fill="#2fd22c" stroke="none" opacity="0.3"/><path d="M66.1 111.7L92.3 109L115.4 106.8L138.8 104.6L149.9 101.9L147.8 94.5L137.5 98L114.8 101.9L91.9 105.9L65.9 110.8Z" fill="#2fd22c" stroke="#2fd22c" stroke-width="2" opacity="0.32"/><path d="M119.7 103.6L144.3 100.5" stroke="#7be02a" stroke-width="2.49" opacity="0.41"/><path d="M39.9 127.4L61.4 128.9L84.4 128.9L107.4 133.5L125.9 141.2L138.1 145.8L153.5 153.5L168.8 162.7L184.2 171.9L193.4 179.6" stroke="#2fd22c" stroke-width="2.76" opacity="0.38"/><path d="M107.4 133.5L125.9 141.2L147.4 150.4" stroke="#7be02a" stroke-width="2.21" opacity="0.41"/><path d="M40 148.9L61.5 147.6L84.5 146.4L107.3 146.7L130.4 150.1L153.7 148.9L153.3 142.8L130.6 144.6L107.6 141.8L84.4 142.2L61.3 144L39.8 145.8Z" fill="#2fd22c" stroke="#2fd22c" stroke-width="2" opacity="0.32"/><path d="M173.5 127.4L176.5 138.1L184.2 147.4L199.5 161.2" stroke="#2fd22c" stroke-width="2.76" opacity="0.25"/><path d="M55.3 175L61.4 184.2L66 191.9" stroke="#2fd22c" stroke-width="3.32" opacity="0.27"/><path d="M15.3 175L55.3 175L66 191.9L15.3 199.5Z" fill="#2fd22c" stroke="none" opacity="0.2"/><path d="M239.5 199.5L227.2 218L219.5 239.5" stroke="#2fd22c" stroke-width="4.14" opacity="0.29"/></g>
<g filter="url(#b1)" fill="none" stroke-linecap="round" stroke-linejoin="round"><path d="M2.1 41L17.2 32.5L32.4 22.5L47.3 11.1L60.7 1.3L59 -1.3L44.8 7.3L29 17.4L13.5 25.8L-2.1 32.7Z" fill="#2fd22c" stroke="none" opacity="0.8"/><path d="M-0.1 37.3L3.1 35.1L6.5 33.3L10 31.6L13.6 30.3M0 37.6L3.5 35.9L6.9 34L10.4 32.4L13.8 30.7M3.9 36.7L7.3 34.9L10.7 33.1L13.9 31" stroke="#7be02a" stroke-width="1.28" opacity="0.9"/><path d="M4.6 53.7L23 41.4L38.4 36.8" stroke="#2fd22c" stroke-width="2.15" opacity="0.6"/><path d="M38.4 26.1L61.4 7.7L69.1 1.5" stroke="#2fd22c" stroke-width="1.23" opacity="0.5"/><ellipse cx="96.7" cy="6.91" rx="5.37" ry="3.84" fill="#2fd22c" stroke="none" opacity="0.7"/><path d="M115.9 16.5L191.4 5.6M130 18L176.6 14.5M128.8 20.3L176.3 17.1M121.7 24.1L174.5 17.5M120.6 29.2L182 26M133.2 32.5L187.6 31M134.9 35.5L182 32.4M130.4 37.2L174.9 36" stroke="#2fd22c" stroke-width="1.07" opacity="0.4"/><path d="M130.3 12.7L139.5 9.5L148.8 6.7L158.4 4.9L168 3.8L177.7 2.7M130.3 12.9L139.5 9.6L149.1 8.3L158.7 6.4L168.2 4.7L177.9 3.7M130.4 13.4L139.7 10.8L149.1 8.3L158.8 7L168.3 5.1L178 4M130.4 13.3L140 11.8L149.4 9.8L158.9 7.8L168.4 5.6L178 4.1M130.5 13.7L140 12.1L149.6 10.5L159.1 8.6L168.5 6.3L178 4.4M130.6 14.6L140.3 13.3L149.7 11L159.3 9.5L168.7 7.5L178.2 5.5M140.3 13.6L150 12.5L159.3 9.9L168.9 8.1L178.2 5.6M130.8 15.4L140.5 14.4L150.1 13L159.6 11.4L169 8.9" stroke="#2fd22c" stroke-width="1.2" opacity="0.6"/><path d="M107.4 26.1L138.1 20L168.8 16.9" stroke="#2fd22c" stroke-width="1.53" opacity="0.5"/><path d="M119.7 38.4L153.5 27.6L184.2 30.7" stroke="#2fd22c" stroke-width="1.53" opacity="0.4"/><ellipse cx="176.52" cy="19.95" rx="6.14" ry="6.14" fill="#2fd22c" stroke="none" opacity="0.5"/><path d="M173.5 18.4L191.9 38.4L214.9 53.7L239.5 64.5" stroke="#2fd22c" stroke-width="1.53" opacity="0.35"/><path d="M204.2 4.6L208.8 30.7L222.6 50.7L239.5 66" stroke="#2fd22c" stroke-width="1.53" opacity="0.6"/><path d="M43.6 107.6L146.5 98.8M51.5 111.6L150.5 101.6M49.5 117L149.4 113.4M46.4 123.6L154.3 119.3M48.9 126.9L159.8 127.6M41.9 130.5L153.4 134.4M46.9 136.3L160.2 139M44.7 140.9L165 146.7M50 144.2L159.7 155.3M49 150.4L164.9 154.8" stroke="#2fd22c" stroke-width="1.07" opacity="0.45"/><path d="M151.7 101.7L182 88.8M155.4 115.2L191.6 114.6M161.7 124.3L194 116M168.6 133.9L196.2 133.6M172.9 137.8L194.6 142M173.7 147.5L197 151.4" stroke="#2fd22c" stroke-width="1.07" opacity="0.3"/><path d="M66.1 111.7L92.3 109L115.4 106.8L138.8 104.6L149.9 101.9L147.8 94.5L137.5 98L114.8 101.9L91.9 105.9L65.9 110.8Z" fill="#2fd22c" stroke="none" opacity="0.8"/><path d="M119.7 103.2L125.8 102.3L131.9 101.2L138.1 100.7L144.2 100M119.7 103.7L125.9 102.8L132 102.1L138.2 101.4L144.3 100.4M119.8 104.1L125.9 103.4L132.1 102.8L138.2 101.8L144.3 101" stroke="#7be02a" stroke-width="1.15" opacity="0.9"/><path d="M58.3 98.2L92.1 99.8L115.1 104.4" stroke="#2fd22c" stroke-width="1.23" opacity="0.35"/><path d="M46 113.6L76.7 115.1L107.4 118.2" stroke="#2fd22c" stroke-width="1.23" opacity="0.45"/><path d="M43 121.3L76.7 121.3L115.1 122.8" stroke="#2fd22c" stroke-width="1.53" opacity="0.55"/><path d="M65.4 128.4L78.2 128.2L91 129.2L103.6 131.9L115.7 135.9L127.5 140.9L139.4 145.6L151 151.2L162 157.7L173 164.2L184 170.9M39.9 127.3L52.6 128.5L65.4 128.9L78.2 128.8L90.8 130.1L103.4 132.7L115.4 136.7L127.2 141.6L139.2 146.2L150.5 152.1L161.7 158.3L172.6 165L183.6 171.4L193.3 179.7M78.1 129.8L90.7 131L103.1 133.7L115.1 137.7L126.9 142.4L138.7 147.1L150.1 152.8L161.3 158.9L172.3 165.4" stroke="#2fd22c" stroke-width="1.28" opacity="0.85"/><path d="M115.7 136.3L123.8 139.5L131.7 142.9L139.7 146.4M107.5 133.5L115.4 136.9L123.4 140.3L131.4 143.6L139.4 147.1L147.3 150.5M115.3 137.3L123.1 140.9L131.1 144.3L139.2 147.5L147.2 150.7" stroke="#7be02a" stroke-width="1.02" opacity="0.9"/><path d="M40 148.9L61.5 147.6L84.5 146.4L107.3 146.7L130.4 150.1L153.7 148.9L153.3 142.8L130.6 144.6L107.6 141.8L84.4 142.2L61.3 144L39.8 145.8Z" fill="#2fd22c" stroke="none" opacity="0.8"/><path d="M50.7 148.1L76.7 145.1" stroke="#7be02a" stroke-width="2.15" opacity="0.9"/><path d="M147.4 98.2L161.2 95.2L176.5 92.1L191.9 84.4" stroke="#2fd22c" stroke-width="2.15" opacity="0.4"/><path d="M176.7 135.5L181.3 142.5L187.2 148.8L193.5 154.8L199.9 160.8M173.5 127.4L175.8 135.8L180.5 143.1L186.4 149.5L193 155.3L199.5 161.2M175 136.2L179.8 143.6L185.9 150.1L192.6 155.8L199.2 161.5" stroke="#2fd22c" stroke-width="1.28" opacity="0.55"/><path d="M161.2 107.4L171.9 122.8" stroke="#2fd22c" stroke-width="2.15" opacity="0.5"/><ellipse cx="141.22" cy="127.4" rx="15.35" ry="14.58" fill="#3236b4" stroke="none" opacity="0.27"/><path d="M0 147.4L7.7 161.2L15.3 173.5" stroke="#2fd22c" stroke-width="1.53" opacity="0.5"/><path d="M15.3 175L38.4 178.1L53.7 176.5" stroke="#2fd22c" stroke-width="2.15" opacity="0.4"/><path d="M55.9 174.6L58.9 178.6L61.9 182.6L64.5 186.9L66.4 191.6M55.6 174.8L58.3 179L61 183.2L63.6 187.5L66.2 191.7M55.2 175.1L57.8 179.3L60.6 183.5L63.2 187.7L65.8 192M54.7 175.4L57 179.8L59.8 184L62.3 188.3" stroke="#2fd22c" stroke-width="1.15" opacity="0.6"/><path d="M66 190.3L46 191.9L23 196.5L4.6 202.6" stroke="#2fd22c" stroke-width="2.15" opacity="0.55"/><ellipse cx="23.02" cy="188.8" rx="7.67" ry="4.6" fill="#3236b4" stroke="none" opacity="0.2"/><path d="M199.5 207.2L191.9 222.6L176.5 239.5" stroke="#2fd22c" stroke-width="1.53" opacity="0.55"/><path d="M235.6 207.8L230.7 215.2L227 223.1L223.7 231.4M239.7 199.7L235 207.4L230 214.8L226.4 222.9L223.3 231.3L219.9 239.6M239.5 199.6L234.4 207L229.4 214.4L225.7 222.6L222.5 231L219.4 239.4M239.3 199.4L233.8 206.6L228.6 214L224.9 222.2L221.9 230.8L219 239.3M238.9 199.2L233.2 206.2L228.1 213.7L224.1 221.9L221.2 230.5L218.9 239.2" stroke="#2fd22c" stroke-width="1.15" opacity="0.65"/><ellipse cx="190.34" cy="176.52" rx="3.07" ry="1.53" fill="#e0501e" stroke="none" opacity="0.9" transform="rotate(40 190.34 176.52)"/></g>
</g>
<g transform="translate(1305.3 1938.2) scale(0.9954 0.9941)" clip-path="url(#cc)">
<rect width="237" height="237" fill="#000"/>
<g filter="url(#b3)" fill="none" stroke-linecap="round" stroke-linejoin="round"><path d="M69.1 72.1L161.2 73.7L168.8 122.8L153.5 161.2L76.7 161.2L64.5 138.1Z" fill="#2fd22c" stroke="none" opacity="0.15"/><path d="M66 67.5L92.1 50.7L115.1 43L138.1 44.5L161.2 53.7L178.1 69.1L188.8 92.1L191.9 107.4" stroke="#2fd22c" stroke-width="20.72" opacity="0.27"/><path d="M61.4 58.3L99.8 32.2L138.1 30.7L171.9 44.5L191.9 69.1L196.5 110.5L173.5 102.8L159.6 76.7L130.5 69.1L92.1 70.6L66 75.2Z" fill="#2fd22c" stroke="none" opacity="0.3"/><path d="M99.8 38.4L138.1 46L168.8 61.4L178.1 72.1" stroke="#7be02a" stroke-width="6.35" opacity="0.38"/><path d="M61.4 135.1L73.7 158.1L95.2 175L122.8 182.7L145.8 179.6L162.7 168.8" stroke="#2fd22c" stroke-width="19.34" opacity="0.25"/><path d="M92.1 173.5L115.1 179.6L130.5 181.1" stroke="#2fd22c" stroke-width="5.53" opacity="0.36"/><path d="M41.4 98.2L53.7 107.4L61.4 122.8L66 138.1" stroke="#2fd22c" stroke-width="4.14" opacity="0.27"/><path d="M30.7 116.7L53.7 115.1" stroke="#7be02a" stroke-width="2.21" opacity="0.36"/><path d="M168.8 122.8L184.2 121.3L204.2 127.4L221 138.1L224.1 144.3L207.2 145.8L205.7 161.2L191.9 167.3L182.7 165.8" stroke="#2fd22c" stroke-width="2.21" opacity="0.27"/><path d="M205.7 132L221 141.2" stroke="#2fd22c" stroke-width="8.29" opacity="0.41"/><path d="M187.3 165.8L205.7 155" stroke="#2fd22c" stroke-width="6.91" opacity="0.32"/><path d="M176.5 96.7L191.9 98.2L207.2 98.2" stroke="#2fd22c" stroke-width="4.14" opacity="0.27"/><path d="M153.5 161.2L158.1 145.8" stroke="#2fd22c" stroke-width="2.76" opacity="0.18"/></g>
<g filter="url(#b1)" fill="none" stroke-linecap="round" stroke-linejoin="round"><path d="M84.1 47.1L95.7 39.4L109.5 34.5L124.1 32.8L138.9 34.7L152.8 38.5L166.6 44.3L177.2 55.1L186.4 66.4L192.9 79.3L196.1 92.8L197.2 106.4M97 42.7L109.9 36.3L124.1 35.5L138.8 35.4L151.6 41.7L165.5 46L176.1 56.2L186.3 66.5L191.1 80.1L193.8 93.5L194.6 106.9M85.7 50L97.5 43.9L110.4 39L124.1 36.4L138.4 37.1L151.3 42.6L163.6 49.1L174.5 57.9L183.3 68.5L190 80.6L193.7 93.5L194.5 106.9M74.6 57.2L86.3 51.2L97.4 43.7L110.7 40.8L124.1 39.2L138 39.1L150.4 44.7L163.2 49.8L172.5 59.9L183.6 68.3L188.8 81.1L191.2 94.3M75.3 58.3L86.6 51.7L98 45.1L110.8 41.2L124.1 39.6L137.3 42.3L150.3 45.1L161.5 52.4L171.4 61.1L180.5 70.4L185.9 82.4L191.6 94.2L192.7 107.3M65.1 66.1L76.6 60.3L87 52.5L99 47.8L111.2 43.2L124 43.9L137.2 42.7L148.9 48.6L161 53.3L170.9 61.6L180.8 70.2L186.1 82.3L188.7 95L193.1 107.2M66.3 68L77.2 61.2L87.3 53L99 47.8L111.6 45.1L124 43.6L136.6 45.6L148.3 50.4L160.9 53.4L169.8 62.7L178.7 71.7L183.1 83.6L187.5 95.4L191.6 107.5M66 67.6L77.6 61.8L88.5 55.3L99.8 49.7L112 47.3L124 46.3L136.4 46.4L148 51.2L159.1 56.3L168.9 63.6L178.1 72L182.6 83.8L188.3 95.2M78 62.5L89.9 57.8L100.5 51.7L112.1 47.9L124 48.2L135.8 49.4L147.1 53.5L158 58.1L167.8 64.7L175.9 73.5L181.5 84.3L186.2 95.8L189.4 107.9M89.9 57.9L101.5 54.2L112.3 48.9L124 50.6L135.4 51.2L146.7 54.6L157.6 58.8L166.6 66L173.8 74.9L179.8 85.1L185.6 96L190 107.8M80.3 65.9L91 59.8L102.3 56.3L112.6 50.6L124 52L135.3 51.7L146 56.3L157 59.7L165.2 67.4L172.1 76.1M102.1 55.6L113.1 53.1L123.9 54.3L135 53.1L145.6 57.4L156.2 61L163.1 69.6L172.3 76" stroke="#2fd22c" stroke-width="2.4" opacity="0.6"/><path d="M109.8 37.8L119.4 39.7L128.9 41.6L138.9 43.2L148 47.6L156.8 51.8L165.6 56.6L173.4 62.9L179.3 71M109.5 39.1L119.3 40.2L128.7 42.5L138.7 43.7L147.6 48.5L156.3 52.9L165 57.6L172.9 63.5M109.6 39.1L119.1 41.1L128.6 43L138.3 45.1L147.4 49L155.9 53.5L164.9 57.7L172.3 64.2M99.8 38.4L109.4 40.1L119 41.4L128.5 43.7L138.2 45.3L146.9 49.8L155.4 54.5L164.5 58.4L171.9 64.6L178.5 71.8M99.8 38.2L109.3 40.3L118.7 42.9L128.4 44.3L137.9 46.2L146.6 50.4L155.2 55L164.1 59L171.7 64.8L178.1 72.1M109.1 41.3L118.7 43.1L128.1 45.7L137.4 47.6L146 51.7L154.7 56L163.5 60L170.8 65.7L177.5 72.6M99.5 39.7L109.1 41.4L118.6 43.7L128 46.3L137.2 48.2L145.7 52.2L154.6 56.2L163.2 60.4L170.8 65.7M127.9 46.7L137 48.9L145.3 53L154.1 57.2L162.7 61.3L170 66.6" stroke="#7be02a" stroke-width="1.1" opacity="0.85"/><path d="M84.6 154.3L90.9 161.5L98.1 166.9L106.9 168.1L116.5 170.9L124.6 173.9L133.4 172.4L142.1 171.4L150 168.1L159.9 164.4M76.1 150.3L81.8 157.2L90.8 161.7L97.7 167.7L106.2 170.4L115.8 173.6L124.5 175.4L133.7 174.2L143.1 174.2L150.3 168.6M74.9 151L82.1 156.9L89.4 163.5L97.6 167.9L105.9 171.5L115.8 173.8L124.5 176.9L133.8 175.1L143 174M68.9 142.9L75.2 150.8L80.4 158.7L88.1 165.1L95.9 171.2L105.4 172.9L115.4 175.2L124.4 178.6L134 176.7L143.6 175.8L151.9 171.2L161.4 166.8M67.6 143.6L72.5 152.6L78.9 160.2L87.4 166L94.8 173.1L104.8 175L114.7 177.9L124.3 180.4L134.5 180L144.4 178.2L153.5 173.8L161.5 167M61.2 135.2L66.1 144.4L72.3 152.8L78.7 160.4L86.7 167L94.8 173.3L104.6 175.6L114.4 179.2L124.3 182L134.6 180.9L144.5 178.4L153.7 174.2L162.8 169M61.8 134.9L65.4 144.8L69.8 154.5L77.5 161.7L85.8 168.1L93.7 175.3L104 177.8L114.2 179.9L124.2 182.6L134.7 182.1L145.1 180.3L154 174.6L162.8 169M60.5 135.5L64.2 145.4L69.3 154.8L75.5 163.8L84 170.3L93.5 175.7L103.4 179.8L113.8 181.5L124.1 185.6L134.8 182.7L146 182.9L154.5 175.4M62.8 146.1L68.1 155.6L74.4 164.8L83.8 170.7L92.7 177.1L103.1 180.8L113.4 183.2L124.1 187.1L135.2 185.4L146.3 183.7L155.9 177.7M58.4 136.7L63.6 145.7L67.4 156.1L73.9 165.4L82.2 172.6L91.3 179.8L102 184.3L112.4 187.2L124 187.7L135.3 186L146.2 183.3L155.6 177.3L164.2 171.2M66.8 156.5L72.6 166.7L81.2 174L90.6 181L102.1 184L112.5 186.9L124 189.3L135.6 188.9L147.4 186.8L156.2 178.2M71.3 168L80.8 174.4L89.2 183.5L101.1 187.3L112.1 188.4L123.9 190.3L135.7 189.3" stroke="#2fd22c" stroke-width="2.24" opacity="0.55"/><path d="M102.1 174.2L111.6 176.2L121 178L130.6 179.9M92.3 172.8L102.1 174.2L111.4 177.1L120.9 178.6M92.3 172.9L101.8 175.1L111.3 177.6L120.8 179.1L130.5 180.5M92.1 173.5L101.7 175.7L111.1 178.2L120.7 179.9L130.4 181.4M92 173.9L101.4 176.8L110.8 179.6L120.6 180.7L130.4 181.7M91.9 174.2L101.3 177.2L110.8 179.8L120.5 181.9L130.4 182M91.8 174.4L101 178.2L110.5 181L120.4 182.6" stroke="#2fd22c" stroke-width="1.1" opacity="0.8"/><path d="M50.1 103.1L56.9 110.2L61.6 119L64.7 128.4M41.6 98L49.6 103.6L56.2 110.7L60.7 119.4L64 128.6L66.2 138.1M41.4 98.3L49.1 104.2L55.5 111.1L60 119.7L63.3 128.8L66.1 138.1M41.1 98.7L48.7 104.6L54.9 111.5L59.1 120.1L62.7 129M48.3 105.1L54.2 112L58.1 120.5L61.6 129.4" stroke="#2fd22c" stroke-width="1.15" opacity="0.6"/><path d="M30.7 116.4L36.4 115.7L42.2 115.3L47.9 114.8M30.7 116.8L36.4 116.2L42.2 115.7L48 115.6L53.7 115.2M30.7 116.9L36.5 117L42.2 116.4L48 116.2" stroke="#7be02a" stroke-width="1.02" opacity="0.8"/><path d="M36.8 122.8L53.7 124.3" stroke="#2fd22c" stroke-width="1.53" opacity="0.6"/><ellipse cx="43.75" cy="96.7" rx="3.07" ry="3.99" fill="#d89020" stroke="none" opacity="0.8"/><path d="M178.8 121.2L188.7 122.1L198.4 124.9L207.6 128.8L216.2 134.1L223.4 141.3L217.5 145.7L207.8 146.3L206.8 155.8L201.9 163.4L192.5 167.5M168.8 122.8L178.8 121.7L188.6 122.7L198.1 125.5L207.2 129.5L215.7 134.7L222.8 141.4L217.3 144.9L207.3 145.7L206.2 155.7L201.6 162.9L192.5 167.1L182.7 165.7M168.9 123L178.8 122.3L188.5 123.1L197.9 126.1L207 130L215.3 135.2L222.1 141.5L217.2 144.4L207 145.4L205.7 155.5L201.2 162.5L192.4 166.6L182.7 165.5" stroke="#2fd22c" stroke-width="1.02" opacity="0.6"/><path d="M206.7 130.2L211.5 131.1L215.4 133.1L219.2 135.6M206.4 130.9L210.7 132.3L214.7 134.4L218.7 136.4L222.1 139.4M210.5 132.7L214.4 134.9L218 137.5L221.6 140.3M206.3 131L210.3 133L214.2 135.2L217.6 138.3L221.3 140.7M205.8 131.7L209.5 134.3L213.6 136.2L217.4 138.6L221.3 140.8M205.4 132.5L209.3 134.6L213 137.2L217 139.3L221.2 141M205.2 132.8L209 135.2L212.4 138.2L216.4 140.2L220.6 142M205.2 132.8L208.7 135.6L212 138.8L216.2 140.6L220.2 142.6M208.1 136.6L211.7 139.4L215.9 141.1M204.5 134L207.4 137.8L211.6 139.6L215.6 141.5L220.1 142.8" stroke="#2fd22c" stroke-width="1.15" opacity="0.9"/><path d="M190.6 160.8L195.1 158.1L199.7 155.4M190.9 161.4L195.4 158.6L199.9 155.7L204.9 153.7M187 165.3L191.1 161.8L196 159.5L200.4 156.5L205.3 154.3M187.4 165.9L191.8 163L196 159.6L200.8 157.2L205.6 154.9M187.5 166.2L192.2 163.6L196.9 161.1L201.4 158.2L206 155.6M187.6 166.4L192.7 164.5L197.2 161.7L201.6 158.6L205.8 155.3M187.9 166.9L192.8 164.7L197.6 162.3L202.3 159.9L206.2 155.9M193.3 165.5L198 163.1L202.5 160.1L206.3 156.1" stroke="#2fd22c" stroke-width="1.2" opacity="0.7"/><path d="M184.3 95.8L191.9 96.8L199.5 97M176.5 96.4L184.3 96.7L191.9 97.4L199.5 97.6L207.2 98M176.5 96.9L184.2 97.7L191.8 98.4L199.5 98.4L207.2 98.3M176.5 97.2L184.1 98.1L191.8 98.8L199.5 99L207.2 98.8M184 98.9L191.8 99.6L199.5 99.8" stroke="#2fd22c" stroke-width="1.15" opacity="0.6"/><path d="M188.8 107.4L196.5 113.6" stroke="#2fd22c" stroke-width="2.15" opacity="0.6"/><path d="M158.1 138.1L168.8 125.9L179.6 116.7" stroke="#2fd22c" stroke-width="1.84" opacity="0.55"/><path d="M153.9 157.1L154.8 153.2L156.1 149.4L157.7 145.7M153.6 161.2L154.7 157.3L155.8 153.5L156.8 149.6L158.2 145.8M154 161.3L155.5 157.6L156.8 153.8L157.6 149.8L158.7 146" stroke="#2fd22c" stroke-width="1.28" opacity="0.4"/><ellipse cx="115.12" cy="115.12" rx="17.65" ry="21.49" fill="#3236b4" stroke="none" opacity="0.51" transform="rotate(-35 115.12 115.12)"/><ellipse cx="89.8" cy="88.26" rx="5.83" ry="8.9" fill="#3236b4" stroke="none" opacity="0.51" transform="rotate(25 89.8 88.26)"/><ellipse cx="132.78" cy="144.29" rx="4.3" ry="9.52" fill="#3236b4" stroke="none" opacity="0.54" transform="rotate(10 132.78 144.29)"/><ellipse cx="188.8" cy="135.08" rx="9.21" ry="8.44" fill="#3236b4" stroke="none" opacity="0.51"/><path d="M0 135.1L15.3 139.7L30.7 142.8L36.8 153.5L27.6 165.8L18.4 173.5L0 178.1" stroke="#2fd22c" stroke-width="1.23" opacity="0.4"/><path d="M6.1 32.2L38.4 26.1L69.1 23L95.2 24.6" stroke="#2fd22c" stroke-width="1.84" opacity="0.3"/><path d="M122.8 191.9L130.5 211.8" stroke="#2fd22c" stroke-width="0.92" opacity="0.4"/><path d="M138.1 191.9L148.9 227.2" stroke="#2fd22c" stroke-width="0.92" opacity="0.35"/><path d="M161.2 176.5L171.9 190.3" stroke="#2fd22c" stroke-width="1.23" opacity="0.4"/><path d="M138.1 35.3L144.3 24.6" stroke="#d89020" stroke-width="0.92" opacity="0.5"/><path d="M176.5 50.7L187.3 43" stroke="#2fd22c" stroke-width="0.92" opacity="0.35"/><ellipse cx="56.79" cy="50.65" rx="1.53" ry="2.15" fill="#e0501e" stroke="none" opacity="0.65"/><ellipse cx="85.96" cy="38.37" rx="1.53" ry="2.15" fill="#e0501e" stroke="none" opacity="0.65"/><ellipse cx="118.19" cy="26.09" rx="1.53" ry="2.15" fill="#e0501e" stroke="none" opacity="0.65"/><ellipse cx="194.94" cy="61.4" rx="1.53" ry="2.15" fill="#e0501e" stroke="none" opacity="0.65"/><ellipse cx="49.12" cy="167.31" rx="1.53" ry="2.15" fill="#e0501e" stroke="none" opacity="0.65"/><ellipse cx="66" cy="179.59" rx="1.53" ry="2.15" fill="#e0501e" stroke="none" opacity="0.65"/><ellipse cx="147.36" cy="199.55" rx="1.53" ry="2.15" fill="#e0501e" stroke="none" opacity="0.65"/><ellipse cx="130.47" cy="211.83" rx="1.53" ry="2.15" fill="#e0501e" stroke="none" opacity="0.65"/><ellipse cx="110.52" cy="213.36" rx="1.53" ry="2.15" fill="#e0501e" stroke="none" opacity="0.65"/><ellipse cx="150.43" cy="230.25" rx="1.53" ry="2.15" fill="#e0501e" stroke="none" opacity="0.65"/><ellipse cx="173.45" cy="191.87" rx="1.53" ry="2.15" fill="#e0501e" stroke="none" opacity="0.65"/><ellipse cx="89.03" cy="191.87" rx="1.53" ry="2.15" fill="#e0501e" stroke="none" opacity="0.65"/><ellipse cx="59.86" cy="61.4" rx="1.53" ry="2.15" fill="#e0501e" stroke="none" opacity="0.65"/></g>
</g>
<rect x="1497" y="2161.6" width="35.2" height="5.6" fill="#c4c4c4" />
<rect x="1497" y="2163.3" width="35.2" height="1.6" fill="#f4f4f4" />
</svg>
</body></html>
